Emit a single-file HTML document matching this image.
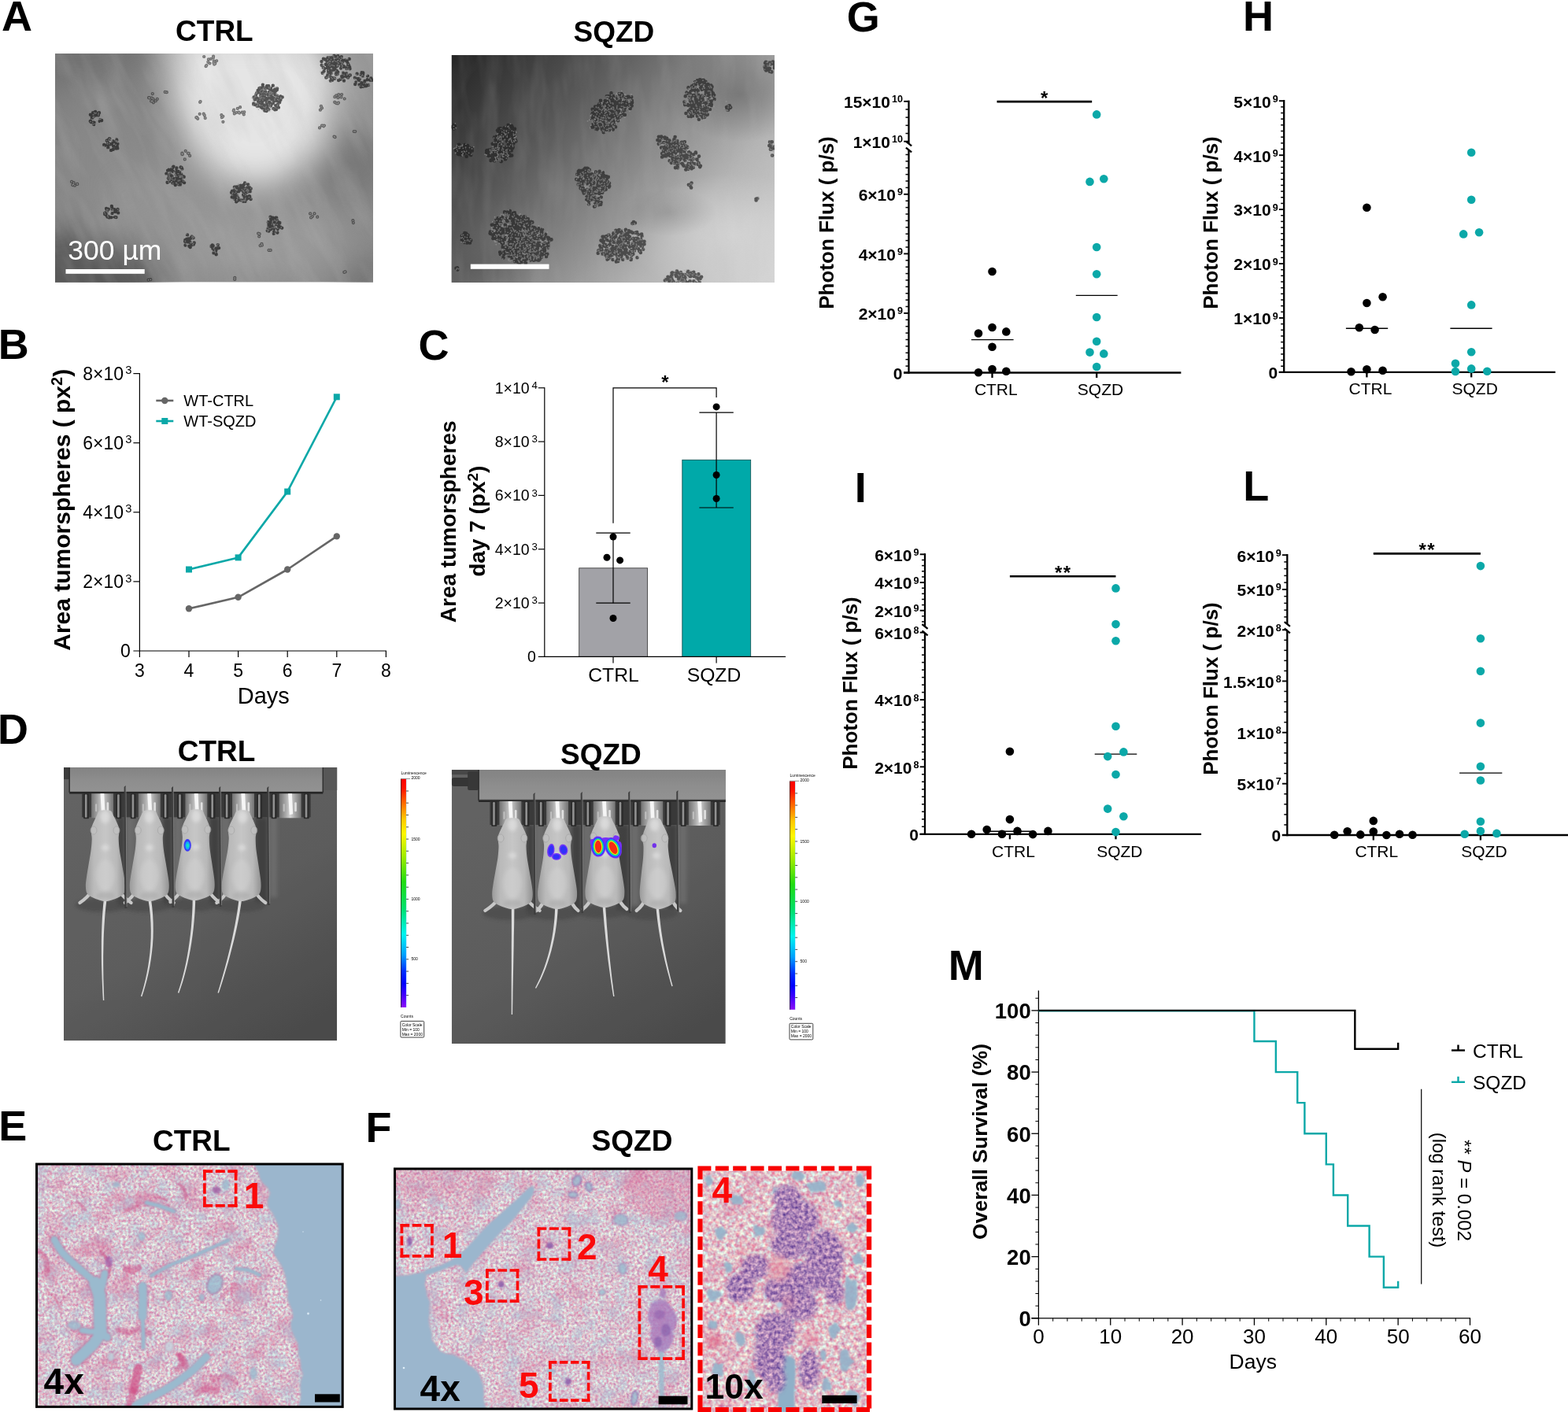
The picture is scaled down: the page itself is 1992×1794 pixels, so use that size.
<!DOCTYPE html>
<html lang="en"><head><meta charset="utf-8"><title>Figure</title>
<style>
html,body{margin:0;padding:0;background:#fff;}
svg{display:block;font-family:"Liberation Sans",sans-serif;}
.b{font-weight:bold;}
</style></head>
<body>
<svg width="1992" height="1794" viewBox="0 0 1992 1794">
<rect width="1992" height="1794" fill="#fff"/>
<defs>
<clipPath id="cA1"><rect x="70" y="68" width="404" height="290.5"/></clipPath>
<linearGradient id="gA1" x1="0" y1="0" x2="1" y2="1"><stop offset="0" stop-color="#7c7c7c"/><stop offset="0.5" stop-color="#8e8e8e"/><stop offset="1" stop-color="#8a8a8a"/></linearGradient>
<radialGradient id="gA1b" cx="0.5" cy="0.5" r="0.5"><stop offset="0" stop-color="#e4e4e4"/><stop offset="0.62" stop-color="#dedede" stop-opacity="0.97"/><stop offset="0.84" stop-color="#c4c4c4" stop-opacity="0.55"/><stop offset="1" stop-color="#a0a0a0" stop-opacity="0"/></radialGradient>
<radialGradient id="gA1c" cx="0.5" cy="0.5" r="0.5"><stop offset="0" stop-color="#4a4a4a" stop-opacity="0.75"/><stop offset="1" stop-color="#4a4a4a" stop-opacity="0"/></radialGradient>
<radialGradient id="gA1d" cx="0.5" cy="0.5" r="0.5"><stop offset="0" stop-color="#a8a8a8" stop-opacity="0.8"/><stop offset="1" stop-color="#a8a8a8" stop-opacity="0"/></radialGradient>
<filter id="fA1" x="-5%" y="-5%" width="110%" height="110%"><feGaussianBlur stdDeviation="0.55"/></filter>
<filter id="nA1" x="0" y="0" width="100%" height="100%"><feTurbulence type="fractalNoise" baseFrequency="0.012 0.05" numOctaves="3" seed="4" result="t"/><feColorMatrix type="matrix" values="0 0 0 0 0.5  0 0 0 0 0.5  0 0 0 0 0.5  1.6 0 0 0 -0.62"/></filter>
</defs>
<g clip-path="url(#cA1)">
<rect x="70" y="68" width="404" height="290.5" fill="url(#gA1)"/>
<filter id="bA" x="-50%" y="-50%" width="200%" height="200%"><feGaussianBlur stdDeviation="20"/></filter>
<g filter="url(#bA)">
<ellipse cx="60" cy="370" rx="150" ry="80" fill="#4c4c4c" opacity="0.8"/>
<ellipse cx="70" cy="60" rx="130" ry="45" fill="#6c6c6c" opacity="0.7"/>
<ellipse cx="130" cy="200" rx="60" ry="90" fill="#8c8c8c" opacity="0.5"/>
<ellipse cx="450" cy="210" rx="50" ry="45" fill="#707070" opacity="0.7"/>
<ellipse cx="480" cy="370" rx="50" ry="40" fill="#6a6a6a" opacity="0.7"/>
<ellipse cx="330" cy="310" rx="110" ry="45" fill="#a4a4a4" opacity="0.6"/>
<ellipse cx="210" cy="260" rx="80" ry="50" fill="#9a9a9a" opacity="0.5"/>
<ellipse cx="455" cy="90" rx="40" ry="40" fill="#a0a0a0" opacity="0.6"/>
<path d="M215,40 L400,40 L425,110 L410,185 L350,235 L290,230 L245,190 L220,130 Z" fill="#e6e6e6"/>
<ellipse cx="320" cy="120" rx="70" ry="70" fill="#e4e4e4" opacity="0.9"/>
</g>
<rect x="-80" y="-82" width="704" height="590.5" fill="#000" filter="url(#nA1)" opacity="0.3" transform="rotate(65 272 213)"/>
<defs><path id="pA1" d="M332.6 113.1h0M323.8 126.6h0M324.6 125.6h0M337.2 112.2h0M336.9 135.5h0M327.9 130.2h0M342.8 121.5h0M332.2 114.4h0M332.8 135.3h0M342.5 130h0M341.1 112.1h0M328.5 131.4h0M332.5 128.3h0M331.5 135.9h0M329.7 127.9h0M353 132.8h0M336.6 133.4h0M339.1 109.1h0M350.5 128.1h0M332.3 132.2h0M342.8 123.8h0M357.1 124.5h0M322.2 132.5h0M331 121.4h0M322.8 124.2h0M349.1 113.6h0M335.8 136.8h0M337.4 127.2h0M351 137.1h0M336 120.2h0M328 116.9h0M339 128.3h0M334 127.9h0M346.9 125.9h0M346.8 108.8h0M350.9 139h0M335.8 122.3h0M344.1 112.1h0M328.9 114.4h0M333.9 107.8h0M343.6 114.2h0M334.2 121.2h0M338.3 124.9h0M325.2 120.4h0M350.6 115.2h0M355.2 126.3h0M341.2 109.2h0M346.7 117.5h0M326.7 134.7h0M349.4 120h0M353.9 136.6h0M348.7 116.1h0M334.6 111.2h0M330.7 116.8h0M358.7 123.4h0M334.7 116.5h0M327.6 115h0M338.7 131h0M322.2 131.4h0M350.2 133.9h0M327.8 134.8h0M335.1 121.7h0M347.3 115.2h0M352.1 112.4h0M334.3 126.9h0M345.8 126.4h0M336.8 139h0M329.1 117.4h0M330.2 128.2h0M336.1 111.6h0M333.8 123.9h0M356.4 122.4h0M339.6 126.5h0M322.6 123.5h0M326.4 124.5h0M341.7 119.5h0M341.4 134.2h0M341.7 117.3h0M350 125.7h0M349.2 139.2h0M343.8 125.6h0M346.9 123.8h0M338.6 141.1h0M329.4 127.6h0M351.2 114.2h0M337.4 111.8h0M322.2 131.6h0M347 130.4h0M335.2 124.9h0M351.9 114.1h0M340 120.3h0M333.4 132.1h0M341.3 123.6h0M333.1 129.6h0M326.1 118.3h0M349.2 118.3h0M336.3 140.5h0M329.4 112.3h0M341.9 131.5h0M323 131.7h0M344.1 134.6h0M352.8 123.9h0M341.4 139.1h0M326.3 126.3h0M331.9 118.4h0M332.1 125.4h0M347.7 127h0M338.6 138.8h0M351.6 123.1h0M352.2 121.8h0M333.2 137.3h0M344.5 122.3h0M324.1 133.1h0M345.6 118.4h0M332.3 124.1h0M337.2 116.5h0M356.4 126.9h0M335 124.5h0M329.5 125.5h0M330.8 111.8h0M331.9 116.1h0M340.7 134.2h0M347.5 137.9h0M325.7 133.3h0M355.2 130h0M351.4 113.1h0M339.7 137.6h0M353.1 128.5h0M346 131.5h0M333.8 110.9h0M429.3 91.7h0M433 86.7h0M438.3 95.9h0M428.2 92.1h0M435.1 79h0M418.7 94.7h0M426.8 82.8h0M434.2 96.9h0M432 73.1h0M418.1 95.3h0M429.3 71.3h0M417.8 93.5h0M433.7 79.4h0M425.8 85.9h0M443.7 74.9h0M425.3 99.8h0M425.2 79.3h0M430.1 74h0M440.3 87.3h0M435.5 76.4h0M426.5 71.9h0M426.7 85.3h0M413.9 81.6h0M435.7 98.1h0M444.8 95.4h0M419.2 82.5h0M422 84.5h0M441 78.5h0M417.4 78.5h0M413.9 81.9h0M442.1 98.6h0M428.7 94h0M436.4 85.1h0M431.9 80.1h0M426 81.6h0M418.3 92.3h0M429 83.5h0M412.9 75.5h0M426.9 75.9h0M444.2 85.4h0M421.4 73.2h0M417 89.7h0M436.3 83.9h0M427.9 82.7h0M408.5 78.1h0M412.3 87.1h0M440 77.3h0M417.6 83.4h0M442.4 86h0M418.2 74.1h0M427.9 94.2h0M436 92.6h0M425.6 88.6h0M438.8 76.4h0M432 80.6h0M417.1 92.1h0M427.9 89.9h0M417.7 90.2h0M418.6 85.4h0M432.5 100.7h0M415.8 76.9h0M433.9 80.9h0M426.9 93.2h0M416.8 93.6h0M420.6 84h0M414.9 98.3h0M427.2 75.2h0M420.3 97.8h0M416.9 95.9h0M442.9 86.9h0M416.1 83.9h0M422.5 75.5h0M408.7 82.8h0M443.3 96.4h0M442.2 81.3h0M409.7 92.7h0M422.6 81.4h0M421.9 101.9h0M421.1 99.5h0M424.4 70.9h0M422.5 101h0M422.4 99.7h0M423.4 98.9h0M416.9 96.8h0M420.2 77.9h0M431.7 78h0M420.9 79.9h0M437 102.5h0M415.8 86h0M443.2 83.2h0M424.1 86.7h0M414.3 98.5h0M439.6 97.1h0M420.7 80.7h0M416.2 95.6h0M429.2 80h0M418.9 73.5h0M426.9 94.5h0M416.6 83.9h0M434.2 96.7h0M433.8 72.2h0M419.4 89.3h0M435.5 76.8h0M416.4 73.4h0M429.9 80.9h0M444.5 87.2h0M440.1 93.2h0M410.7 86h0M410.9 74.6h0M430.1 102h0M440.1 85.3h0M411.6 90.6h0M417.2 82.7h0M415.5 78h0M432.1 77.6h0M420.9 92.9h0M419.4 75.6h0M428.7 72.8h0M422.9 88.9h0M434 83.9h0M420 102.6h0M429.5 82h0M421.5 75.5h0M443.4 84h0M459 109.6h0M462.2 105.1h0M452.2 104.4h0M461.1 95.3h0M461.4 109.7h0M460.8 108.8h0M453.6 93.7h0M470.3 101.7h0M471.3 99.5h0M463.4 108h0M467.1 96.6h0M468 108.1h0M454.8 100h0M458.6 94.9h0M465.4 109.1h0M462.2 106.6h0M463.3 103h0M456.7 100.4h0M459.4 105.1h0M459.6 92.2h0M460.8 96.4h0M466.7 101.2h0M460.5 94.8h0M459.5 93.9h0M461.2 92.5h0M451.2 107h0M461.3 93.1h0M458.5 110.2h0M465.7 107.8h0M472.8 101.8h0M450.9 98.8h0M456.5 107.8h0M461 109.8h0M456 102.1h0M464.6 109.3h0M315.2 234.5h0M311.5 240.9h0M309.1 247.4h0M311.3 241.9h0M309.7 241h0M305.9 235.8h0M300.1 249.2h0M309.7 249.2h0M298.2 248.1h0M307.8 254.7h0M301 248.7h0M297.6 241.4h0M309.6 247.2h0M310.6 244.4h0M311.5 255.7h0M305.2 239.4h0M311.3 246.6h0M311.8 243.3h0M314.4 237.6h0M295.5 245.8h0M308.8 255.9h0M299.4 247.9h0M311 252.8h0M302.9 240.2h0M318.6 253h0M314.5 244h0M306.3 238.3h0M302.9 252.1h0M316.3 250.4h0M309.1 243.2h0M308.1 238.4h0M300.7 237.5h0M303 254.8h0M300.2 256.3h0M313.3 250h0M306.6 254.6h0M317.7 243.2h0M309.3 240.2h0M311.1 232.5h0M303.8 236.4h0M294.7 250.4h0M312.3 250.7h0M310.1 241h0M297.9 237.8h0M316.6 248.9h0M310.7 239.8h0M297.4 251.5h0M303.2 243.2h0M300.6 238.8h0M303.5 239.6h0M307.6 254.8h0M295 242.7h0M315.2 240.7h0M308.6 236.7h0M298.5 252.9h0M294.1 244.8h0M315.5 236.5h0M303.6 253.4h0M318.7 239.6h0M312.4 245h0M311.4 232.9h0M313 253h0M303.7 242.4h0M298.8 238h0M307.5 241.4h0M300.3 243.9h0M314.6 252.1h0M303.7 240.7h0M317.3 249.6h0M298 243.2h0M309.6 235h0M317.1 238.4h0M301.7 250.9h0M214.6 215.6h0M218.9 224.5h0M218 215h0M229.6 212.5h0M211.4 220.6h0M230.5 230h0M215.8 227.2h0M216.2 221.4h0M220.3 231.9h0M223 227.4h0M213.9 226.6h0M229.2 234.4h0M224.9 230.4h0M215.3 230.3h0M230.7 229.6h0M227.6 227.6h0M218.6 227h0M220.8 231.7h0M226.3 217.6h0M221.9 227.1h0M227.2 234.3h0M226.9 231h0M222.8 235h0M224.2 214.6h0M233.4 224.5h0M225 225.1h0M223.3 227.9h0M223.6 221.4h0M215.7 228.7h0M230.6 213h0M219.4 213.1h0M220.4 211.6h0M221 229h0M216.5 216.4h0M233.7 224.7h0M230.3 221.4h0M212.6 231.7h0M226.5 223.2h0M218.9 227.9h0M230.8 223.2h0M224.4 213.5h0M219.4 232.6h0M219.8 217.7h0M228.4 218.7h0M217.9 223.5h0M226.5 228h0M232.6 230.7h0M230.6 227.1h0M226.7 218.1h0M213.1 216.6h0M218.6 214.1h0M231.3 214.6h0M225.9 231.6h0M234.1 232.1h0M215.1 229h0M229.9 222.3h0M224.3 218.3h0M214.6 223.8h0M344.1 278.2h0M344.9 286.9h0M344.1 287.4h0M353.7 283.3h0M348.2 288.7h0M348.1 290.4h0M345.3 285.6h0M348.5 282.1h0M341.5 285.4h0M351.9 279.7h0M342.8 287.3h0M339.7 293h0M345.1 281h0M358.2 289.6h0M340.8 282.2h0M347.4 289.2h0M353.9 286.9h0M348 289.7h0M356 288.5h0M348.4 290.4h0M349.9 279.4h0M344 291.2h0M352.4 295.5h0M341.4 293.6h0M346.5 280.9h0M343 282.1h0M348.3 294.5h0M346.6 276.8h0M353.9 287.8h0M343.6 275.6h0M347.7 296.7h0M344.4 284.3h0M348.4 280.2h0M350.3 276.7h0M351 280h0M352.7 291.1h0M351.2 276.6h0M351 285h0M340.5 290.6h0M353.4 285.7h0M341.6 287.6h0M349.9 277.6h0M341.3 289.3h0M342.7 283.3h0M346.6 281.9h0M353.7 282.2h0M347.6 281.9h0M355.5 283.2h0M347.8 295.4h0M137.2 181.7h0M147.6 188.5h0M149.3 188.4h0M143.6 179.1h0M148.8 186.2h0M138.9 176.3h0M148.3 177.9h0M144.1 185.8h0M135.8 178.8h0M147.3 182.4h0M147.7 187.1h0M143.7 189.9h0M142.4 182.6h0M136.3 178.5h0M146.1 180.8h0M140.2 183.3h0M139.4 176.5h0M147.9 177.4h0M139.3 183.3h0M149.4 182.8h0M137.3 187.4h0M136.6 178.4h0M132.2 184h0M141.1 190.9h0M133.5 184.5h0M137 184.1h0M129.1 153h0M121.1 143.2h0M119.4 158h0M126.7 153.9h0M115.7 155.1h0M124.9 146.3h0M126 143.2h0M118.1 143.3h0M117.2 145.7h0M125.1 145.1h0M121.1 142h0M127.4 152.3h0M119.5 155.8h0M123.9 144h0M114.8 153.9h0M118.6 148.5h0M118.5 155.9h0M116.9 149.8h0M127.9 152.8h0M121.7 146.4h0M116.7 147.3h0M114.9 145.8h0M115.3 153.9h0M147 268.2h0M142.5 265.6h0M149.5 265.9h0M135.1 265h0M145.4 266.1h0M134.6 272.2h0M137.8 265.7h0M145.8 275.6h0M146.4 269h0M138.8 276.4h0M141.9 262h0M141.6 276.1h0M136.5 275.6h0M135.8 268.4h0M133.2 270.8h0M142.3 264.1h0M147.5 276.1h0M146 268.5h0M150.2 270.4h0M142.5 271h0M138 275h0M135.3 273.5h0M133.2 272.1h0M241.7 308.3h0M246.7 308.5h0M235.4 304.9h0M238 298.4h0M235.1 306.8h0M235.4 306.4h0M235.5 311.5h0M239.5 303.5h0M241.9 302.9h0M245.6 302.3h0M238.5 303.7h0M245.9 310.6h0M241.7 314.1h0M237.3 303.6h0M239.5 305.5h0M240.5 305.1h0M243.7 311.1h0M243.8 300.6h0M237.4 305.8h0M243.3 300.5h0M240.4 312.7h0M238.6 307.4h0M274.7 323.3h0M270.1 315.5h0M268.4 312.8h0M270.7 312.3h0M274.1 321.6h0M274.3 318.2h0M276.4 315.4h0M274.9 315.5h0M269.8 311.5h0M272 317.2h0M271.5 321.4h0M274.2 315.9h0M276.8 311.1h0M278.1 315.1h0"/><path id="pA1s" d="M264.9 75.4h0M259.2 72h0M271.1 71.7h0M264.3 78.8h0M273.3 80.8h0M271.6 79.9h0M266.5 80.5h0M271.8 77.5h0M275.2 77.3h0M272.2 81.7h0M264.9 75.6h0M270.9 73.5h0M268 74.8h0M197.8 128.2h0M193.8 119.1h0M190.1 124.4h0M192.1 128.5h0M193.6 128.4h0M189 124.2h0M194.9 130.3h0M194.6 125.8h0M192.8 124.6h0M199.8 125.8h0M296.7 140.8h0M304.1 143.6h0M310.3 142.3h0M300.3 143h0M297.1 139.7h0M307.7 142.7h0M309.8 145.4h0M301.8 137.9h0M303.2 142.6h0M297.8 144.4h0M305.1 136.2h0M259.8 146.6h0M260.7 150.1h0M250.1 149h0M251.2 150.8h0M253.7 144.8h0M258.8 144.7h0M249.3 149.3h0M95 235.7h0M92.3 235.1h0M91 230.9h0M97.9 233.8h0M93.6 232h0M98.3 233.9h0M93.4 234.1h0M239.7 194.8h0M238.9 194.8h0M241.1 197.9h0M231.8 196.1h0M231.4 194.7h0M234.8 202.4h0M231.4 195.9h0M235.7 191.8h0M429.4 124.2h0M425.2 129.8h0M427.1 121.3h0M433.4 123.4h0M434.1 120h0M430 130.5h0M425.3 123.2h0M429.2 131.4h0M437.7 125.5h0M430.2 120h0M427.1 131.1h0M407.9 134.9h0M406.9 139.7h0M409.1 137.3h0M411.3 160.3h0M409.5 159.5h0M411.9 159.5h0M406 162.4h0M409 159.5h0M449.7 167h0M451.2 167.1h0M425.6 174.2h0M424.5 173.6h0M396.9 275h0M395.1 276.4h0M399.4 271.4h0M403.2 275.7h0M394.1 271.4h0M328.1 296.7h0M329.7 297.2h0M329.2 300.5h0M330.6 312.1h0M332.5 309.9h0M332.9 311.6h0M341.6 317.9h0M343.7 317.9h0M448.9 283.1h0M448.4 280.2h0M437.3 345.8h0M438.6 345.4h0M298.3 352.9h0M298.2 354.9h0M209.7 116.9h0M211.8 117.2h0M283.4 154.8h0M283.3 147.8h0M281.9 149.2h0M281.4 146.2h0M254.6 129h0M254.1 129.8h0M262.4 83.1h0M261.6 84.2h0M191.3 355.2h0M188.6 355.7h0"/><path id="pA1h" d="M337.9 135.2h0M325.3 118.5h0M330.8 114.6h0M337.6 112.8h0M338.4 121.1h0M321.9 133.6h0M341.9 112.1h0M337 114.7h0M345.6 130.2h0M344.9 117.5h0M349.4 136.4h0M326.6 130.5h0M350.9 137.3h0M332.4 113.8h0M332.6 120.9h0M334.8 136h0M321.5 127.7h0M352.8 133.1h0M356.4 125.2h0M326.2 118.5h0M324.8 131.3h0M337.6 139.8h0M323.3 123.5h0M353.3 138.3h0M336.6 117.7h0M340 122.8h0M337 131.5h0M331.6 123.4h0M334.3 116.1h0M332 123.9h0M343.6 134.9h0M345.9 128.9h0M342.2 140.7h0M344.9 118.8h0M327.8 131.4h0M324.2 130.7h0M342.6 122.5h0M341.7 122.2h0M341.5 111.1h0M330.1 111.5h0M329.9 125h0M330.1 127.6h0M340 128.1h0M336.1 111.1h0M354 127.2h0M350.4 110.8h0M348.6 110.8h0M334.9 113h0M341.7 133.9h0M330.7 121.6h0M342.9 116.1h0M348.1 122.6h0M344.2 138.2h0M327.4 133.4h0M350.3 132h0M324.3 120.8h0M354.7 132.1h0M343.5 111.6h0M352.2 110.9h0M345.7 117.7h0M337.4 137.1h0M325.8 134.9h0M341.7 117.9h0M334.6 112.2h0M341.1 132.3h0M333.5 113.5h0M352.1 134.5h0M326.9 136.7h0M335.8 124.6h0M353.8 121.5h0M343.5 111.6h0M328.5 139.1h0M334.1 124.3h0M335.7 121h0M342.2 120.4h0M338.1 140.1h0M326.8 130.9h0M331.4 125.4h0M342.4 126.5h0M342 135.4h0M350.3 130.1h0M333.9 117.4h0M346.8 118.3h0M348.9 125.7h0M333.9 127.1h0M323.5 120.1h0M357.5 124.8h0M330.1 116.7h0M353.4 123.8h0M341.9 119.2h0M323.8 119h0M349 127.3h0M333.3 140h0M342.5 141.4h0M350.9 122.7h0M321.5 124.8h0M332 118.1h0M326.1 117.1h0M329.6 122.2h0M343.5 138.2h0M326.7 134.2h0M343.6 110h0M352.5 120.5h0M326.6 126.8h0M344.4 138.8h0M332.7 134.2h0M336 131.2h0M324.5 122.8h0M344.3 119.8h0M343.2 117.2h0M341.7 140.2h0M343.7 132.7h0M327.3 133.6h0M351.5 122.8h0M343 127.3h0M343.6 119.3h0M329.7 133h0M350.7 118.5h0M356.7 123.9h0M340.3 139.1h0M320.1 124.5h0M351.1 120.2h0M330.2 133.3h0M322.6 125.5h0M334.8 114.4h0M347.8 138.6h0M339.5 129.9h0M350.4 124.1h0M348.7 110.1h0M336.2 136.5h0M429.7 83.4h0M442.8 91.3h0M417.7 78.6h0M416.2 75.7h0M433.1 78.9h0M417.1 89.3h0M417.5 96.8h0M418.8 81h0M433.9 90.5h0M429.8 99.8h0M442.6 81.6h0M442 74.6h0M435.3 73.7h0M433.7 72.8h0M444.4 95.5h0M416.5 98h0M410.6 87.2h0M424.7 74.4h0M426.5 74.1h0M415.8 93.1h0M435.2 87h0M420.9 86.9h0M420.6 75.6h0M440.8 94.9h0M416 79.4h0M410 87.3h0M428.9 82.6h0M434.2 92.6h0M429.1 94.6h0M440.9 94.6h0M419.3 83.8h0M422.8 83h0M443.6 77.9h0M422.7 78.3h0M436.6 100.1h0M434.6 80.5h0M429.1 79.6h0M440.7 87.4h0M431.8 95.5h0M435.1 83.1h0M431.1 93.1h0M431.6 88.4h0M431.7 77.7h0M426 95h0M426.2 77.8h0M443.3 88h0M428 97.6h0M414.7 98.5h0M432.8 99.9h0M422.1 99.9h0M417.9 73.2h0M438.4 87.8h0M409.5 82.8h0M434.4 85.2h0M437.4 95.5h0M433.9 82.2h0M417.4 82.5h0M422.8 70.9h0M429.5 72.3h0M434.9 79.2h0M418.2 97.8h0M431.8 99h0M424 97.8h0M422.2 70.8h0M422.2 94.3h0M423.2 92.7h0M421.3 82.8h0M422.3 92.7h0M411.2 96h0M428.1 86.9h0M430.5 85.7h0M439.8 84h0M441.8 84.8h0M427.5 99.2h0M435.1 83.9h0M434.3 89.1h0M436.6 74.2h0M435.6 89.1h0M433.8 94.6h0M410.4 93.7h0M438 99.3h0M421.5 87.6h0M418.5 80.7h0M440.7 89h0M424.1 71.6h0M442.1 98.8h0M418.8 77.4h0M428.4 82.5h0M426.6 89.9h0M439.6 75.1h0M429 71.6h0M428.3 83.7h0M419.8 78.3h0M418.5 95.1h0M430.9 85.2h0M425.1 99.2h0M424.8 91.5h0M431 74.3h0M429.3 97.8h0M433.3 93h0M417 98.1h0M423.9 92.4h0M441.1 93.1h0M412 93.3h0M439 80h0M430.2 80.4h0M420.9 98.3h0M423 70.7h0M432.4 76.9h0M410.7 85.7h0M424.6 92.8h0M442.9 87.9h0M421.2 96h0M426.4 100.4h0M428.4 73.5h0M417.6 102.3h0M407.2 91h0M420.9 103.6h0M410.1 81.1h0M418.1 95.1h0M436.8 80.5h0M429.3 72.3h0M437.8 90.4h0M411 87.4h0M464.3 94.5h0M457.6 99.4h0M452.8 94.7h0M457 109.5h0M460.6 95.7h0M460.9 102.7h0M460.3 95.2h0M461.1 99.5h0M459.1 96.6h0M455.3 109.4h0M471.4 101.8h0M462.4 105.5h0M466.2 95.5h0M450.6 99.9h0M456.9 109h0M462.8 96.6h0M466.6 105.8h0M454.8 104.2h0M450.4 104.5h0M468.4 98.6h0M460.3 109.4h0M470.5 100.3h0M451.4 96.6h0M464.8 95.3h0M453.6 96.4h0M460.5 101.9h0M470.3 107.2h0M453.8 104.7h0M467.6 93.4h0M457.3 94.5h0M464.5 106.5h0M470.6 107.3h0M467.5 103.8h0M468.8 108.2h0M461.6 110.1h0M301.2 253.5h0M299.9 243.9h0M307.3 256.5h0M313.6 241.9h0M316.3 250.5h0M315.4 242.7h0M311.5 253.7h0M310.2 254.7h0M295.7 244.7h0M297.2 253.3h0M310.2 243.9h0M299.1 240.7h0M310.4 239.9h0M301.4 250.4h0M311.5 252.5h0M312.8 231.7h0M298 238.2h0M303.4 236.9h0M310.4 255.4h0M307.5 257.3h0M316.5 235.8h0M320.4 243.7h0M301.4 241.4h0M308.9 254.8h0M303.9 257.7h0M312.1 233.2h0M306 257h0M311.7 248.5h0M308.2 250.2h0M307.4 240.9h0M312.4 246.5h0M314.7 256.1h0M302.3 234.1h0M309.6 246.8h0M304.5 251.9h0M301.9 251.7h0M308.8 242.6h0M311.7 253.6h0M304.1 258.1h0M312.2 239.5h0M309.7 254.4h0M303.4 235.2h0M313.6 236.5h0M295.8 239.7h0M298.2 239.3h0M299.4 240.2h0M297.2 238.7h0M304.6 256.8h0M306.1 254.4h0M314.4 240.4h0M314.5 244.2h0M311.9 251.5h0M303.8 256.4h0M302.1 248.3h0M316 246.7h0M318.6 239.1h0M295.2 246.4h0M312.7 242.5h0M296.6 239.6h0M320.7 248.8h0M315.7 241.9h0M313.9 240.8h0M315.1 241.2h0M317.6 245.9h0M311.7 254.9h0M303.2 233.5h0M307.6 254.9h0M309.6 242.4h0M301 255h0M317 235.2h0M315 245h0M319.1 252.1h0M311.2 254.3h0M228.4 229.4h0M217 212.5h0M230.8 218.5h0M215.5 213h0M219.7 228.7h0M230.8 220h0M226.2 215.1h0M211.4 222.6h0M216.1 227.2h0M218.9 225.7h0M231.3 215.8h0M230.1 224.9h0M223.1 222.2h0M226.4 230h0M220.3 224.3h0M215 234.7h0M212.8 223.5h0M221.7 229h0M221.9 220.2h0M220.7 218.8h0M229 224.4h0M215.7 228.9h0M216.6 225.6h0M228.2 229.1h0M232.7 230h0M217.4 220.5h0M218.3 213.1h0M219 235.1h0M221.9 214.6h0M214.1 231.2h0M231.3 223.3h0M224.5 224.2h0M234.8 230h0M236.2 222.3h0M219.7 232.8h0M215.8 226.2h0M229.6 223.2h0M232.1 224.8h0M218 227.5h0M222.6 227.4h0M216.5 234.3h0M213.6 226.2h0M215 222.8h0M226.5 229.3h0M213 229.2h0M222.2 221.3h0M228.8 217h0M227.6 223.3h0M232.5 226.3h0M215.5 221h0M231.9 227.7h0M215 228.9h0M226.4 234.3h0M230.4 212.5h0M228.9 215.3h0M215.1 224.3h0M231.2 235.1h0M224.5 232.4h0M348.3 288.2h0M346.2 281.5h0M352.4 285.2h0M348.8 279.7h0M346.1 283.1h0M351.5 294.3h0M335.1 283.2h0M352 278.1h0M334.7 290.3h0M345.5 285h0M348.2 289.6h0M351.6 293.2h0M352.8 290.2h0M349.6 293.6h0M355.9 278.2h0M343.6 290.3h0M340 282.8h0M333.2 284.6h0M349.3 296.1h0M351.2 281.3h0M342.9 276.1h0M340.3 292.3h0M355.2 292.5h0M340.3 288.7h0M345.9 295.4h0M345.8 289.3h0M357.5 283.8h0M340.1 293.9h0M338 291.3h0M336.2 284.6h0M350.3 291.7h0M339.2 281.3h0M349.7 280h0M357.3 289.2h0M349.2 288.3h0M340.4 277.4h0M344.8 296.8h0M339.6 291.5h0M334.8 281.8h0M350.2 284.7h0M341.4 292.5h0M354.3 279.5h0M352.5 289.6h0M349.3 288h0M337.5 278.9h0M358 283.3h0M346.6 280.5h0M341.8 290.5h0M352.2 280.7h0M142.4 177.2h0M147.7 179.7h0M146.9 178.9h0M136.6 181.2h0M145.1 182.5h0M132.3 185.8h0M140.8 176.9h0M145.8 177.1h0M141.6 178.1h0M140.9 177.5h0M138.9 182.5h0M143 176.6h0M147.3 184.1h0M142.5 179.2h0M148.6 178.9h0M137.4 189.7h0M146.6 176.3h0M138.2 178.1h0M138.9 176.2h0M141.7 178.5h0M144.7 183.2h0M141.4 186.9h0M136.5 183h0M145.2 176.9h0M149.8 180.7h0M135.5 178.5h0M121.1 144h0M126.4 151.7h0M120.6 152.8h0M121.6 150.2h0M121.9 159.1h0M117.8 155.6h0M119.3 148.4h0M119.8 143.4h0M118.1 149.2h0M125.2 143.9h0M122.4 151.6h0M116.7 151.5h0M120.5 157.3h0M118.4 157.8h0M118.3 145.8h0M128 148.6h0M127.8 155.7h0M122.2 143.5h0M124.7 151.7h0M127.9 151.2h0M124.9 145.9h0M119.8 150.4h0M115 154.5h0M141.5 273.5h0M132.8 270.1h0M145.5 272.7h0M136.7 269.3h0M136.1 268.9h0M149.6 266h0M139.3 273.3h0M135.8 266.4h0M135.6 269h0M133.6 272h0M143.5 268.1h0M140.9 265.3h0M135.2 268.2h0M147 276.1h0M144.7 274.1h0M136.8 274.6h0M137.5 275.8h0M143.4 266.2h0M142.6 273.9h0M136.8 273.3h0M136.9 266.6h0M139.2 270.8h0M140.6 270.2h0M243.3 308.3h0M245.9 309h0M241.3 298.8h0M242.3 297.6h0M244.6 302.8h0M236.8 310.7h0M235.4 306.4h0M245 310.9h0M236.9 297.4h0M242.4 299h0M242.8 297.7h0M237.3 300.7h0M241.9 308.6h0M244.8 300.2h0M243.7 308.5h0M247.5 299.9h0M243.8 301h0M236.7 310.3h0M245.9 301.7h0M245 296.8h0M241.6 298.1h0M247 304.4h0M268 316.1h0M271.5 319.5h0M276.9 310.3h0M271.9 315.8h0M275.7 311.7h0M273.1 319.6h0M271.4 315.1h0M278.9 317.7h0M272.8 318.1h0M272.9 317.8h0M267 320.3h0M272.5 309.5h0M266.7 312.4h0M273.8 320.9h0"/></defs>
<g filter="url(#fA1)" stroke-linecap="round" fill="none">
<use href="#pA1" stroke="#1c1c1c" stroke-width="4.4" opacity="0.72"/>
<use href="#pA1h" stroke="#9a9a9a" stroke-width="1.7" opacity="0.55"/>
<use href="#pA1s" stroke="#2a2a2a" stroke-width="4.2" opacity="0.62"/>
<use href="#pA1s" stroke="#b0b0b0" stroke-width="1.6" opacity="0.7"/>
</g>
<rect x="83.5" y="342" width="100.2" height="5.8" fill="#fff"/>
<text x="86.3" y="329.8" font-size="35.5" fill="#fff">300 µm</text>
</g>
<defs>
<clipPath id="cA2"><rect x="573.5" y="70" width="410.5" height="289"/></clipPath>
<linearGradient id="gA2" gradientUnits="userSpaceOnUse" x1="590" y1="60" x2="960" y2="370"><stop offset="0" stop-color="#262626"/><stop offset="0.25" stop-color="#4e4e4e"/><stop offset="0.5" stop-color="#808080"/><stop offset="0.75" stop-color="#b4b4b4"/><stop offset="1" stop-color="#d4d4d4"/></linearGradient>
<radialGradient id="gA2b" cx="0.5" cy="0.5" r="0.5"><stop offset="0" stop-color="#d6d6d6" stop-opacity="0.9"/><stop offset="1" stop-color="#d6d6d6" stop-opacity="0"/></radialGradient>
<radialGradient id="gA2c" cx="0.5" cy="0.5" r="0.5"><stop offset="0" stop-color="#555" stop-opacity="0.7"/><stop offset="1" stop-color="#555" stop-opacity="0"/></radialGradient>
</defs>
<g clip-path="url(#cA2)">
<rect x="573.5" y="70" width="410.5" height="289" fill="url(#gA2)"/>
<ellipse cx="930" cy="300" rx="130" ry="80" fill="url(#gA2b)"/>
<ellipse cx="940" cy="120" rx="90" ry="60" fill="url(#gA2c)" opacity="0.7"/>
<ellipse cx="600" cy="340" rx="80" ry="50" fill="url(#gA2c)" opacity="0.8"/>
<ellipse cx="850" cy="270" rx="60" ry="30" fill="url(#gA2c)" opacity="0.35"/>
<rect x="473.5" y="-30" width="610.5" height="489" fill="#000" filter="url(#nA1)" opacity="0.2" transform="rotate(90 779 214)"/>
<defs><path id="pA2" d="M774.1 144h0M773.9 141.8h0M759.2 152.2h0M756.2 135.6h0M776.5 118.4h0M802.8 127.7h0M768.9 128h0M772.3 139.9h0M779.2 143.5h0M782.5 133.7h0M795.9 134.3h0M759.5 143.7h0M788 127h0M778.9 158.5h0M798.1 123.1h0M761.5 131.8h0M784.2 125.6h0M776.1 160.3h0M753.5 146.2h0M760.5 153.2h0M765.3 156.2h0M775.3 124.8h0M754.3 144.5h0M788.2 122.6h0M757.3 148.3h0M774.8 122.2h0M755 144h0M764.1 140.7h0M757.5 156.1h0M778.1 133.2h0M798.9 123.2h0M786.9 120.2h0M755.6 140.6h0M778.9 135h0M766.7 154.4h0M792.9 131.9h0M764.6 156.1h0M761.8 152.6h0M777.2 129.1h0M764.1 146.3h0M756.2 148.3h0M752.1 150.4h0M785.9 136.2h0M803 130.3h0M753.9 161h0M784.7 125.5h0M753.7 157.6h0M801.7 132.3h0M771.2 151.7h0M793.9 123.7h0M796 129.1h0M771 147h0M754.7 161.3h0M798.6 133.3h0M788.8 134.3h0M780 136.4h0M785.8 133h0M790.1 121.1h0M769.3 151.5h0M783.2 132.3h0M770.3 150.3h0M778.2 152.4h0M792.9 123.2h0M759.1 136.7h0M800.6 137.9h0M758.7 150.1h0M758.8 148.3h0M771.3 135h0M796.7 123.7h0M775.4 131.9h0M763 127.7h0M757.4 139.7h0M781.2 134h0M790.9 143.7h0M779 125.5h0M778.1 146.7h0M760.2 144.3h0M779 142.9h0M775.8 153.4h0M779.5 122.3h0M789.4 147h0M787.2 149h0M798.1 122.9h0M764 158.2h0M786.2 141.3h0M802.2 123.2h0M774.3 159.6h0M759.9 134.2h0M783.3 146h0M754.3 147.8h0M781.1 146.4h0M793.8 146h0M762.6 150.4h0M789.9 136h0M793.3 130.2h0M776.3 155.5h0M766.6 162.7h0M778 141.4h0M777.4 139.1h0M774.3 136.7h0M778.7 137.7h0M754.6 156.5h0M764.4 147.1h0M778.6 152.5h0M771.1 136.4h0M788.5 147.3h0M753.7 143.7h0M763.3 142.7h0M761.3 158.9h0M771.5 133.5h0M775.8 137.5h0M772 143.9h0M762.6 154.9h0M784.1 149.3h0M789.2 119h0M761.2 141.8h0M767.2 155h0M777 150.2h0M774.3 147.9h0M762.7 157.6h0M780.8 147.3h0M778.5 126.6h0M778.5 138.9h0M753.1 143.8h0M778.6 148.7h0M774.1 141.9h0M770.9 122.3h0M786.6 119.4h0M785.1 130h0M760.7 151.1h0M802.6 134.4h0M795.9 131.3h0M781.2 136.5h0M787.3 121h0M794.7 139.3h0M778.7 156h0M791.6 140.8h0M775.1 148.9h0M767.9 144.5h0M770.7 149.6h0M781 129.5h0M779.6 138.8h0M792.6 140.4h0M752.3 161.6h0M762.8 145.6h0M759.3 147h0M770.7 160.7h0M785.2 153.2h0M784.4 143.6h0M767.6 132.1h0M772.2 122.3h0M771.9 143.9h0M764.1 139.1h0M774.3 131.7h0M763.4 159.1h0M797.8 133.9h0M771 142.4h0M761.6 151.1h0M787.4 130.5h0M791.9 132.7h0M780.6 135h0M755.3 155.5h0M775.9 146.9h0M765.2 150.8h0M792 130.2h0M752.7 138.7h0M791.8 133.9h0M767.4 153.8h0M783.2 140.8h0M752.5 144.8h0M762 146.5h0M758.1 154h0M757.7 160.2h0M779.7 132.1h0M756.7 146.6h0M761.8 163.1h0M783.4 123.1h0M769.5 157h0M767.1 148.3h0M794.8 123.9h0M778.6 137.5h0M771.2 153.6h0M765.2 153.5h0M769.7 154.2h0M758.1 138.2h0M783.6 129.6h0M788.7 134.2h0M778.1 150.4h0M763.1 144.4h0M790.1 120h0M766.2 141.2h0M763.7 135.7h0M792.7 130.1h0M772.2 128.4h0M777.4 154.1h0M768.4 158.9h0M782 161.2h0M754.9 159h0M774 165.2h0M772 150.5h0M771.9 153.3h0M775.9 158.5h0M764.7 154.4h0M772.9 157.9h0M774.8 162.6h0M765.4 164.8h0M778.7 164.6h0M772.1 158.5h0M776.3 156.5h0M756.9 163.4h0M764.8 151.8h0M765.7 153.4h0M756.8 154.5h0M771.8 163.1h0M755.5 157.2h0M759.7 152.4h0M770.5 152.9h0M761.5 151h0M762.3 159h0M767.4 152.8h0M779.7 154.8h0M779.9 157.7h0M776.5 155.7h0M768.5 153h0M771.9 153.4h0M767.2 155.2h0M773.5 159.9h0M758.9 154.6h0M778.7 158.3h0M769 150.6h0M776.7 163.8h0M762.2 161.9h0M767.4 157.3h0M770.3 164.8h0M776.9 156.2h0M759.8 158.9h0M758.8 164.3h0M762.9 149.9h0M767.1 162.2h0M773.1 150.3h0M766.8 168.1h0M764.8 161.9h0M769.6 157.3h0M760.2 160.2h0M764.7 158.8h0M763.3 155.8h0M882 108.1h0M878.2 148h0M899.5 118.3h0M871.2 132.7h0M876.8 118.3h0M895.5 107h0M889.2 101.2h0M885.9 126.1h0M895.7 143.7h0M883.9 121h0M882.6 136.7h0M898.4 136.4h0M882.2 132h0M883.8 125.6h0M899 133.2h0M895.2 148.7h0M883.8 125.1h0M887.3 138h0M895.5 112.8h0M878.1 128.3h0M878.9 146.2h0M891 104.3h0M889.9 129.4h0M874.8 147.7h0M898.8 132.6h0M904.2 116.5h0M877.6 128.2h0M877.8 126.3h0M896.8 116.8h0M899 121.4h0M878.8 122.7h0M884.3 128.6h0M891.7 113.8h0M882.1 131.5h0M899.5 107.1h0M892.7 125.1h0M891.9 137.2h0M899.5 127h0M898 146h0M885.4 129.2h0M889.5 127.4h0M903.8 120.2h0M893.9 149.2h0M890.1 138.9h0M895.5 106.5h0M886.8 125.8h0M870.2 133.1h0M881 114.7h0M891.6 145.5h0M903.6 113h0M887.8 145.1h0M903.3 108.5h0M881.4 114.5h0M901.1 122.9h0M895.3 105.9h0M905.4 118.8h0M890.3 111.5h0M874.9 140.8h0M890.9 107.5h0M897.2 109.7h0M899.9 117.1h0M899.7 138.2h0M892.1 149.4h0M880.3 134.8h0M878.9 109.7h0M901.3 121.2h0M901.5 132.7h0M877 147.4h0M880.1 131.1h0M907.5 126.1h0M894.2 102.4h0M882.6 110.8h0M874.5 111.4h0M881.2 112.9h0M885.2 138.2h0M903.6 128.6h0M889.6 133.5h0M892.2 141.6h0M885.8 144.5h0M885.7 147.4h0M902.6 110.3h0M878.8 120.9h0M896.4 141.7h0M891 111.4h0M893.1 101.6h0M896.8 131.6h0M881 108.4h0M889.2 122.7h0M878.4 138.3h0M903.6 132.3h0M901 115.5h0M886 102.4h0M892.9 128h0M896.4 103.9h0M879.5 112.5h0M893.2 145.5h0M873.7 118.8h0M870.7 122.2h0M885.3 136.9h0M876.7 142.7h0M886.7 115.2h0M899.3 114.4h0M893 113.2h0M905.5 122h0M903.9 133.9h0M884.3 132.3h0M880.5 135.7h0M888.7 146.2h0M881.9 142.4h0M901.4 113.7h0M877.5 126.4h0M880.4 109.6h0M881.3 121.6h0M892 144.4h0M888.3 102.3h0M886.1 115h0M879.3 112.1h0M901.9 139h0M886.5 105.4h0M880.7 139.4h0M883.7 119.6h0M905.7 119.2h0M893.4 103.9h0M876.4 128.3h0M882.4 120.8h0M874.2 133.7h0M895.2 135.2h0M879.3 112.1h0M886.1 119h0M880.7 114h0M869.5 129.6h0M878.8 134.1h0M876 134.1h0M878.8 130.5h0M887.2 120.6h0M886 116.4h0M883.8 107.5h0M891 108.1h0M883 104.3h0M889.1 107.2h0M896.2 130.2h0M872.5 117.6h0M875 119.1h0M887.9 130.3h0M885 113.8h0M879.4 145.4h0M879.2 132.5h0M886.4 132.3h0M882.4 129.3h0M898.1 134.6h0M886.4 121.4h0M881.6 144h0M875.7 124.1h0M880.1 147.5h0M879.4 109.4h0M891.2 121.2h0M887.2 133.7h0M893.2 130.2h0M907.1 120.8h0M905.8 118.6h0M895.1 138h0M904.5 110.3h0M887.9 129.1h0M878.4 137.4h0M881.5 112h0M877.7 124.7h0M873.6 133.1h0M884.6 139.6h0M871.5 144h0M886.5 140.8h0M899.7 114.1h0M883.5 115.7h0M898.8 145.4h0M883.8 136.4h0M897.6 142h0M883.1 133.4h0M887.9 151.8h0M873.7 133.1h0M895.3 121.1h0M899 109.9h0M877.5 137.7h0M877.6 116.1h0M864.1 196.3h0M845.7 196.7h0M852.9 184.7h0M852.7 196.6h0M881.4 196.3h0M850.9 187.2h0M871.9 188h0M855.7 180.4h0M859.9 185.6h0M860.3 179h0M852.6 206.9h0M879.8 207.3h0M877 202.3h0M861.4 201.3h0M841.1 199.5h0M889.2 212.1h0M876.9 194.6h0M842.4 175.8h0M853.3 189.9h0M835.4 178h0M871.6 211.1h0M871.3 215.5h0M886.9 208.9h0M844.3 197.2h0M870.3 190.9h0M851.8 194.9h0M852.9 194.3h0M844.3 198.2h0M843.9 175.9h0M842.9 191.7h0M875.2 193.3h0M847.2 179.4h0M838.2 178.9h0M851.3 189.6h0M841.2 195.1h0M883.8 193.6h0M850.7 204.4h0M854.1 197.4h0M845.9 191.8h0M859 181.4h0M871 196.8h0M844 187.8h0M877 211h0M873.1 186.9h0M872.4 200.8h0M860.1 189.9h0M865.4 200.7h0M836.8 182.7h0M864.9 201.6h0M843.3 181h0M877.8 198.8h0M889.9 210.8h0M866.6 187.4h0M861 213.2h0M877.9 207.1h0M877.9 196.1h0M858.6 194.6h0M850.5 178.5h0M838.3 181.2h0M866.4 187.7h0M874.4 214.8h0M848.6 181.3h0M840.1 173.6h0M847.1 180.3h0M860.3 208.4h0M861.2 210.4h0M844.1 189.4h0M851 192.5h0M863.2 203.3h0M840.1 187.6h0M880.8 212.7h0M866.7 207.7h0M854.8 187.1h0M870.2 198h0M858.1 191h0M887.5 207h0M848.1 188.6h0M885.9 203.1h0M872.3 200.7h0M851.6 197.9h0M867.2 182.4h0M851.1 185.2h0M847.5 193.2h0M851.8 185.2h0M885.3 202.3h0M847 198.5h0M865.1 199.2h0M857.2 186.9h0M874 197.2h0M868.7 198.9h0M863.5 189h0M858 213.1h0M875.8 211.3h0M861.8 191.3h0M850.9 183h0M853.1 197.7h0M842.1 187.5h0M879.4 197.3h0M867.5 209.1h0M869.8 180.3h0M841 174.8h0M871.2 185.6h0M852.8 189.3h0M870.9 188.7h0M866.5 190h0M852.1 185.5h0M848.6 184.2h0M854.2 202.4h0M888 198.6h0M864.8 193.7h0M866.1 180.8h0M873.7 213.3h0M846.3 185.5h0M844.6 174.6h0M862.4 207.8h0M865.2 182.2h0M853.3 188.9h0M865.4 197.9h0M860.2 185.9h0M852.5 183.7h0M863.2 190.9h0M868.1 180.7h0M839.5 180.8h0M861.9 185.6h0M858.9 186.1h0M844 192.6h0M836.9 173.8h0M887.5 207.9h0M858.9 185.3h0M869.6 193.5h0M858.4 201.7h0M847.2 175.9h0M879.1 204.2h0M860.9 185.9h0M880.4 201.9h0M872.6 214.5h0M837 182.9h0M878.1 211.5h0M875.5 201.6h0M854.5 199.7h0M860.5 192.2h0M850 195.3h0M868.4 201.6h0M844.9 175.2h0M857.3 207.5h0M856.6 193.2h0M868.9 182.3h0M851.6 195.7h0M858.1 199.9h0M884 194.5h0M845.1 186.7h0M860.5 181.7h0M865.8 198.9h0M859.3 206.4h0M866.8 197.9h0M850.5 194.6h0M845.6 193.1h0M857.6 174h0M852 196.7h0M867 201.5h0M882.7 208.2h0M845.7 192.9h0M847.7 197.5h0M870.4 204h0M859.8 178.8h0M868.5 210.8h0M879.5 197.5h0M861.5 199h0M874.4 207.7h0M878.6 214.2h0M844 197.6h0M855.6 182.3h0M867.8 190.4h0M856.4 177.2h0M855 182.6h0M855.9 204.6h0M866.6 200.5h0M746 233.6h0M751.4 221.1h0M757.1 223.3h0M738.3 226.5h0M751 242.2h0M746.6 223.5h0M755.3 232.5h0M746.9 214.4h0M740.6 238.7h0M748.8 215.7h0M746.9 244.1h0M754.3 237.2h0M734.8 228.8h0M745.7 223.3h0M737.3 234.4h0M744.6 214.6h0M746.5 243.3h0M735.9 221.9h0M750.9 243.6h0M732.3 227.7h0M750 231.7h0M745.4 241.1h0M750 228.6h0M750.9 236.7h0M742.7 222.9h0M738.8 230.8h0M740.8 233.5h0M738.6 239.3h0M735.9 220.1h0M751.9 223h0M749 220.3h0M739.1 239.2h0M738.3 221.9h0M751.3 234h0M746.1 213.7h0M738.5 219.2h0M740.8 242.7h0M741.9 215.5h0M752.9 222.5h0M741.8 221h0M751.8 227.2h0M732.7 228h0M734.9 217.7h0M741.2 240.6h0M750.2 241.2h0M734.7 234.2h0M743.9 224.3h0M739.7 240.6h0M737.7 223.6h0M740.4 218.8h0M745.7 229.3h0M752.6 228.9h0M733.3 221.5h0M755.1 228.1h0M740.8 230.1h0M743.9 231.6h0M744 217.1h0M751.1 225.2h0M735.7 216.9h0M737.7 237.6h0M748.7 227h0M748.1 223.8h0M748.1 222.3h0M754.8 230.5h0M746 226.8h0M756.9 218.6h0M735.2 228.3h0M739.2 216.9h0M738.7 230.5h0M755.5 221.8h0M749.9 223h0M744.9 241.6h0M744.9 220.5h0M748.1 226.9h0M744.9 227.4h0M743.4 213.8h0M737.6 239.3h0M755.6 243.3h0M759.9 233.7h0M761.8 231.5h0M770.5 232.1h0M753.5 223.4h0M773.6 237.6h0M767.9 241.3h0M754 240.4h0M756.1 242.4h0M762.3 227.3h0M765.2 244.7h0M765.9 219.3h0M770.9 227.1h0M767.6 240.1h0M765.4 220.9h0M769.6 240.7h0M763.9 244.8h0M761.8 228.9h0M770 224.1h0M769.2 237.5h0M757.6 226.1h0M766.3 237.8h0M757.2 245.1h0M756.4 245h0M757.6 225.8h0M761.7 217.9h0M763 231.2h0M755.4 223.4h0M756 227.7h0M750.3 227.9h0M773.4 235.8h0M759.6 224.6h0M760.1 237.5h0M763.6 236.4h0M772.6 225h0M774 232.7h0M753.4 233.4h0M767.5 238.1h0M769.3 236.3h0M761 230.3h0M761.3 245.9h0M756.1 237.4h0M752.2 229.9h0M768.6 229.2h0M766.2 234.9h0M766.9 222.7h0M761.4 219.9h0M759.4 231.2h0M761.7 234.3h0M756.5 223.5h0M762.2 229.6h0M772.8 224.7h0M767.2 230.6h0M760.4 230.7h0M765.1 229.6h0M769 230.8h0M771.6 230.8h0M769.7 229.1h0M768.6 226h0M774.2 236.5h0M760.4 236h0M769.8 233.2h0M758.4 237.2h0M759.9 239h0M764.9 224.4h0M764.3 241.7h0M759 234.7h0M760.4 257h0M747.9 255.8h0M755 262.4h0M761.1 244.8h0M755.6 250.8h0M745.3 253.8h0M758.2 243.7h0M752 239.8h0M752.9 250.9h0M755.6 262.2h0M759.9 238.7h0M759 255.7h0M751.2 243.9h0M754.9 237.1h0M757.6 240.6h0M748.5 241.8h0M759.7 243.4h0M761.1 259.4h0M758.7 255.4h0M763 242.2h0M749.2 248.3h0M755.9 253.4h0M747.2 242h0M750.3 248.3h0M758.1 241.1h0M759.4 241.3h0M762.6 242.6h0M748.2 255.5h0M759.1 236.8h0M754.9 252.1h0M741.8 245.4h0M756.2 259.1h0M758.5 241.4h0M757.8 255.2h0M753.2 244h0M750.7 246.3h0M749.6 244.1h0M749.7 252.4h0M753.3 250.3h0M763.6 257.3h0M757.8 255.4h0M751.9 246.9h0M753.2 250.8h0M760.5 260.3h0M756.7 244.4h0M763.2 259.8h0M758.6 256.8h0M751.3 251.6h0M755 250.4h0M763.7 250.5h0M751.6 253.5h0M755.5 262.1h0M760.4 252.6h0M745.4 248.9h0M758.1 242.2h0M755.1 245.3h0M756.9 237.4h0M757.4 242.8h0M761 244.8h0M755.5 238.5h0M748 259.3h0M746.3 242.6h0M631.2 176h0M638.7 167.6h0M630.6 183.6h0M644.3 175.1h0M632.5 186.8h0M635.9 198.6h0M629.8 196.8h0M635.9 168.3h0M644 186.5h0M646.3 181.2h0M642.1 175h0M654.9 178.1h0M629.4 181.5h0M632.4 177.7h0M647 184.4h0M631.2 186.6h0M632.3 176.1h0M641.5 192h0M652.8 168.4h0M651.4 177.9h0M639.2 196.4h0M633.5 169h0M633.7 163.9h0M635.8 163.4h0M641.6 163.9h0M642.5 175.3h0M628.3 181.4h0M650.2 186.4h0M637.5 197.3h0M635.6 187.8h0M641.8 196.8h0M637.3 169h0M647 191.6h0M633.1 172.6h0M653.9 163.8h0M643.3 196.7h0M638.4 202.2h0M638.4 199.2h0M649.2 190.1h0M632.3 173.2h0M629.2 188.3h0M646.7 171.9h0M647.3 167.8h0M635.9 172.2h0M629.5 191.7h0M644 174.4h0M638.7 167.9h0M650.1 161.6h0M633.6 177.1h0M640.9 171.9h0M633.3 188.8h0M650.6 165.6h0M647.2 168h0M642.4 165.1h0M641 188.8h0M628 174.5h0M645.8 183.7h0M642 162h0M629.9 178.3h0M640.1 194h0M628.1 184.8h0M651 185.2h0M649.7 191.3h0M631.8 190.4h0M645.7 159.1h0M633.4 182.6h0M645.8 163h0M641.9 189.5h0M651.2 173.3h0M637.8 192.6h0M652.3 182.3h0M642.2 173h0M631 173.2h0M649 167.6h0M637.6 184h0M641.8 171.2h0M653.2 171.7h0M650.7 181.9h0M648.9 169.2h0M649.8 159.8h0M640.6 162.6h0M645.9 179.8h0M651 170.8h0M644 179.5h0M650.6 161.2h0M651.3 187.9h0M642.6 200.1h0M629.6 177.1h0M636.8 201.2h0M633.9 180.4h0M628.5 188.5h0M637.3 175.2h0M647 180.1h0M650.2 182.3h0M639 174h0M651.6 187.2h0M645.5 185.8h0M647.6 187.2h0M655.3 179.4h0M638.7 175.4h0M646.5 175h0M647.2 195.9h0M652 177.6h0M636.8 171.3h0M637.4 174h0M628.7 183.6h0M632 165.7h0M629.7 193.6h0M643.5 167.8h0M641.5 169.5h0M625.7 182.7h0M639.9 166.9h0M649.2 160.4h0M635.8 193.1h0M630.2 193.1h0M628.1 204.3h0M635.6 188.8h0M621.2 196.9h0M621 194.5h0M650.2 197.5h0M638 195.5h0M638.5 189.8h0M630.1 196.3h0M639.5 197.3h0M627 194.9h0M635.2 191.8h0M627.2 202.7h0M618.3 191.5h0M635.8 198.9h0M633.7 190.7h0M626 198.9h0M621.3 190.5h0M628.9 189.4h0M642.1 202.3h0M624.4 189.7h0M623.6 203.9h0M632.2 189.5h0M624.3 198.8h0M641.7 194.9h0M632 193.7h0M638.7 199.6h0M634.9 190.3h0M629.8 193.8h0M618.1 194.5h0M627.4 193.7h0M620.4 197.8h0M629.6 190.7h0M623.8 200.3h0M626.8 201.1h0M626.9 195.2h0M632.1 201h0M636.6 205.1h0M624.3 201h0M626.2 194.9h0M639.3 190.2h0M643.4 196.2h0M626.3 192.3h0M648.2 197.8h0M618.5 191.2h0M628.4 191.6h0M618.5 194.4h0M587.3 192h0M585.7 190.9h0M585 188.1h0M579 190.7h0M599.5 188.8h0M590.4 184.1h0M597.2 191.9h0M585.7 195h0M598.1 196.9h0M595.6 193.8h0M590.7 192.3h0M597.2 196.1h0M596.5 192.9h0M589.1 188.8h0M581.8 191.9h0M596.8 190.8h0M585.4 196.4h0M582 195.1h0M596.3 187.8h0M594.7 194.3h0M599.8 191.4h0M589.3 188.7h0M580.6 190.2h0M594.1 185h0M587.5 190.6h0M592.6 198.8h0M582.8 187h0M593.4 192.6h0M581.6 195h0M582.5 196h0M583 183.9h0M589 195.2h0M590 187.3h0M594.2 188.1h0M632.7 277.4h0M669.8 310h0M653.8 270.4h0M666.1 306.4h0M626.4 303h0M647 300.8h0M660.8 285.4h0M662 306.4h0M633.4 289.6h0M652.3 275.5h0M644.8 280.6h0M634.3 287.8h0M669.7 299.5h0M671 297.5h0M655.9 285.3h0M629.3 299h0M660.2 312.5h0M656.4 308.4h0M647.8 268.1h0M657.7 309.9h0M669.9 298.7h0M655.4 310h0M679 290h0M644.7 269.5h0M644.1 280.7h0M628.8 282.9h0M630.1 296.6h0M668.2 283.4h0M634.6 293.4h0M671.3 282h0M651.3 280.7h0M627.7 285.1h0M667.9 305.6h0M655.4 310.6h0M665 310.2h0M665.1 275.3h0M656.1 296.6h0M673.9 292.5h0M673.3 287h0M658.5 281.2h0M639.8 296.9h0M659.9 313.7h0M638 306h0M654 273.6h0M660.3 293.1h0M649.8 289.7h0M651.5 313.3h0M628.3 303.1h0M640.6 305.3h0M645.6 293.2h0M638.9 310h0M663.6 286.1h0M654.4 272.7h0M624.9 297.5h0M673 282.8h0M636.6 277h0M649.7 288.3h0M676.3 282.4h0M651.6 275.1h0M655.3 308h0M661.4 278.6h0M666.9 302.2h0M652.1 271.1h0M668.5 285.7h0M642.4 278h0M655.7 298.8h0M651.8 271h0M667.9 279.7h0M635.2 286.5h0M623 294.6h0M662.1 314.5h0M635.1 277.6h0M639.4 294.3h0M659.3 288.4h0M644.5 313.4h0M661.4 311.7h0M655.2 291h0M657 276.1h0M655.4 299.4h0M666.8 275.4h0M632.9 291.6h0M671.3 301.4h0M649.3 313.4h0M666.6 305.7h0M641.1 269.4h0M648.6 314.2h0M645.9 311.6h0M665.3 312.2h0M639 297h0M659.6 313.8h0M632.9 295h0M648 272.2h0M668.6 304.5h0M647.9 289.5h0M665.3 295.3h0M632.8 290.2h0M645.6 273.2h0M656 309.8h0M630.1 280.4h0M654.7 299.2h0M645.9 310.3h0M654.4 281.7h0M653.5 287.2h0M636 279.5h0M625.4 295.4h0M656.6 312.9h0M638.7 296.9h0M665.3 279.4h0M659.3 310.1h0M673.1 295.7h0M657.2 283.7h0M626.7 297h0M630.3 304.1h0M663.3 281.5h0M655.8 313.5h0M654.3 283.8h0M653.9 279.4h0M668.4 301.9h0M624.9 285.7h0M668.8 294.3h0M656 294.7h0M652.9 294.4h0M627.8 288.8h0M674.6 281.9h0M650.9 290h0M636.4 282.1h0M651.3 275.7h0M655.4 298h0M656 282.3h0M660.8 277.6h0M654.7 315.4h0M652.5 304.2h0M642.7 288.6h0M663.1 275.2h0M679.1 291.8h0M655.9 287h0M622.6 296.6h0M656.2 305.4h0M663.5 297.2h0M652.6 300.1h0M626.8 300.8h0M646.1 314.5h0M632.6 292.5h0M633.9 301.4h0M650.8 313.5h0M647.2 298.5h0M632.1 285.2h0M652.1 290.6h0M665.1 296.6h0M673.2 296.5h0M652.3 307.7h0M657.6 291.4h0M631.9 279.3h0M646 296.6h0M656.9 290.6h0M668.3 277.9h0M652.4 284.5h0M662 288.8h0M637.6 308.3h0M669.5 289.1h0M654.2 293.1h0M653.5 314.9h0M665.3 282.4h0M631.1 291.8h0M638.9 291.5h0M658.2 309.4h0M670.8 299.8h0M643.8 291.1h0M671.3 291.2h0M649.6 305.9h0M654.4 273.6h0M632.4 292.3h0M635 301.2h0M647.8 292.4h0M629.7 298.3h0M652.2 278.2h0M663.2 289.6h0M656.7 289.3h0M661.7 309.3h0M637.7 304.2h0M631.4 292.3h0M653.7 280.5h0M646 308.8h0M647.4 304.9h0M644.4 273.3h0M671.8 300.6h0M651.3 285.3h0M649.1 292.5h0M662.2 280.4h0M636.6 296.6h0M660.6 288.2h0M652.8 273.1h0M635.2 281.3h0M649 302.5h0M656.5 274.9h0M661.3 299h0M634.7 306.2h0M634.6 292.4h0M655.2 293.1h0M651.3 296.6h0M657.6 295.2h0M645.2 308.5h0M668.5 305.7h0M652.6 281h0M658.9 279.6h0M652.6 297.1h0M635.3 282.1h0M669.9 283.7h0M647.1 288.5h0M664.8 305.8h0M647.1 289.3h0M640.1 307.5h0M653 292.9h0M648.8 311.8h0M663.9 282.6h0M638.7 313.9h0M666.1 306.8h0M650.2 273.1h0M649.8 306.5h0M658.5 275.8h0M625.7 296h0M662.7 287.7h0M663.1 295.6h0M632.5 281.9h0M655.6 314.8h0M648.1 277h0M657 309.2h0M636.9 290.6h0M642.7 295.5h0M638.2 275.8h0M651.3 303.1h0M672.5 297.4h0M638.9 310.4h0M670.7 278.4h0M660.4 275.7h0M631.9 286.7h0M641.8 285.9h0M644.2 271.1h0M642.2 302h0M687.9 326.5h0M697.4 306.1h0M659.8 304.3h0M689 291.6h0M677.3 325.5h0M663.5 316.9h0M683.7 305.8h0M675.9 300.4h0M696.9 303.7h0M679.7 318.3h0M658.5 302.1h0M677.8 318.8h0M664.9 302h0M669.7 295h0M679 320.4h0M661.9 319h0M662.9 309.6h0M690.6 310.3h0M672 287.6h0M673.6 323h0M675.3 311.6h0M680 320.5h0M677 295.1h0M675.8 317h0M668.4 291.9h0M677 300h0M678.9 301h0M696.4 312.2h0M679.6 317.2h0M675.3 314.8h0M685 302.8h0M665.4 309.5h0M679.1 291.6h0M687.4 295.4h0M689.5 323.3h0M672.8 305.1h0M658.3 308.7h0M680.7 321.1h0M678.3 317.6h0M685.2 329.4h0M677.6 310.5h0M662.9 295.7h0M678.7 289.1h0M691.4 316.1h0M678.3 308.4h0M668.6 297.3h0M657 316.7h0M674.3 307.9h0M684.9 308.4h0M687.5 302.4h0M688.5 321.2h0M662.5 319.9h0M691.5 315.5h0M658.3 303.7h0M674.1 326h0M665.2 290.1h0M692 318.2h0M662 301.2h0M687.7 320.9h0M681.1 290.7h0M685 325.5h0M678.1 330.8h0M675.5 316.5h0M681.6 328.3h0M671.1 288.8h0M683.3 330.5h0M687.1 320.5h0M684.8 307.5h0M667.5 303.6h0M680 302.9h0M691.7 322.1h0M668.8 308.4h0M690.6 298.5h0M676.1 292.5h0M682.7 314.6h0M659 312.7h0M670.1 298.8h0M677.2 304h0M685.9 299.9h0M668.1 320h0M682.5 321.1h0M679.5 330.2h0M690.1 304.1h0M683.1 294.9h0M660.6 316.5h0M679.3 303.3h0M692.4 302.2h0M700.5 304.4h0M676.1 328.5h0M677 315.7h0M697.1 302.6h0M679.4 290.8h0M678.3 322.8h0M680.7 296.8h0M660.5 307.2h0M688.3 294.9h0M682.1 313.6h0M671.1 293.4h0M671.9 314.8h0M660 306.7h0M695.6 314.9h0M676.2 288.6h0M678.3 311.6h0M681.8 301.3h0M675.9 296.3h0M684.2 290.4h0M667 306.5h0M676.2 328.8h0M663.4 312.1h0M661.9 297.3h0M687.2 327.4h0M692.9 297.9h0M682.5 315.3h0M680.2 299h0M681.9 290.2h0M696.1 314.8h0M673.1 304.2h0M656.9 307.7h0M696.2 310h0M671.1 321.9h0M671.7 320.2h0M665 306.8h0M687.6 299.1h0M692.9 314.8h0M688.5 319h0M686.6 328.8h0M685.1 312.2h0M696 301.9h0M678.1 301.3h0M665.5 315.1h0M685.2 308.8h0M659.6 315.2h0M683 310.2h0M675 324.3h0M665 325.4h0M664.8 309.3h0M688.7 314.2h0M682.8 320.6h0M668.9 329.1h0M684.2 321.7h0M687 301.3h0M663.4 299.2h0M671 296.1h0M685.4 322.6h0M678.6 330.4h0M679.4 322.1h0M695.3 322.8h0M670.4 309.6h0M683.6 328.2h0M663.3 308.1h0M680.5 316.3h0M664.1 314h0M670.2 306.4h0M684.6 330.6h0M683.5 303.6h0M682.8 315.5h0M675.2 291.5h0M666.3 318.4h0M661.5 299.8h0M687.8 292.7h0M663.3 311.2h0M668.3 307.8h0M684.5 328h0M671 296.5h0M672.6 298.3h0M674.6 324.6h0M692.1 308.7h0M666.7 305.8h0M660.8 308.1h0M669.5 303.4h0M681.2 291.1h0M666.8 294.8h0M685.5 325.6h0M664.2 301.8h0M694 326h0M671.7 307.2h0M670.8 292.2h0M666.3 302.6h0M657.3 315.7h0M672.6 318.1h0M680.9 325h0M638.4 323.1h0M677 315.1h0M665 311.7h0M670.2 325.4h0M682.3 316.8h0M661.9 321.7h0M655.3 329.8h0M653.5 318.2h0M659.1 312.1h0M671.8 317.5h0M656.8 323.7h0M653.7 323.4h0M649.5 327.4h0M678.4 323h0M673.8 330.4h0M652.7 329.3h0M663.1 319.4h0M676.8 329.5h0M638.3 323.8h0M679.9 329.1h0M651.4 320.4h0M639.5 327.6h0M658.2 333.2h0M678 314.8h0M649.4 322h0M670.1 327.1h0M656 321.8h0M678.1 319.1h0M640.7 322.9h0M681.2 325.2h0M669 324.7h0M660.3 319.6h0M673.5 317.7h0M656.5 316.8h0M639.6 323.4h0M652.7 327.3h0M665.6 312.9h0M662.9 324.7h0M635.8 323h0M648.7 314.8h0M648.5 313.4h0M666.4 331.8h0M664.7 331.7h0M647.6 318.8h0M681.9 325.5h0M652.7 312.6h0M646.6 325.3h0M665.5 330.7h0M646.3 312.7h0M681.3 321.2h0M643.7 318.3h0M649.8 327.7h0M667.2 311.1h0M664.3 326.7h0M665.6 319.5h0M649.5 315.2h0M660.4 334.6h0M667.5 327.4h0M660.5 310.4h0M641.9 318.3h0M641 314.2h0M667.9 334.3h0M677.5 317.4h0M673.5 326.8h0M663.6 332.5h0M635.2 320.6h0M671.1 321.5h0M672.9 315.1h0M682.7 320.2h0M650.2 315h0M675.6 325.9h0M641.9 317h0M675.7 328.4h0M678.9 322.8h0M675.9 322.5h0M675.6 329.3h0M676.4 313.9h0M671.3 314.6h0M667 324.7h0M681.1 314.6h0M670.6 323.3h0M657.5 320h0M678.3 317.3h0M682.1 317.6h0M655.5 310.7h0M659.7 328.4h0M642.6 315h0M653.6 319.1h0M678.2 315.4h0M652.9 328.6h0M639.8 321.3h0M658 323.4h0M654.9 322.5h0M667.9 315.3h0M654 332.1h0M670.1 318.7h0M660.1 332.9h0M666.8 326.6h0M644.8 323.6h0M668 328.1h0M653.1 315.5h0M659.5 320.7h0M673.6 330.6h0M769.3 311h0M783.8 311.1h0M816.2 308.6h0M772.2 322.5h0M784.7 312.7h0M799.9 313.6h0M788 302h0M789.6 323.9h0M805.1 314.1h0M770.3 324.2h0M783.8 316.3h0M814.3 309.8h0M762.7 315.4h0M795.6 317.2h0M814.8 305.3h0M804.3 311.6h0M762.7 318.5h0M813.8 321h0M789.3 304.3h0M788.9 325.9h0M793.1 315.1h0M800.1 304.2h0M786.7 320.5h0M801.7 328.6h0M788 307.5h0M797.1 294.3h0M779 319.5h0M777.1 304.7h0M796.6 326.1h0M800.2 320.5h0M787 318.2h0M809.5 327.2h0M770.6 300h0M778.4 300.7h0M792.4 313.1h0M799.3 322.2h0M804.3 322.7h0M795 297h0M788.6 319.1h0M789.2 310.7h0M767.1 305.6h0M781.6 307.7h0M814.7 305.3h0M770.4 322.6h0M790.7 304h0M788.9 324.4h0M779.7 296.1h0M782.3 314.4h0M778.4 313h0M771.1 316.1h0M795.9 320.6h0M766.5 308.3h0M782.2 300.6h0M778.4 316h0M769.7 313h0M794.5 321.4h0M788.8 318.8h0M818.5 306.7h0M762.4 312.1h0M811.6 308h0M805.5 305.6h0M788.1 295.1h0M777.8 324.2h0M788.6 304.2h0M783.5 315.1h0M805.5 315.3h0M771.2 305.1h0M785.3 313h0M779.4 314.5h0M794.9 291.9h0M794.8 305.8h0M763.5 305.5h0M804.3 303h0M767.8 304.7h0M793.8 322.6h0M815.8 313.1h0M792.4 299.7h0M779.3 306.6h0M805.6 314.8h0M803.2 323.4h0M759.7 321.8h0M792.9 311.7h0M797 327.9h0M805.6 307.7h0M805.2 309.7h0M795.3 293.6h0M786.6 316.4h0M815.7 306.7h0M778.4 330h0M792.5 308.6h0M793.8 312.7h0M785.9 303.5h0M773.6 298.3h0M777.5 304.8h0M779.8 322.5h0M799.8 300.3h0M782.2 313.7h0M793.7 317.9h0M775.9 317.4h0M813.9 306.9h0M813.9 304.1h0M818.5 310.2h0M807.2 313.2h0M797.5 301.3h0M813.1 318.6h0M801.8 294.6h0M812.3 319.1h0M773.9 324.6h0M764.5 317.6h0M808.9 309.9h0M815.1 297.6h0M804.5 311.6h0M777.8 322.7h0M785.8 329.9h0M771.2 321.2h0M807.5 303h0M807.2 295.7h0M783.6 296.3h0M782.3 317.4h0M798.6 294.9h0M788.1 311.3h0M771.4 329.6h0M805.9 318.7h0M791.6 303.4h0M788 323.3h0M781.2 298.5h0M784.2 307.7h0M779.6 303.2h0M768.3 323.5h0M804.9 303h0M774.9 310.7h0M773.3 311.6h0M789.3 324.9h0M782.4 322.6h0M804.4 317.9h0M802.3 324.4h0M805.6 317.2h0M804.4 308.9h0M792.9 320.9h0M790 324h0M809.7 302.7h0M801.6 312.8h0M767.2 312.5h0M804.2 317.9h0M765.6 300.7h0M762.4 317.8h0M813.9 312.5h0M763.8 315.5h0M788.8 315.2h0M784.3 325.7h0M767.2 301.6h0M810.3 304.7h0M784.4 330.1h0M798.8 293.2h0M772.6 324.4h0M765.3 322.4h0M798.4 308.2h0M774.8 306.4h0M768.9 304.3h0M776.6 301.7h0M763.6 318h0M777.6 305.8h0M817.1 316.7h0M771.4 321.2h0M804 309.8h0M782.8 332.5h0M809.9 310.3h0M791.3 329.8h0M815.5 300.1h0M794.2 313.4h0M809.2 295h0M790.8 308.3h0M802.4 312.4h0M779.4 307.6h0M781.9 308.1h0M815.3 309.6h0M786.1 307.2h0M770.8 326.3h0M801.6 330h0M792.5 312.5h0M779.3 296.9h0M807.7 315.2h0M788.9 299.7h0M774.1 319.7h0M810.3 308.6h0M767 303.5h0M772.4 328.9h0M790.7 322.5h0M786.9 294h0M814.5 310.3h0M797.9 310.7h0M800.4 319.5h0M811 316.2h0M768.2 302.6h0M782.4 292.7h0M764.5 306.3h0M774.8 327.2h0M806.8 304.1h0M801.5 318.2h0M797.3 298h0M803.7 295.8h0M769.5 318.7h0M785.2 332h0M787 294.6h0M769.4 320.1h0M767.2 300.7h0M797.2 302.7h0M776.9 316.3h0M796.2 301.6h0M788.9 293.4h0M796.3 298.6h0M760.4 318.3h0M790.2 296.1h0M808.4 313.7h0M810.8 298h0M778.5 303h0M786.5 292.1h0M774.7 321.8h0M815.1 310h0M805.6 311.7h0M772.2 327.7h0M866.6 364.7h0M879 346.8h0M875 348.1h0M879 348.6h0M885.1 353.1h0M874.6 349.1h0M853.2 354.6h0M883.4 349.3h0M864.8 347h0M867.8 357.7h0M853.2 353.4h0M853.2 357.6h0M874.2 344.9h0M858.9 349.6h0M876.6 357.3h0M870.6 358.1h0M888.7 358.8h0M852.5 352.8h0M856.2 359.6h0M853.2 350.1h0M852.7 352.1h0M849.6 355.2h0M859 349.6h0M865.6 349.8h0M859.5 346.9h0M876.5 351h0M858.2 348.5h0M887.7 355h0M882 359.1h0M858.6 361.3h0M854.4 346.6h0M853.7 358h0M849.9 357.9h0M859.1 351h0M870.1 356.5h0M874.4 345.7h0M881.4 357.4h0M877.1 351.3h0M844.8 356.3h0M866.1 348.3h0M853.3 351.1h0M856.4 363.3h0M877.3 346.7h0M868.3 349.7h0M854.6 361.1h0M873.7 345.5h0M855.6 357.9h0M877.6 350.7h0M853.7 356.9h0M865.2 356.2h0M855.6 359.6h0M854.9 357.9h0M854.9 358.7h0M889.6 353.9h0M887.4 348.4h0M861.5 351.8h0M880.6 346.8h0M891.1 351.8h0M875.3 358.7h0M862.6 346.7h0M861.3 359.6h0M881.3 345.9h0M881.7 351.1h0M853.5 346.8h0M845.9 355.3h0M870.9 362.1h0M866.6 353.4h0M856.9 347.5h0M870.2 349h0M887 352.7h0M867.6 353h0M871.2 358h0M858.8 349.1h0M864.9 346.1h0M875.2 364.4h0M854.4 356.4h0M858.9 360.3h0M859.9 344.6h0M888.8 353.5h0M867.9 349h0M868.7 349.8h0M848.5 351.8h0M867.2 354.7h0M865.6 349.1h0M852.6 351.6h0M884.2 359.9h0M853.2 361.8h0M870.5 352.7h0M866.9 364.8h0M862.3 354.8h0M863.9 351.2h0M876.1 357.7h0M869.2 357.3h0M976.7 87.7h0M981.9 78.6h0M984.1 86.3h0M973 78.8h0M977.5 90.8h0M984.4 84h0M981.5 80.9h0M975.8 86.6h0M983.9 86.2h0M979.4 81.7h0M977.2 90.6h0M977.5 79.4h0M973.4 80.5h0M982.8 80.2h0M980.2 91.4h0M974.5 82.6h0M971.6 84.9h0M973.3 89.5h0M977.9 87h0M972.2 87.8h0M972.1 80h0M978 180.4h0M983.3 186.7h0M982.8 188.5h0M980.7 180.2h0M979.5 188.6h0M979.4 184.4h0M984.4 188.1h0M980.2 189.6h0M978.9 189.8h0M981.1 197.5h0M982.3 188h0M977.3 185.1h0M978.9 185.3h0M984.3 187.1h0M981.4 188.7h0M926.7 134.3h0M925.7 137h0M925 139.7h0M925 135.4h0M923.7 138.2h0M923 136.3h0M923.9 139.4h0M925.9 137.8h0M928.1 136.6h0M591.6 302.2h0M589.7 308h0M591 303.5h0M596.9 308.5h0M592.1 296.5h0M595.9 302.2h0M590.1 303h0M587.3 304.3h0M586.8 299.7h0M593.3 308.5h0M594.5 298.7h0M598.1 305.4h0M591.6 299.8h0M590.5 296h0M589.5 297.7h0M586.9 304.9h0M878.5 232.6h0M878.1 238.4h0M874.9 234.8h0M877.6 237.3h0M962.3 252.2h0M960.6 254.4h0M960.5 252.7h0M805 282h0M803.4 283.9h0M806.9 283.3h0M574.4 161.3h0M576.5 163.4h0M577.9 160.7h0M575.6 160.8h0M577 158.8h0M579.5 340.7h0M581.3 342.6h0M581 340.3h0"/><path id="pA2h" d="M791.1 130.4h0M789.2 130.8h0M770.3 142.6h0M771.1 140.4h0M795.8 124.3h0M779.3 139.6h0M757.8 141.3h0M766.2 160.4h0M757.4 136h0M791.6 135.2h0M771 122.5h0M787.5 118.5h0M796.4 138.7h0M799 136.3h0M784.3 121h0M796.1 139.2h0M774.8 149.9h0M778.8 132h0M761.1 155.3h0M765.9 157.4h0M779.6 138.5h0M750.7 159.3h0M776.5 124.3h0M780.7 158h0M756.1 161.2h0M778.4 130.8h0M781.5 125.9h0M759.5 154.9h0M773.4 122.9h0M753 155.5h0M786.2 124.1h0M777.5 138.6h0M770 138.8h0M793.9 149.1h0M783.2 118.7h0M781.5 149.3h0M769.4 148.6h0M772.1 148.6h0M793.2 122.3h0M782.5 155.7h0M755.1 154.5h0M754.7 158.3h0M768.7 146.6h0M750.7 146.4h0M783.8 136.3h0M797.1 135.6h0M774.2 134.6h0M775.9 154h0M756.1 151.6h0M799.9 141h0M752.7 155h0M775 129.1h0M780.7 125h0M759.7 136.9h0M761.2 131.1h0M762.2 144.7h0M784.3 122.5h0M777.1 158h0M775.4 143.4h0M799.4 133.5h0M786.1 118.8h0M766.5 149.2h0M773.2 132.9h0M761.7 161.8h0M779 144.1h0M756.8 149.3h0M786.8 130.7h0M788.1 143.7h0M783.7 143.4h0M784.9 123.6h0M767.3 146.6h0M777.8 152.9h0M759.9 153h0M789.3 138.8h0M773.9 126.9h0M785 153.2h0M789.4 135.1h0M788 152.6h0M773 159.5h0M779.1 136.4h0M773.4 155.1h0M774.6 145.2h0M772 122.6h0M800.7 135.3h0M762.4 152h0M792.3 139.6h0M764.2 130.6h0M777 120.5h0M789.7 115.7h0M760.6 160.6h0M790.8 127.2h0M787.1 125.7h0M773.4 141.6h0M794.7 123.6h0M798.7 128.2h0M755.6 142.2h0M765 152.9h0M762.7 139.1h0M769.5 143.1h0M786.4 122.6h0M746.5 153.8h0M764.6 140.6h0M765.8 158.9h0M796.8 138.2h0M771.7 126h0M779.6 136.8h0M756.4 148.4h0M790.2 120.3h0M775.9 138.5h0M777.1 156.6h0M785.4 152.7h0M749.8 162.4h0M764.2 143h0M796.6 128.2h0M788.2 148h0M776.9 137.2h0M802.1 127.7h0M759.4 156.7h0M768.6 133.5h0M756.3 142.5h0M750.1 147.3h0M764.7 135.1h0M767.7 140.9h0M773.9 138.7h0M795.5 131.5h0M789.7 121.8h0M795.7 140h0M763.7 149.1h0M777 137.8h0M761 147.6h0M790 120.3h0M769.4 134.9h0M772.4 136.9h0M784.5 147.9h0M770 156.7h0M783.9 145.5h0M767.2 150h0M790.9 142.7h0M781.7 121.2h0M787.7 137.9h0M765.1 131.2h0M754.3 156.7h0M748.8 152.3h0M779.8 124.3h0M779 151h0M790.1 147h0M781.3 140.4h0M776 130.9h0M771.8 129.5h0M763.8 155.5h0M794 119.8h0M768.5 144.1h0M783.2 142.2h0M789.1 143.9h0M758.5 141.6h0M751.8 145.5h0M790 140.3h0M757 147.8h0M801.9 120h0M759.7 142.8h0M773.4 149.6h0M760.2 136.5h0M783.8 119.5h0M784.9 121.6h0M784 134.5h0M769.9 123h0M771.4 156.3h0M762 163.9h0M750.3 150.1h0M782.1 122.8h0M771.7 130.2h0M758.1 145.1h0M772.8 139.4h0M792.3 124.5h0M787.8 149.7h0M801.5 122.1h0M752.1 152.2h0M771.3 146.2h0M769.6 153.3h0M785.5 126h0M778.7 135.9h0M783.2 144.7h0M753.5 140.1h0M758.5 149.9h0M757.5 136.6h0M783.8 127.6h0M754.2 147.1h0M764.3 140.5h0M780.5 146.8h0M801.6 126.9h0M765.4 139h0M774.7 142.4h0M794.5 120.9h0M789.2 122.3h0M775.9 154h0M766.5 152.6h0M762.9 154.5h0M763.2 155.4h0M769.3 160.1h0M773.7 156.7h0M773.3 165.9h0M774.9 163.4h0M768.5 167.6h0M778.9 156h0M767.6 162.4h0M773.7 162.8h0M772.5 164.2h0M760 158.9h0M780.4 160.8h0M770.9 154.2h0M777 166h0M772.5 158.8h0M777.5 151.6h0M758.9 154.2h0M776.2 162.4h0M757.6 154.8h0M759.8 151.4h0M759.5 153.6h0M760.1 150.2h0M763.8 151.4h0M765.4 149.8h0M758.3 157.4h0M773.3 150.3h0M755.6 163.6h0M777.2 156.5h0M763.9 161h0M774.2 156.6h0M770.7 153.5h0M761.3 165.4h0M765.2 156.6h0M757.9 161.1h0M762.4 154.6h0M780.4 162.1h0M770.6 158.9h0M769.3 154.9h0M770.7 164.5h0M778.6 159.9h0M769.8 150.7h0M774.8 155.6h0M777.8 156.9h0M772.3 156.6h0M777.2 152.6h0M768.8 153.2h0M766.6 166.8h0M765.9 165.3h0M777 163.8h0M895.4 134.9h0M879.5 126h0M878.7 130.3h0M889.4 145.2h0M884.8 103.2h0M903.3 110.3h0M894.8 133.4h0M892.5 113h0M877 124.3h0M903.1 118.9h0M893 135.9h0M882.8 147.8h0M881.5 121.3h0M894.7 121.2h0M886.7 108.2h0M897.7 120.3h0M892 133.1h0M898.7 133.5h0M890.9 127.2h0M883.7 118.3h0M883.7 110h0M891.7 122.9h0M893.8 151.8h0M871.1 132.1h0M881.8 128.3h0M884.2 133.1h0M872.4 118.7h0M897.9 134h0M887.5 147h0M893.8 120.3h0M907.2 127.8h0M892.5 112.4h0M872.1 118.4h0M892.2 121.2h0M881.5 138.4h0M889.2 149.1h0M878.7 131.3h0M893.7 147.2h0M870.8 129.7h0M893.3 143.1h0M879.2 118.1h0M899.4 138.8h0M888.5 138.3h0M899.2 127.6h0M881.2 112.1h0M891.9 142.1h0M878.5 120.8h0M900 115.4h0M881.7 144.7h0M869.8 131.9h0M877.4 111.5h0M899.2 135.6h0M894 149.5h0M892.8 132.6h0M891.7 106.7h0M884.3 134.7h0M881.4 107.9h0M889 139.2h0M890.1 107.6h0M884.8 112.1h0M875.4 124.2h0M903.3 119.2h0M874.3 129.4h0M894.5 128.6h0M892.1 136.5h0M886.3 106.3h0M901.5 136.8h0M895.3 143.3h0M891 145.6h0M899.7 131.9h0M903.8 111.4h0M893.2 119.1h0M879.1 117.4h0M891.1 118.9h0M902.4 142.1h0M894.9 112.2h0M885.1 134.9h0M893 102.2h0M879.4 118.1h0M906.5 122.2h0M900.4 127.5h0M880.8 117h0M897.9 144.1h0M880.2 145.1h0M887.4 118.1h0M906.9 135.4h0M895.1 111.6h0M875.5 146.8h0M872 131.2h0M902.4 109.3h0M875.3 119.9h0M884.2 120.3h0M875.5 125h0M893 98.8h0M887.4 123.7h0M874.3 115.8h0M877.4 121.9h0M874.7 128.1h0M875.4 125.4h0M893.2 116.7h0M880.7 137.7h0M896.4 148.4h0M898.8 123.9h0M875.9 113.5h0M897.6 143.1h0M899.6 124.1h0M886.3 145.5h0M903.9 123h0M877.2 120.4h0M874.5 112.5h0M899.3 123.9h0M890.2 117.2h0M878.9 131.1h0M883 110h0M888 147.5h0M887.3 125.4h0M894.9 107.6h0M871.8 132.6h0M897.7 104.6h0M901.6 111.6h0M890.6 150.7h0M887.8 122.1h0M873.2 138.4h0M898.2 126.6h0M882.9 103.8h0M890 119.5h0M885.3 118.3h0M882.7 111.6h0M885.8 123.8h0M882.2 130.5h0M906.3 134.7h0M886.5 110.5h0M879 140.7h0M896.8 122.1h0M881.3 105h0M884.5 116.6h0M887.9 128.8h0M896.7 128.2h0M887.9 117.5h0M885.9 123.3h0M890.2 150.5h0M883.3 111h0M884.6 118.8h0M900.2 109.9h0M885.9 122.5h0M875.2 145.7h0M887 146.1h0M883.9 109.9h0M877.2 143.5h0M885.6 120.6h0M897.3 127.1h0M879.5 143.5h0M880.4 150h0M877.1 126.9h0M876 142.2h0M903.3 121.4h0M902.2 122.7h0M892.5 130h0M905.2 124.6h0M876.3 136.1h0M883.5 104.9h0M883.2 140.8h0M888.9 138.6h0M891.4 106.9h0M884.6 118.4h0M882 117.9h0M879.5 112.2h0M874.1 123.7h0M899.5 115.8h0M870.3 128.5h0M895.1 124.4h0M885.5 137.7h0M880.4 124.2h0M894.5 120.7h0M876.1 112.8h0M886.5 140.9h0M901.8 115.7h0M888.3 140.7h0M899.6 143.1h0M893.7 147.9h0M879.2 110.2h0M903.1 117.1h0M863.4 199.9h0M882.3 199.4h0M879 208.2h0M864.2 210.9h0M860.8 195h0M837.3 181.7h0M874.3 214.7h0M870.4 191h0M874.3 194.7h0M837.9 185.2h0M842.8 190.8h0M858 208.6h0M875.4 209.1h0M842.2 178h0M871.1 205.7h0M858 190.2h0M846 184.3h0M874.7 202h0M883.1 198.9h0M862 203.1h0M847.7 200.1h0M849.9 189.5h0M880.6 204.6h0M883.5 197h0M868.4 214.4h0M876.7 188.3h0M871.4 185h0M849.8 173.9h0M873.1 190.9h0M860.6 185.1h0M841.2 189.6h0M875.3 199.1h0M845.7 193h0M839.6 181.1h0M878.8 197.3h0M862.1 199h0M882.4 190.4h0M871.1 210.3h0M856.5 179h0M853 185.4h0M880 193.3h0M875.8 200.1h0M868.4 187.2h0M879.9 198.7h0M866 199.2h0M854.1 191.5h0M880.9 201.4h0M867.1 182.2h0M855.7 205.2h0M859.2 180.3h0M876.3 201.6h0M862.9 207h0M843.6 195.1h0M873.7 217.7h0M868.8 190.3h0M850.6 173.6h0M875.6 183.6h0M838.5 182.3h0M852.2 197.5h0M876.9 210h0M867.2 217.2h0M885 199.7h0M870.2 182.8h0M861.1 195.4h0M856 207.3h0M863.6 208.8h0M855.1 198.3h0M859.1 184h0M842 195.2h0M864.1 181.8h0M847.8 191h0M857.9 185.2h0M875.2 212h0M838 183.7h0M862.2 213.8h0M887.9 202.8h0M887.9 208.9h0M848.7 186.5h0M874.4 190.4h0M869.9 195h0M876.1 205h0M841.9 176.2h0M881.6 198.8h0M868.1 189.9h0M843.2 181.6h0M848.2 192.9h0M852.4 188.5h0M887.4 207h0M882.2 210.3h0M850.8 208.3h0M860.2 175.8h0M859.7 177.8h0M878.2 201.4h0M881.8 216.7h0M874.3 187.2h0M842.4 194.9h0M857 199h0M862.6 202.8h0M872.4 207.1h0M847.9 191.1h0M879.5 199.7h0M871.9 192.1h0M844.9 181.4h0M863.3 187.8h0M876.3 215.7h0M840.7 180h0M865.3 211.1h0M880.4 202.4h0M867.6 200.9h0M878.3 205.6h0M879.9 208.6h0M862.9 210.5h0M874.5 190.3h0M862.6 204.5h0M872.2 189.7h0M863.8 183.5h0M851.2 204.9h0M842.9 177.5h0M875.3 196.2h0M855.3 183.8h0M868.5 195.2h0M860.1 187.5h0M881.8 212.1h0M869.4 181h0M855.7 195.8h0M842.4 178.3h0M859.8 207.7h0M864.4 195.7h0M848.9 184.5h0M875.2 196h0M855 180.1h0M867.2 213.5h0M860.1 199.3h0M871.4 185.6h0M858.8 192.5h0M868.8 186.9h0M845.4 178.7h0M848.6 186.1h0M866.9 203h0M851.9 193.5h0M841.3 188.5h0M862.2 196h0M878.8 200.3h0M876 195.9h0M852.1 203.7h0M862.8 197.1h0M871.9 203h0M854.6 206.8h0M872.2 193.3h0M874.1 191h0M854.8 188.1h0M880.6 210.3h0M852.7 204.5h0M863.3 186.9h0M846.2 185.3h0M884.8 199.7h0M866.6 187.6h0M846.2 193.9h0M850.3 192.2h0M848.2 179.1h0M875.2 208h0M856.2 209.7h0M850.1 206.5h0M875.9 195h0M848 183.1h0M840 180.8h0M862.4 207.7h0M848.7 199.9h0M858.1 178.3h0M859.4 197.2h0M836.9 187.9h0M884.2 208.3h0M851.9 202.4h0M856.3 202.3h0M866.4 181.1h0M862.3 194.6h0M860.2 188.8h0M741.3 223.2h0M743.9 234.7h0M732.5 221.7h0M739 236.1h0M732.6 227.3h0M748.1 227.1h0M750.3 224h0M742.8 236.6h0M749.2 216.6h0M745.8 240.2h0M742.2 234.4h0M744.8 231h0M734.3 225.9h0M750.7 224.8h0M737.7 238.9h0M745.7 241.6h0M732.5 224.4h0M738.5 232.7h0M750.3 218.8h0M753.2 230.2h0M743.9 233h0M735.5 223.4h0M752.9 222.4h0M747.3 215.8h0M751.7 223.6h0M736.2 233.9h0M738.4 224.6h0M737.6 228.9h0M732.4 228.2h0M748.5 228.3h0M743.6 216.3h0M748 228.1h0M740.3 239.8h0M755.1 223.8h0M748.6 234.5h0M748.7 215.3h0M744 234.8h0M756.8 218.7h0M734.2 235.2h0M757.1 231.5h0M746.1 236.1h0M742.2 232.7h0M739.9 219.1h0M746.6 225.3h0M757.4 231.2h0M743.5 239.4h0M743.9 219.7h0M738.6 222.2h0M754.1 235.8h0M738.6 225.5h0M737.3 222.5h0M734.2 233.9h0M750.9 240.1h0M740.6 227.5h0M741.4 220.8h0M752.9 225.8h0M753.9 218.2h0M743.6 230.6h0M753.2 229.1h0M737.6 239.7h0M755.6 222h0M757.9 225.7h0M741.6 220.7h0M756.8 227.6h0M748.3 219.1h0M744.7 228.5h0M746.3 222.7h0M745.9 240.4h0M744.2 238h0M738.4 224.3h0M744.3 232.6h0M741 218.7h0M739.2 224.1h0M752.1 241.1h0M752.5 232.3h0M737.3 220.4h0M738.4 233.7h0M760.6 233.3h0M766.6 230.1h0M762.5 234.1h0M760.9 232h0M767.8 235.4h0M753.8 227.7h0M761.5 221.4h0M756.2 229h0M757.9 226.1h0M765.5 243h0M756.7 236.1h0M771.4 235.2h0M766.6 228.4h0M759.4 219.8h0M758.3 241h0M769 237.1h0M762.2 228.8h0M756.8 230.2h0M751.8 240.2h0M766.3 236.7h0M771.8 235.3h0M752.9 224.7h0M757.2 223h0M755 221.2h0M764.2 228.4h0M755.4 236h0M760.3 225.8h0M755.1 223.9h0M757.4 226.3h0M758.8 243.7h0M771.6 230.2h0M750.2 237.5h0M763.5 220.2h0M757.5 243.7h0M752.6 232.9h0M756.6 244h0M764 236.5h0M760.6 239.7h0M761.2 222.7h0M760.8 233.7h0M768.2 241.2h0M751.4 231.3h0M753.4 225.5h0M768 233.2h0M768.2 229h0M771.5 238.5h0M752.4 232.1h0M758.4 224.5h0M774.1 231.8h0M768.7 239h0M768.9 227h0M762.1 238.3h0M755.6 229h0M753.6 227.4h0M764.4 233.2h0M768.3 229.5h0M771.1 232h0M757.3 221.4h0M760.6 227.1h0M757.2 221h0M764.3 217.9h0M752.6 233h0M772.9 233.8h0M751.6 238.8h0M756.9 233.2h0M765 217.2h0M766.4 242.8h0M757.6 243.8h0M765.4 244.3h0M747.6 248.7h0M757 250.5h0M751.4 239.5h0M758.6 241.5h0M756.6 259.9h0M759.9 253.6h0M758.5 244.6h0M752.9 235.8h0M756.1 262.2h0M751.2 249.3h0M758.4 258.8h0M742.4 244.9h0M754 245.7h0M755.7 261.8h0M750.7 250.7h0M751.9 245.2h0M762.5 252.2h0M756.4 242.7h0M746.8 253.4h0M745.9 258.2h0M748.1 260.2h0M754.9 248.7h0M758.3 257.3h0M758.7 260.5h0M753.3 249.1h0M756.5 243.6h0M763.9 244.3h0M758.1 253.1h0M745.7 243.8h0M744.9 246.9h0M762.4 241.1h0M747.2 248.8h0M747.4 259.3h0M753.9 259.8h0M749.5 254.5h0M752.8 248.1h0M748.6 243.2h0M750.3 251.8h0M759.5 260.9h0M761.2 249.1h0M762.5 242.4h0M759.9 238.6h0M752.3 237.6h0M744 256.1h0M752.1 251.6h0M756.2 262.3h0M756.5 235h0M743.7 248h0M755 243.6h0M754.7 259.8h0M752 243.1h0M762 238.9h0M753.9 252.7h0M759.8 242.2h0M755.3 253.8h0M747.1 241.1h0M752 264.8h0M762.3 257.4h0M760.6 258.8h0M750.7 246h0M632.4 175.6h0M627.4 175.3h0M645.9 168.5h0M642.2 160.7h0M635.2 198.2h0M645 161h0M631.4 199.4h0M637.1 183.9h0M638.6 196h0M636.7 175h0M648.7 183.8h0M652.5 167.1h0M647.1 176.7h0M631.1 175.2h0M631.8 175.3h0M649.7 177.9h0M632.6 186.2h0M650.3 166.1h0M648.6 157.3h0M650 179.8h0M639.5 172.8h0M643.1 166h0M634.4 174.7h0M630.3 180.9h0M632.6 187.2h0M628.8 193.5h0M632.4 177.6h0M631.6 194.7h0M646.2 160.4h0M633.6 202.7h0M633 182.6h0M636.5 163.3h0M652.8 178.9h0M648.3 175.9h0M653.2 175.2h0M640.3 165.7h0M652.3 170.2h0M629.8 188.2h0M632.7 196.3h0M639.5 196h0M639.5 189.6h0M653.2 179.8h0M633.6 175.5h0M633.9 176h0M653.2 180.1h0M626.5 186h0M638.4 199.2h0M632.5 173.2h0M651.5 186h0M636.6 177h0M640.4 193h0M654.5 170.9h0M642.5 197.2h0M636.8 173.3h0M638.5 179.9h0M639.3 173.9h0M646.3 178.4h0M630.3 191.1h0M641.9 170.7h0M634.7 181.2h0M637.2 195.2h0M652.8 171.6h0M635 172.8h0M640.9 169.6h0M639.1 203.1h0M632.4 169.7h0M635.6 173.7h0M643 170.1h0M650.9 181.3h0M627.9 191.3h0M632.4 195.3h0M640.4 193.3h0M644.3 174h0M632.6 201.2h0M647.8 190.9h0M635.1 200.5h0M643.8 185.7h0M645.1 180.8h0M654.9 178.2h0M654.3 175h0M634.7 177.8h0M651.5 186h0M632.9 200.9h0M652.4 172.2h0M646.8 162.7h0M654.3 177.3h0M655.7 167.9h0M640.3 168.2h0M637.8 167.7h0M627.4 180.7h0M646.3 197.3h0M638.9 199h0M651.3 184.2h0M627.8 189.8h0M644.3 195.2h0M636.7 183.3h0M637.2 183h0M655.6 173.3h0M637.2 171.1h0M641.4 177.1h0M647.1 185.8h0M641.9 171.6h0M655.3 178.7h0M642.8 193.5h0M632.6 184.5h0M637.5 183.6h0M627.7 181.3h0M644.3 173h0M643.4 167.1h0M639.2 185.1h0M631.6 170.6h0M633.7 190.5h0M638.4 198.4h0M631.4 193.5h0M643.2 201.1h0M643 193.1h0M618.3 197h0M640.3 195.8h0M643.6 190.4h0M639.7 194.3h0M632.2 189.7h0M616.2 196.2h0M626.3 191.2h0M632.2 195.4h0M638.3 188.5h0M629.8 201h0M637.8 201.9h0M627 188.3h0M628.3 204.7h0M622.6 191.3h0M639.4 192.1h0M639.9 199.2h0M630 204h0M635.4 204.6h0M633.6 188.8h0M645.1 196.3h0M622.5 190.1h0M632.3 198.5h0M624.9 194h0M635.9 202.7h0M637.5 190.6h0M635.6 201.3h0M617.9 196.7h0M644.9 198.5h0M631.7 187.4h0M637.8 197.1h0M625.2 189.2h0M632.1 192.3h0M629.4 191.2h0M629 199.8h0M622.7 200.6h0M629.8 200.9h0M622.7 194.7h0M634.4 187.9h0M643 197.5h0M624.9 191.5h0M629.5 188h0M630 203h0M636.1 195.7h0M642.6 190.8h0M624.7 193.5h0M582.4 186.1h0M586.5 192.9h0M585.4 185.8h0M584.4 188.1h0M591.6 187.2h0M587 192.6h0M601.8 186.6h0M581.3 191.9h0M587.3 185.2h0M580.5 189.8h0M595.6 194.3h0M590.5 192.9h0M587.7 197.8h0M587.8 196.5h0M588.3 194.6h0M576.5 188.9h0M588.3 188.4h0M596.5 187.5h0M599 196.1h0M580.5 184.7h0M591.4 187.6h0M586.7 196.8h0M588 195.3h0M583.9 186.1h0M578.7 194.5h0M587.7 196.8h0M591.9 183.3h0M583.1 188.4h0M577.9 188.2h0M589.4 192.1h0M579.9 187h0M599.6 188.9h0M592.7 192.1h0M587.7 184.1h0M634.2 309.3h0M649.1 285.5h0M646.3 275.7h0M628.8 283.3h0M676.2 290h0M667.7 298.3h0M644.8 308.5h0M652.3 292.7h0M654.9 312.1h0M625.9 281.7h0M633.9 292.9h0M631.1 299.6h0M641.8 288.6h0M644.6 272.6h0M658.5 296.4h0M646.1 301.7h0M641.5 307h0M639.1 272.9h0M663.3 302.9h0M641.1 288.2h0M641.9 270.7h0M652.1 309.6h0M665.3 288h0M635 289.9h0M650.9 275h0M635.9 274.7h0M637 287.3h0M663.6 290.9h0M646.6 279.6h0M631.7 286.7h0M626.4 288.4h0M660 312.7h0M625.9 295.6h0M645.1 295.3h0M635 285h0M628.4 300.3h0M637.5 307.6h0M645.8 302.7h0M656.3 295.3h0M668.3 293h0M628.3 280.9h0M660.2 309h0M667.6 309.1h0M658.1 279.2h0M643.9 306h0M659.9 273.6h0M644.4 271.3h0M635.1 280.9h0M649.1 292.4h0M660.5 310.9h0M637.4 277.8h0M646.3 284.8h0M670 295.1h0M650.1 293.8h0M637.3 286.5h0M654.6 315.2h0M642.7 273h0M635.9 294.7h0M643.2 309.3h0M642.3 308.8h0M635.6 274.7h0M659.9 286.1h0M642.5 299.1h0M630.7 299h0M677.2 294.3h0M665.4 293.6h0M638.6 281.8h0M659.4 272.8h0M650.9 297.4h0M644.6 288.2h0M653.4 294.4h0M648 289.6h0M654.1 307.5h0M641 276.8h0M631.6 304.2h0M637.9 281h0M654.1 293.9h0M652.9 271.7h0M669.9 278.9h0M646 274h0M675.6 297.7h0M628.7 305.6h0M631.1 289.4h0M660.8 287h0M655 293h0M653.3 307h0M648.9 304.2h0M642 288.6h0M673 301.9h0M645.2 277.5h0M656.8 304.2h0M638.6 286.6h0M642.6 307.5h0M641.7 294.7h0M658.2 303.3h0M660.4 282.6h0M652.5 292h0M635.1 299.7h0M666.1 293.9h0M666.6 287.9h0M642 309.1h0M670.9 301.1h0M656.7 306.7h0M650.7 301.6h0M645.9 275.2h0M667.6 274.4h0M647.6 310h0M662.6 283.2h0M644.3 311.1h0M665.1 302h0M666.7 295.1h0M657.8 285.1h0M655.1 311.2h0M628.8 280.9h0M659.4 296.2h0M651.7 290.6h0M630.2 307.4h0M664.2 309h0M626 295.3h0M644.3 300.5h0M664.9 286.6h0M657.7 307.1h0M650 293.8h0M674.7 289.8h0M653.1 286.4h0M666.4 278.9h0M648.7 301.9h0M658.7 305.1h0M638.2 280.9h0M641.1 297.6h0M654.7 298.5h0M626.7 288.4h0M633.1 292.1h0M651.6 311.8h0M650.6 289.2h0M630 298h0M654.7 280.8h0M630.9 304.6h0M670 283.5h0M644.3 303.8h0M671.7 299.8h0M646.2 266.9h0M663.6 273.6h0M665.9 284.8h0M627.8 293.5h0M647.8 313.6h0M646.4 315.3h0M662 281.9h0M670 293.3h0M643.2 298.2h0M665.8 298h0M645.7 298.3h0M645 277.7h0M646.9 273h0M647.9 296.6h0M634 283.4h0M634.5 305.4h0M667.8 296.9h0M651.9 275.9h0M628 294.2h0M667.5 289.4h0M661.6 279.5h0M667.8 276.4h0M633.8 276.1h0M668 279.5h0M675.2 296.6h0M656.1 277.3h0M638.2 298.6h0M661.3 297.4h0M667.2 307.5h0M628.6 275.7h0M638.7 308.5h0M636.4 284h0M664.6 298h0M644.5 299h0M656.9 294.3h0M656.4 310h0M639.8 273.8h0M675.7 302h0M658.9 279.8h0M660.9 294.1h0M635 286.3h0M642.4 288.2h0M637.1 304.8h0M669.4 299.6h0M671.3 292.1h0M643.4 308.5h0M624.5 294.1h0M660.9 272h0M675.6 282.8h0M633.7 284.4h0M664.6 296.2h0M669.2 293.8h0M650.1 313.8h0M628.8 307.2h0M627.6 283.4h0M631.1 280.2h0M638.6 287.5h0M660 293.2h0M624.7 289.5h0M636.6 272.3h0M654.2 292.8h0M671.6 299.3h0M629.8 306.3h0M668.5 284.1h0M665.7 299.7h0M657.9 283.2h0M672.5 296.6h0M667.9 296.8h0M640.2 311.7h0M645 304.8h0M632.1 294.3h0M627.9 305.7h0M641.7 277.7h0M655 278h0M643.2 302.1h0M655.2 282.9h0M634.6 290.9h0M661.3 299.3h0M653.4 274.2h0M644.7 310.3h0M625 291.7h0M657.2 314.9h0M664.5 281.2h0M629.4 292.6h0M648.6 313.3h0M649.2 310h0M630.3 310.7h0M645 285.3h0M668.5 310.3h0M671.3 286.2h0M663.8 294.3h0M664.8 293h0M662.3 275.5h0M639.3 298.3h0M659.9 273.8h0M657.1 294.7h0M640.7 280.1h0M644.3 273.9h0M670.4 304.2h0M679 291.5h0M674.1 302.1h0M657.7 303.4h0M676.9 295.1h0M674.3 307.5h0M688.5 319.5h0M697.5 314.7h0M666.3 316h0M685.6 320.9h0M685.2 294.8h0M666.1 323.8h0M688.6 327h0M694.1 323.9h0M692.7 308.6h0M672.3 322.3h0M662.8 294h0M685.5 300h0M677.8 318.3h0M660.5 322.4h0M656.9 302.4h0M675.4 295.4h0M675.9 324.3h0M688.7 326.5h0M670.2 313.2h0M665.5 317.5h0M663.1 301.6h0M673.7 316.7h0M667.5 293.6h0M697.1 310.6h0M678.9 313.9h0M691.2 299.1h0M660.6 315.9h0M685 295.5h0M664.9 307.8h0M673.7 299h0M666.5 326.4h0M689.1 314.1h0M663.9 320.8h0M686.8 304.5h0M667.1 291.8h0M666.5 300.9h0M682.2 299.6h0M681.3 327.1h0M670.7 303.9h0M682.4 288.9h0M676.3 304.5h0M678.3 309.7h0M668.6 312.1h0M677.1 322.6h0M673.7 314h0M670.4 322.9h0M674.6 291.6h0M684.8 327.5h0M686.1 314.5h0M691.4 326.1h0M694.4 314.9h0M672.1 318.4h0M698.1 306.3h0M678.6 310.4h0M686.9 306h0M689.6 289.5h0M667.7 318.1h0M697.1 315h0M682 328.8h0M669.7 325.7h0M661.2 307.2h0M676.8 304.6h0M659.4 302.9h0M683.9 295.8h0M681.3 327.8h0M669.8 298.6h0M680.5 314.1h0M680.8 319.8h0M673.4 311.5h0M685.5 305.8h0M677.8 330h0M673.2 323.8h0M655.4 312.1h0M666.2 327.9h0M679.2 315.8h0M687.9 296.9h0M674.1 326.5h0M673.9 326.1h0M674.4 291.1h0M658.4 314.5h0M682 292.7h0M672.6 299.5h0M694.8 316.5h0M683.5 324.4h0M667.2 307.4h0M668.1 315h0M659.4 302.4h0M657.8 308.8h0M685.2 303.7h0M688.4 298.4h0M691 308.9h0M687.6 315.9h0M686.4 309.3h0M668.8 298.7h0M657.3 306.1h0M689.1 320.1h0M674.4 313.5h0M693.7 302.9h0M660.3 319.2h0M662.9 304.5h0M677.3 304.7h0M656.1 302.9h0M690.5 297.4h0M673.7 303h0M682.1 302.7h0M674 328.6h0M675.9 307.8h0M685.3 322.7h0M668 297.9h0M664 322.4h0M665.3 297.5h0M688.1 310.7h0M660.4 321.5h0M679.3 300.4h0M684.7 325.6h0M676.3 316.3h0M665.6 304.7h0M691.6 321.7h0M682.1 306h0M671.1 291.1h0M673.5 327h0M681.8 328.8h0M690.5 300.5h0M674.2 310.8h0M678.8 327.1h0M663.1 304.9h0M673.3 314.5h0M676.5 296.1h0M675.6 302.2h0M660.4 308.8h0M688.5 329.6h0M662.4 309.5h0M671.1 315.2h0M671.7 328.1h0M666.4 293.9h0M663.8 291.4h0M689.7 307.6h0M695.3 294.9h0M685.4 296.8h0M674.7 287h0M660.4 308.8h0M682.1 298.6h0M671.8 293.2h0M667.1 323h0M661 306.3h0M679.3 320h0M674 327.5h0M684.4 287h0M675.1 300.9h0M678.5 305.9h0M691.2 296.7h0M667.7 306.9h0M684 306h0M683.2 297.8h0M682 325.9h0M669.6 307.2h0M670 327.1h0M679 319.2h0M692.3 306.1h0M683.3 300.3h0M695.5 306.6h0M679.5 293.5h0M673.6 328.6h0M667.8 295.3h0M674.3 289.3h0M670.7 310.2h0M672.2 305.5h0M681 296.5h0M677 316.3h0M679.3 314.4h0M663.1 318.9h0M673.8 318.7h0M655.8 310.6h0M669.3 322h0M637.6 324h0M657.3 324.9h0M664.2 328.4h0M638.9 316.6h0M680.4 325.2h0M653.1 327.7h0M673.7 313.9h0M646.1 330.8h0M642.7 324.3h0M672.7 331.3h0M678.5 323.6h0M665.3 314.7h0M673.5 318.4h0M652.6 329.5h0M637 324.6h0M670.7 324.7h0M639.1 321.7h0M676.7 323.6h0M671 325.3h0M678.5 328h0M642.6 314h0M682.1 318.6h0M658.1 320h0M667.7 315.5h0M654.2 326.4h0M663.3 318.5h0M668.3 317.5h0M649.8 321.5h0M644.2 320.8h0M651.8 326.4h0M658.1 320.7h0M660.8 317.6h0M666 319.6h0M648.4 319h0M652.4 316h0M671.1 315.5h0M657.6 323.7h0M671.9 319.7h0M657 327.1h0M669.7 311.6h0M677.8 324h0M644.5 324.7h0M662.1 325.5h0M654.5 323.5h0M641 317h0M661.4 312.5h0M654.7 313.6h0M646.5 324h0M653.4 318.5h0M664.9 332.5h0M665.8 328.6h0M683.8 326.8h0M646.8 313.5h0M644.4 323.8h0M641.9 314h0M655.1 315.2h0M671.8 332.8h0M651 316.4h0M650.1 323.3h0M678.3 328.8h0M648.1 331.5h0M671.7 330.8h0M679.4 325.5h0M672.1 331.5h0M682 326.4h0M676.4 323.2h0M649 315.2h0M653.7 329h0M673.9 317.1h0M650.7 330.5h0M663.5 328h0M667 328.4h0M648.6 324.4h0M647.8 328.5h0M646 329.3h0M658.4 318.9h0M664.7 312.3h0M677.6 325.6h0M677.5 324.3h0M654.7 312.7h0M682.5 327.6h0M638.8 329h0M652.4 318.5h0M660 333h0M659.1 332.6h0M642.5 319.3h0M665.1 314.7h0M668.1 322.6h0M645 312.2h0M674.5 329.8h0M671 325.4h0M673.4 320.2h0M665.8 322.7h0M666.8 320h0M659 331.5h0M662.7 330.5h0M653.9 321.8h0M665.2 315h0M652.7 320h0M643.5 324.6h0M653.2 332.5h0M653 323.9h0M677 320h0M681.9 318.4h0M810.7 305h0M781.2 321.9h0M791 296h0M796.7 293.3h0M773.2 312.3h0M760.5 314.9h0M821.4 307.7h0M788.7 298.7h0M787.8 321.5h0M802.7 298.6h0M763.7 316.7h0M805.6 319.2h0M774.7 314.9h0M815.8 317.5h0M779.4 325.2h0M759.8 318.5h0M769.3 321h0M789.6 291.7h0M794.1 308.7h0M767.8 311.1h0M779.3 303.6h0M780.2 320.6h0M786.6 304.6h0M803.7 308h0M772.8 298.7h0M811.2 312.7h0M787.1 331.2h0M806.7 295.7h0M800.7 298.1h0M796.2 330h0M790.4 304.9h0M777.5 300.9h0M773.2 313.2h0M787 315h0M800.6 306.4h0M785.5 313.1h0M790.9 297.7h0M805.2 309h0M768.7 312.2h0M812.9 304.8h0M808.3 310.2h0M803.9 303.1h0M799.1 317.3h0M784.4 302.6h0M810.6 305.8h0M782.9 306.9h0M780.7 298.4h0M777.6 307.2h0M773.3 328.3h0M763.4 319.6h0M775.2 318.1h0M771.3 327.3h0M809.8 299.1h0M786.3 304.3h0M787.3 296.9h0M787.1 331.7h0M761.4 320.2h0M812.4 313.5h0M777 304.8h0M792.6 308.1h0M803.1 306.1h0M771.4 310.3h0M793.8 309.5h0M781.7 306.9h0M776.2 303.1h0M772.1 315.9h0M781.9 296.7h0M795.7 294.2h0M780.3 321.1h0M808.8 311.2h0M779.3 299.5h0M767 323.5h0M766.6 322.3h0M768.8 330h0M811.6 322.2h0M785.8 327.6h0M816.5 301.5h0M791.6 306.6h0M798 324.7h0M815.1 314.7h0M806.5 318.2h0M801.6 325.3h0M770.9 324.7h0M782.4 309.4h0M801.6 325.8h0M800 328.6h0M806.1 320.3h0M774.6 321.7h0M803.4 323.5h0M775.6 327.4h0M792.1 301.8h0M780.7 294h0M807.6 302.9h0M761 315.6h0M793.5 305.8h0M802 324.3h0M813.2 303h0M774.2 322.7h0M803.3 299.9h0M800.3 325.4h0M788.8 301.9h0M800 329.4h0M808 313h0M772.2 313.3h0M801.2 322.5h0M798.4 318.2h0M773.4 296.9h0M800.9 328.4h0M783.5 317.5h0M804.9 310.2h0M758.1 315.1h0M814.3 304.4h0M808.9 318h0M803.4 318.5h0M799.1 328.9h0M784.1 315.2h0M795.8 328.6h0M782.6 296.6h0M777.9 323.3h0M770.1 328h0M785.1 331.2h0M776.3 327.9h0M791.6 318.2h0M779.5 293.7h0M764.5 320.3h0M812.1 294.3h0M790.6 298.6h0M793.8 295.6h0M803.3 327.2h0M774.8 317.2h0M788.1 326.4h0M773.7 296.3h0M790.5 308.9h0M794.2 329.4h0M770.1 300.6h0M804 310.3h0M788.3 292.3h0M782 311h0M807.3 320.7h0M770.7 328.1h0M763.2 323.1h0M816.1 312.7h0M793.3 305.6h0M786.8 313h0M803.4 300.8h0M788.8 309.8h0M790.2 304.5h0M774.1 304.5h0M795.3 328.6h0M797.2 310.7h0M818.1 315.8h0M768.3 304.3h0M800.4 303.4h0M794.4 327.1h0M769.8 306.3h0M816.3 308.1h0M810.8 326.4h0M770.4 325.9h0M761.2 317.9h0M772.9 308.5h0M792.2 324.3h0M785.7 323.2h0M795.9 293.9h0M809.5 324.1h0M793.3 329.9h0M784.2 311.2h0M791.4 308.9h0M762.4 321h0M815.8 304.6h0M787.2 310.8h0M771.4 320.2h0M780.5 312.7h0M781.3 292.8h0M776 297h0M796.8 300.7h0M809.6 314.8h0M789.9 302.9h0M791.3 301.1h0M791.3 328.3h0M789.1 312.7h0M805.7 300.5h0M772.3 325.1h0M780.3 329.4h0M780.1 333.3h0M802.2 299.2h0M766.8 324.9h0M781.3 294.3h0M782.6 307.1h0M783.8 310.7h0M804.9 325.9h0M802.5 319.2h0M807 314.9h0M798.3 319.3h0M775.9 329.7h0M793.8 314.4h0M812.5 319.5h0M801.6 318.1h0M776.1 312.8h0M770.6 315.6h0M801.5 311.6h0M799.8 317h0M793.3 301.2h0M802.4 306h0M803.3 306.1h0M784 325.5h0M768.5 319.2h0M767.9 303.4h0M793.5 328.7h0M776 321.5h0M780.2 305.1h0M785.6 314.1h0M790.9 311h0M784.9 326.8h0M790.4 302.4h0M790.4 305h0M763.4 310.6h0M782 306.4h0M789.2 315.5h0M780.6 295.6h0M798.2 311.2h0M780.9 318.6h0M845.6 357.1h0M852.6 353.9h0M875.1 349.3h0M865 362.9h0M884.5 356.4h0M877 343.7h0M867.3 354.1h0M880.2 349.8h0M887.3 351.1h0M868.7 359.4h0M858.7 357.5h0M850.8 348.6h0M847.5 357.4h0M844.5 352.9h0M876.7 347.7h0M882.6 358.1h0M885.6 348.8h0M854.7 360.8h0M853.1 355.3h0M877.5 344h0M858.1 356.5h0M855.8 363.9h0M869.6 358.2h0M866.6 357.7h0M869.1 346.7h0M857.7 358.6h0M879.6 346.3h0M872.1 343h0M874.7 360.8h0M881.5 348h0M857.1 347.3h0M884.1 353.7h0M869.3 354.7h0M871.9 360.2h0M869.4 347.9h0M859.7 362.8h0M869.8 348.2h0M873.2 353.2h0M865.1 349.3h0M872.7 349h0M871.4 361.3h0M859.3 356.2h0M870.2 355.7h0M858.7 344.3h0M847.6 357.8h0M866.2 346h0M862.5 356.3h0M848.2 358.4h0M870.1 356.4h0M857.4 362.9h0M873.6 347.3h0M873.6 354h0M859 353.7h0M889.4 357h0M864.4 355.5h0M855.5 358.5h0M854.7 351.7h0M876.1 344.7h0M872.2 343.8h0M888.4 356.1h0M870.8 349.3h0M868.3 351h0M856 348.2h0M851.2 354.3h0M861.5 358.7h0M865.7 352h0M856.2 347.4h0M884.2 349.9h0M858.7 356.3h0M864.4 346.4h0M865.8 358.2h0M876.3 358.7h0M862.7 350.5h0M869.5 343.6h0M852.4 358.2h0M875.2 354.4h0M870.3 361.6h0M860.3 357.7h0M863.6 345.2h0M866.8 361.7h0M888 351h0M844.2 354h0M874.4 348.6h0M863.9 356.9h0M868.3 357.4h0M870.6 357.6h0M876.9 358.9h0M853.5 357h0M857.3 359.2h0M875.6 349.9h0M879.4 349.4h0M879.3 348.8h0M865.3 353.8h0M977.8 82.3h0M977.7 81.5h0M981.2 83.6h0M978.2 80.4h0M977.3 77.3h0M975.3 84.4h0M978.8 90.9h0M976.6 76.6h0M975.5 78.7h0M978.6 81.9h0M975.1 75.7h0M974.2 79.2h0M980.2 83.7h0M970.6 84.1h0M978.4 82.6h0M974.8 79.6h0M974.7 82.8h0M975.5 91.7h0M976.3 74.9h0M980.9 79.5h0M971.5 88.2h0M978 178.6h0M981.9 192.5h0M984.4 183.5h0M981.3 184.2h0M982.2 190.9h0M983.5 186.5h0M979.5 182.7h0M977.8 181.3h0M978.4 189.4h0M979.9 183.4h0M982.9 192.4h0M977.9 193.6h0M981.2 185.9h0M979.8 190.1h0M980.6 197.5h0M922.6 128.8h0M925 136.9h0M924.6 140.4h0M922.8 140.6h0M927.9 136.1h0M923.9 139.6h0M925.1 134.5h0M920.1 137.3h0M922.3 139.7h0M586.6 299h0M588.5 308.5h0M586.3 302.5h0M597 301.3h0M588.9 303.5h0M591 308.3h0M588.6 298.4h0M598.2 304.4h0M587.5 301.6h0M593.3 301.6h0M589.1 307.6h0M596.7 306.5h0M594 298.3h0M590.7 301.1h0M586.1 307.3h0M590.3 305.7h0M877.5 233.5h0M878.9 233.6h0M879.6 236.2h0M875.6 235.3h0M963.7 250.4h0M963.1 251.1h0M963.2 253.4h0M806.5 284.5h0M803.1 284.8h0M805.8 284.1h0M578.3 156.9h0M576.4 160.3h0M579.4 162.5h0M579 162.4h0M576.6 163.9h0M579.7 342.5h0M580.7 340.9h0M582.5 341.7h0"/></defs>
<g filter="url(#fA1)" stroke-linecap="round" fill="none">
<use href="#pA2" stroke="#1a1a1a" stroke-width="4.6" opacity="0.66"/>
<use href="#pA2h" stroke="#a0a0a0" stroke-width="1.8" opacity="0.55"/>
</g>
<rect x="597.8" y="335.6" width="99.7" height="6.2" fill="#fff"/>
</g>
<defs>
<clipPath id="mcc"><rect x="81" y="975.1" width="347.2" height="347.2"/></clipPath>
<linearGradient id="mcglass" x1="0" y1="0" x2="1" y2="0"><stop offset="0" stop-color="#6a6a6a"/><stop offset="0.3" stop-color="#a8a8a8"/><stop offset="0.5" stop-color="#d8d8d8"/><stop offset="0.7" stop-color="#a8a8a8"/><stop offset="1" stop-color="#6a6a6a"/></linearGradient>
<linearGradient id="mcbg" x1="0.2" y1="0" x2="0.8" y2="1"><stop offset="0" stop-color="#595959"/><stop offset="0.55" stop-color="#525252"/><stop offset="1" stop-color="#3e3e3e"/></linearGradient>
<linearGradient id="mcbody" x1="0" y1="0" x2="1" y2="0"><stop offset="0" stop-color="#989898"/><stop offset="0.2" stop-color="#bababa"/><stop offset="0.5" stop-color="#c8c8c8"/><stop offset="0.8" stop-color="#b8b8b8"/><stop offset="1" stop-color="#8e8e8e"/></linearGradient>
<linearGradient id="mcpl" x1="0" y1="0" x2="0" y2="1"><stop offset="0" stop-color="#7c7c7c"/><stop offset="0.6" stop-color="#8a8a8a"/><stop offset="0.93" stop-color="#8e8e8e"/><stop offset="1" stop-color="#555"/></linearGradient>
<filter id="mcn" x="0" y="0" width="100%" height="100%"><feTurbulence type="fractalNoise" baseFrequency="0.55" numOctaves="2" seed="3"/><feColorMatrix type="matrix" values="0 0 0 0 0.5  0 0 0 0 0.5  0 0 0 0 0.5  0 0 0 0 1"/><feComponentTransfer><feFuncR type="linear" slope="3" intercept="-1"/><feFuncG type="linear" slope="3" intercept="-1"/><feFuncB type="linear" slope="3" intercept="-1"/></feComponentTransfer></filter>
<filter id="mcb" x="-10%" y="-10%" width="120%" height="120%"><feGaussianBlur stdDeviation="0.6"/></filter>
<filter id="mcb2" x="-20%" y="-20%" width="140%" height="140%"><feGaussianBlur stdDeviation="2.2"/></filter>
</defs>
<g clip-path="url(#mcc)">
<rect x="81" y="975.1" width="347.2" height="347.2" fill="url(#mcbg)"/>
<rect x="81" y="975.1" width="7.2" height="15" fill="#2e2e2e"/>
<g filter="url(#mcb2)">
<rect x="148.7" y="1038.3" width="10" height="111.7" fill="#2a2a2a" opacity="0.8"/>
<rect x="160.7" y="1038.3" width="10" height="105.7" fill="#707070" opacity="0.55"/>
<rect x="207" y="1038.3" width="12" height="110.7" fill="#2a2a2a" opacity="0.8"/>
<rect x="221" y="1038.3" width="10" height="104.7" fill="#707070" opacity="0.55"/>
<rect x="266.2" y="1038.3" width="13" height="109.7" fill="#2a2a2a" opacity="0.8"/>
<rect x="281.2" y="1038.3" width="10" height="103.7" fill="#707070" opacity="0.55"/>
<rect x="324.3" y="1038.3" width="16" height="107.7" fill="#2a2a2a" opacity="0.8"/>
<rect x="342.3" y="1038.3" width="10" height="101.7" fill="#707070" opacity="0.55"/>
<ellipse cx="129.5" cy="1150" rx="34" ry="9" fill="#3a3a3a" opacity="0.7"/>
<ellipse cx="185.8" cy="1150" rx="34" ry="9" fill="#3a3a3a" opacity="0.7"/>
<ellipse cx="245.4" cy="1149" rx="34" ry="9" fill="#3a3a3a" opacity="0.7"/>
<ellipse cx="304.3" cy="1150" rx="34" ry="9" fill="#3a3a3a" opacity="0.7"/>
</g>
<rect x="88.2" y="973.1" width="322.1" height="33.9" fill="url(#mcpl)"/>
<rect x="88.2" y="1006" width="322.1" height="2.6" fill="#161616"/>
<rect x="87.4" y="975.1" width="1.6" height="31.9" fill="#222"/>
<rect x="409.5" y="975.1" width="1.6" height="31.9" fill="#222"/>
<rect x="411.1" y="975.1" width="17.9" height="28.9" fill="#4c4c4c"/>
<rect x="104.1" y="1008.3" width="290.6" height="30" fill="#242424" opacity="0.85"/>
<rect x="105.9" y="1008.3" width="7.2" height="32" rx="1.5" fill="#1c1c1c"/>
<rect x="107.9" y="1009.3" width="2.6" height="29.5" rx="1.2" fill="#8c8c8c"/>
<rect x="147.1" y="1008.3" width="7.2" height="32" rx="1.5" fill="#1c1c1c"/>
<rect x="149.1" y="1009.3" width="2.6" height="29.5" rx="1.2" fill="#8c8c8c"/>
<rect x="116.1" y="1008.3" width="28" height="31" fill="url(#mcglass)"/>
<path d="M127.5,1008.3 L132.3,1008.3 L133.5,1034.3 L129.1,1035.3 Z" fill="#fff" opacity="0.95"/>
<rect x="135.6" y="1019.3" width="2.6" height="12" rx="1.2" fill="#f2f2f2" opacity="0.85"/>
<rect x="121.1" y="1021.3" width="2" height="10" rx="1" fill="#ddd" opacity="0.6"/>
<rect x="165.6" y="1008.3" width="7.2" height="32" rx="1.5" fill="#1c1c1c"/>
<rect x="167.6" y="1009.3" width="2.6" height="29.5" rx="1.2" fill="#8c8c8c"/>
<rect x="206.8" y="1008.3" width="7.2" height="32" rx="1.5" fill="#1c1c1c"/>
<rect x="208.8" y="1009.3" width="2.6" height="29.5" rx="1.2" fill="#8c8c8c"/>
<rect x="175.8" y="1008.3" width="28" height="31" fill="url(#mcglass)"/>
<path d="M187.2,1008.3 L192,1008.3 L193.2,1034.3 L188.8,1035.3 Z" fill="#fff" opacity="0.95"/>
<rect x="195.3" y="1019.3" width="2.6" height="12" rx="1.2" fill="#f2f2f2" opacity="0.85"/>
<rect x="180.8" y="1021.3" width="2" height="10" rx="1" fill="#ddd" opacity="0.6"/>
<rect x="225.2" y="1008.3" width="7.2" height="32" rx="1.5" fill="#1c1c1c"/>
<rect x="227.2" y="1009.3" width="2.6" height="29.5" rx="1.2" fill="#8c8c8c"/>
<rect x="266.4" y="1008.3" width="7.2" height="32" rx="1.5" fill="#1c1c1c"/>
<rect x="268.4" y="1009.3" width="2.6" height="29.5" rx="1.2" fill="#8c8c8c"/>
<rect x="235.4" y="1008.3" width="28" height="31" fill="url(#mcglass)"/>
<path d="M246.8,1008.3 L251.6,1008.3 L252.8,1034.3 L248.4,1035.3 Z" fill="#fff" opacity="0.95"/>
<rect x="254.9" y="1019.3" width="2.6" height="12" rx="1.2" fill="#f2f2f2" opacity="0.85"/>
<rect x="240.4" y="1021.3" width="2" height="10" rx="1" fill="#ddd" opacity="0.6"/>
<rect x="284.8" y="1008.3" width="7.2" height="32" rx="1.5" fill="#1c1c1c"/>
<rect x="286.8" y="1009.3" width="2.6" height="29.5" rx="1.2" fill="#8c8c8c"/>
<rect x="326" y="1008.3" width="7.2" height="32" rx="1.5" fill="#1c1c1c"/>
<rect x="328" y="1009.3" width="2.6" height="29.5" rx="1.2" fill="#8c8c8c"/>
<rect x="295" y="1008.3" width="28" height="31" fill="url(#mcglass)"/>
<path d="M306.4,1008.3 L311.2,1008.3 L312.4,1034.3 L308,1035.3 Z" fill="#fff" opacity="0.95"/>
<rect x="314.5" y="1019.3" width="2.6" height="12" rx="1.2" fill="#f2f2f2" opacity="0.85"/>
<rect x="300" y="1021.3" width="2" height="10" rx="1" fill="#ddd" opacity="0.6"/>
<rect x="344.5" y="1008.3" width="7.2" height="32" rx="1.5" fill="#1c1c1c"/>
<rect x="346.5" y="1009.3" width="2.6" height="29.5" rx="1.2" fill="#8c8c8c"/>
<rect x="385.7" y="1008.3" width="7.2" height="32" rx="1.5" fill="#1c1c1c"/>
<rect x="387.7" y="1009.3" width="2.6" height="29.5" rx="1.2" fill="#8c8c8c"/>
<rect x="354.7" y="1008.3" width="28" height="31" fill="url(#mcglass)"/>
<path d="M366.1,1008.3 L370.9,1008.3 L372.1,1034.3 L367.7,1035.3 Z" fill="#fff" opacity="0.95"/>
<rect x="374.2" y="1019.3" width="2.6" height="12" rx="1.2" fill="#f2f2f2" opacity="0.85"/>
<rect x="359.7" y="1021.3" width="2" height="10" rx="1" fill="#ddd" opacity="0.6"/>
<g filter="url(#mcb)">
<path d="M117,1131 Q112,1140 101.4,1147" fill="none" stroke="#c9c9c9" stroke-width="4.2" stroke-linecap="round"/>
<path d="M151,1131 Q156.1,1140 166.6,1147" fill="none" stroke="#c9c9c9" stroke-width="4.2" stroke-linecap="round"/>
<path d="M132,1141.8 L131.1,1150.1 L130.4,1158.8 L129.8,1167.8 L129.4,1176.9 L129.1,1186.3 L128.9,1195.8 L128.9,1205.4 L128.9,1215 L129,1224.6 L129.3,1234.2 L129.6,1243.6 L130,1253 L130.4,1262.1 L130.9,1271 L132.3,1271 L132,1262.1 L131.7,1252.9 L131.4,1243.6 L131.3,1234.1 L131.2,1224.6 L131.2,1215 L131.4,1205.4 L131.6,1195.8 L131.9,1186.4 L132.4,1177.1 L133,1168 L133.7,1159.1 L134.6,1150.5 L135.6,1142.2 Z" fill="#dedede"/>
<path d="M127,1030C124.2,1031 124.2,1034 123,1036C121.9,1038 121,1039.8 120.1,1042C119.1,1044.2 117.8,1047 117.1,1049C116.3,1051 115.8,1052.2 115.6,1054C115.4,1055.8 116,1058 116.1,1060C116.3,1062 116.7,1062.8 116.7,1066C116.6,1069.2 116.4,1073.8 115.7,1079C115.1,1084.2 113.8,1091 112.8,1097C111.8,1103 110.5,1110.2 109.9,1115C109.2,1119.8 108.8,1122.7 108.9,1126C109,1129.3 109.1,1132.7 110.5,1135C111.8,1137.3 114.4,1138.6 117,1140C119.6,1141.4 123.5,1142.7 126,1143.5C128.5,1144.3 130.3,1144.8 132,1145C133.7,1145.2 134.3,1145.2 136,1145C137.7,1144.8 139.5,1144.3 142,1143.5C144.5,1142.7 148.4,1141.4 151,1140C153.6,1138.6 156.1,1137.3 157.5,1135C158.8,1132.7 158.9,1129.3 158.9,1126C159,1122.7 158.6,1119.8 157.9,1115C157.2,1110.2 155.8,1103 154.8,1097C153.8,1091 152.4,1084.2 151.7,1079C151,1073.8 150.8,1069.2 150.7,1066C150.6,1062.8 151,1062 151.1,1060C151.3,1058 151.8,1055.8 151.6,1054C151.4,1052.2 150.8,1051 150.1,1049C149.3,1047 148.1,1044.2 147.1,1042C146,1039.8 145.2,1038 144,1036C142.9,1034 142.8,1031 140,1030C137.2,1029 129.8,1029 127,1030Z" fill="url(#mcbody)"/>
<g filter="url(#mcb2)">
<ellipse cx="133.8" cy="1077" rx="5" ry="4" fill="#e2e2e2" opacity="0.8"/>
<ellipse cx="133.9" cy="1112" rx="12" ry="20" fill="#d6d6d6" opacity="0.5"/>
<ellipse cx="133.5" cy="1038" rx="6" ry="8" fill="#e4e4e4" opacity="0.8"/>
<ellipse cx="134" cy="1138" rx="12" ry="5" fill="#a8a8a8" opacity="0.6"/>
</g>
<ellipse cx="119" cy="1055" rx="4" ry="5" fill="#c2c2c2" stroke="#a0a0a0" stroke-width="0.8" opacity="0.8"/>
<ellipse cx="148" cy="1055" rx="4" ry="5" fill="#c2c2c2" stroke="#a0a0a0" stroke-width="0.8" opacity="0.8"/>
<path d="M172.8,1131 Q168.8,1140 158.8,1147" fill="none" stroke="#c9c9c9" stroke-width="4.2" stroke-linecap="round"/>
<path d="M206.8,1131 Q210.8,1140 220.8,1147" fill="none" stroke="#c9c9c9" stroke-width="4.2" stroke-linecap="round"/>
<path d="M188.2,1142.3 L189.8,1152.4 L190.9,1162.5 L191.5,1172.4 L191.8,1182.2 L191.7,1191.7 L191.2,1201.1 L190.5,1210.2 L189.4,1219.1 L188.1,1227.7 L186.6,1236.1 L184.9,1244 L183,1251.7 L181,1258.9 L178.9,1265.8 L180.3,1266.2 L182.5,1259.4 L184.7,1252.1 L186.7,1244.5 L188.6,1236.5 L190.3,1228.1 L191.7,1219.5 L192.9,1210.5 L193.9,1201.3 L194.5,1191.8 L194.7,1182.2 L194.6,1172.3 L194.1,1162.2 L193.2,1152 L191.8,1141.7 Z" fill="#dedede"/>
<path d="M183.3,1030C180.5,1031 180.5,1034 179.3,1036C178.1,1038 177.3,1039.8 176.3,1042C175.3,1044.2 174.1,1047 173.3,1049C172.6,1051 172,1052.2 171.8,1054C171.6,1055.8 172.1,1058 172.3,1060C172.5,1062 172.9,1062.8 172.8,1066C172.7,1069.2 172.5,1073.8 171.8,1079C171.1,1084.2 169.8,1091 168.8,1097C167.8,1103 166.5,1110.2 165.8,1115C165.1,1119.8 164.7,1122.7 164.8,1126C164.9,1129.3 165,1132.7 166.3,1135C167.6,1137.3 170.2,1138.6 172.8,1140C175.4,1141.4 179.3,1142.7 181.8,1143.5C184.3,1144.3 186.1,1144.8 187.8,1145C189.5,1145.2 190.1,1145.2 191.8,1145C193.5,1144.8 195.3,1144.3 197.8,1143.5C200.3,1142.7 204.2,1141.4 206.8,1140C209.4,1138.6 212,1137.3 213.3,1135C214.6,1132.7 214.7,1129.3 214.8,1126C214.9,1122.7 214.5,1119.8 213.8,1115C213.1,1110.2 211.8,1103 210.8,1097C209.8,1091 208.5,1084.2 207.8,1079C207.1,1073.8 206.9,1069.2 206.8,1066C206.7,1062.8 207.1,1062 207.3,1060C207.5,1058 208,1055.8 207.8,1054C207.6,1052.2 207.1,1051 206.3,1049C205.6,1047 204.3,1044.2 203.3,1042C202.3,1039.8 201.5,1038 200.3,1036C199.1,1034 199.1,1031 196.3,1030C193.5,1029 186.1,1029 183.3,1030Z" fill="url(#mcbody)"/>
<g filter="url(#mcb2)">
<ellipse cx="189.8" cy="1077" rx="5" ry="4" fill="#e2e2e2" opacity="0.8"/>
<ellipse cx="189.8" cy="1112" rx="12" ry="20" fill="#d6d6d6" opacity="0.5"/>
<ellipse cx="189.8" cy="1038" rx="6" ry="8" fill="#e4e4e4" opacity="0.8"/>
<ellipse cx="189.8" cy="1138" rx="12" ry="5" fill="#a8a8a8" opacity="0.6"/>
</g>
<ellipse cx="175.3" cy="1055" rx="4" ry="5" fill="#c2c2c2" stroke="#a0a0a0" stroke-width="0.8" opacity="0.8"/>
<ellipse cx="204.3" cy="1055" rx="4" ry="5" fill="#c2c2c2" stroke="#a0a0a0" stroke-width="0.8" opacity="0.8"/>
<path d="M230.4,1130 Q226.4,1139 216.4,1146" fill="none" stroke="#c9c9c9" stroke-width="4.2" stroke-linecap="round"/>
<path d="M264.4,1130 Q268.4,1139 278.4,1146" fill="none" stroke="#c9c9c9" stroke-width="4.2" stroke-linecap="round"/>
<path d="M244.7,1140 L244.6,1149.6 L244.2,1159.2 L243.6,1168.7 L242.9,1178.1 L241.9,1187.4 L240.7,1196.6 L239.4,1205.6 L237.9,1214.4 L236.3,1223 L234.5,1231.3 L232.5,1239.3 L230.4,1247 L228.2,1254.3 L225.9,1261.3 L227.3,1261.7 L229.7,1254.8 L232.1,1247.5 L234.3,1239.8 L236.4,1231.7 L238.4,1223.4 L240.2,1214.8 L241.9,1206 L243.4,1197 L244.7,1187.8 L245.8,1178.4 L246.7,1168.9 L247.5,1159.3 L248,1149.7 L248.3,1140 Z" fill="#dedede"/>
<path d="M242.9,1029C240,1030 240,1033 238.8,1035C237.6,1037 236.7,1038.8 235.7,1041C234.6,1043.2 233.3,1046 232.6,1048C231.8,1050 231.2,1051.2 231,1053C230.8,1054.8 231.2,1057 231.4,1059C231.5,1061 231.9,1061.8 231.8,1065C231.6,1068.2 231.3,1072.8 230.5,1078C229.8,1083.2 228.3,1090 227.2,1096C226.1,1102 224.6,1109.2 223.9,1114C223.1,1118.8 222.7,1121.7 222.7,1125C222.7,1128.3 222.7,1131.7 224,1134C225.3,1136.3 227.9,1137.6 230.5,1139C233,1140.4 236.9,1141.7 239.4,1142.5C241.9,1143.3 243.7,1143.8 245.4,1144C247,1144.2 247.7,1144.2 249.4,1144C251,1143.8 252.9,1143.3 255.4,1142.5C257.9,1141.7 261.8,1140.4 264.5,1139C267.1,1137.6 269.7,1136.3 271,1134C272.4,1131.7 272.6,1128.3 272.7,1125C272.8,1121.7 272.5,1118.8 271.9,1114C271.3,1109.2 270.1,1102 269.2,1096C268.3,1090 267.1,1083.2 266.5,1078C266,1072.8 265.8,1068.2 265.8,1065C265.7,1061.8 266.2,1061 266.4,1059C266.6,1057 267.1,1054.8 267,1053C266.8,1051.2 266.3,1050 265.6,1048C264.8,1046 263.6,1043.2 262.7,1041C261.7,1038.8 260.9,1037 259.8,1035C258.7,1033 258.7,1030 255.9,1029C253.1,1028 245.8,1028 242.9,1029Z" fill="url(#mcbody)"/>
<g filter="url(#mcb2)">
<ellipse cx="248.4" cy="1076" rx="5" ry="4" fill="#e2e2e2" opacity="0.8"/>
<ellipse cx="247.8" cy="1111" rx="12" ry="20" fill="#d6d6d6" opacity="0.5"/>
<ellipse cx="249.4" cy="1037" rx="6" ry="8" fill="#e4e4e4" opacity="0.8"/>
<ellipse cx="247.4" cy="1137" rx="12" ry="5" fill="#a8a8a8" opacity="0.6"/>
</g>
<ellipse cx="234.9" cy="1054" rx="4" ry="5" fill="#c2c2c2" stroke="#a0a0a0" stroke-width="0.8" opacity="0.8"/>
<ellipse cx="263.9" cy="1054" rx="4" ry="5" fill="#c2c2c2" stroke="#a0a0a0" stroke-width="0.8" opacity="0.8"/>
<path d="M289.3,1131 Q285.3,1140 275.3,1147" fill="none" stroke="#c9c9c9" stroke-width="4.2" stroke-linecap="round"/>
<path d="M323.3,1131 Q327.3,1140 337.3,1147" fill="none" stroke="#c9c9c9" stroke-width="4.2" stroke-linecap="round"/>
<path d="M303.7,1140.8 L302.7,1149.2 L301.5,1157.9 L300,1166.8 L298.4,1175.8 L296.5,1184.9 L294.6,1194 L292.5,1203 L290.3,1212 L288.1,1220.8 L285.8,1229.5 L283.4,1237.9 L281.1,1246.1 L278.8,1253.9 L276.5,1261.3 L277.9,1261.7 L280.3,1254.3 L282.8,1246.6 L285.2,1238.5 L287.7,1230.1 L290.2,1221.4 L292.6,1212.6 L294.9,1203.6 L297.2,1194.6 L299.3,1185.5 L301.3,1176.4 L303.1,1167.4 L304.7,1158.5 L306.1,1149.7 L307.3,1141.2 Z" fill="#dedede"/>
<path d="M301.8,1030C298.9,1031 298.9,1034 297.7,1036C296.5,1038 295.6,1039.8 294.6,1042C293.5,1044.2 292.2,1047 291.5,1049C290.7,1051 290.1,1052.2 289.9,1054C289.7,1055.8 290.1,1058 290.3,1060C290.4,1062 290.8,1062.8 290.7,1066C290.5,1069.2 290.2,1073.8 289.4,1079C288.7,1084.2 287.2,1091 286.1,1097C285,1103 283.5,1110.2 282.8,1115C282,1119.8 281.6,1122.7 281.6,1126C281.6,1129.3 281.6,1132.7 282.9,1135C284.2,1137.3 286.8,1138.6 289.4,1140C291.9,1141.4 295.8,1142.7 298.3,1143.5C300.8,1144.3 302.6,1144.8 304.3,1145C305.9,1145.2 306.6,1145.2 308.3,1145C309.9,1144.8 311.8,1144.3 314.3,1143.5C316.8,1142.7 320.7,1141.4 323.4,1140C326,1138.6 328.6,1137.3 329.9,1135C331.3,1132.7 331.5,1129.3 331.6,1126C331.7,1122.7 331.4,1119.8 330.8,1115C330.2,1110.2 329,1103 328.1,1097C327.2,1091 326,1084.2 325.4,1079C324.9,1073.8 324.7,1069.2 324.7,1066C324.6,1062.8 325.1,1062 325.3,1060C325.5,1058 326,1055.8 325.9,1054C325.7,1052.2 325.2,1051 324.5,1049C323.7,1047 322.5,1044.2 321.6,1042C320.6,1039.8 319.8,1038 318.7,1036C317.6,1034 317.6,1031 314.8,1030C312,1029 304.7,1029 301.8,1030Z" fill="url(#mcbody)"/>
<g filter="url(#mcb2)">
<ellipse cx="307.3" cy="1077" rx="5" ry="4" fill="#e2e2e2" opacity="0.8"/>
<ellipse cx="306.7" cy="1112" rx="12" ry="20" fill="#d6d6d6" opacity="0.5"/>
<ellipse cx="308.3" cy="1038" rx="6" ry="8" fill="#e4e4e4" opacity="0.8"/>
<ellipse cx="306.3" cy="1138" rx="12" ry="5" fill="#a8a8a8" opacity="0.6"/>
</g>
<ellipse cx="293.8" cy="1055" rx="4" ry="5" fill="#c2c2c2" stroke="#a0a0a0" stroke-width="0.8" opacity="0.8"/>
<ellipse cx="322.8" cy="1055" rx="4" ry="5" fill="#c2c2c2" stroke="#a0a0a0" stroke-width="0.8" opacity="0.8"/>
</g>
<path d="M157.6,1000 L159.7,998 L160.9,1154 L158.3,1154 Z" fill="#303030"/>
<line x1="160" y1="1000" x2="161.1" y2="1152" stroke="#858585" stroke-width="0.7"/>
<path d="M217.9,1001 L220,999 L221.2,1153 L218.6,1153 Z" fill="#303030"/>
<line x1="220.3" y1="1001" x2="221.4" y2="1151" stroke="#858585" stroke-width="0.7"/>
<path d="M278.1,1001 L280.2,999 L281.4,1152 L278.8,1152 Z" fill="#303030"/>
<line x1="280.5" y1="1001" x2="281.6" y2="1150" stroke="#858585" stroke-width="0.7"/>
<path d="M339.2,1001 L341.3,999 L342.5,1150 L339.9,1150 Z" fill="#303030"/>
<line x1="341.6" y1="1001" x2="342.7" y2="1148" stroke="#858585" stroke-width="0.7"/>
<g filter="url(#mcb)">
<ellipse cx="238.2" cy="1073.9" rx="4.6" ry="7.8" fill="#2a2aff" transform="rotate(0 238.2 1073.9)"/>
<ellipse cx="238.2" cy="1074.2" rx="3" ry="5.2" fill="#00a8ff" transform="rotate(0 238.2 1074.2)"/>
<ellipse cx="238.3" cy="1074.4" rx="1.6" ry="2.6" fill="#00e8c0" transform="rotate(0 238.3 1074.4)"/>
</g>
<rect x="81" y="975.1" width="347.2" height="347.2" filter="url(#mcn)" opacity="0.1"/>
</g>
<defs><linearGradient id="mccb" x1="0" y1="0" x2="0" y2="1"><stop offset="0" stop-color="#ff0000"/><stop offset="0.04" stop-color="#ff1000"/><stop offset="0.11" stop-color="#ff7000"/><stop offset="0.175" stop-color="#ffc800"/><stop offset="0.24" stop-color="#fff800"/><stop offset="0.34" stop-color="#a0ec00"/><stop offset="0.45" stop-color="#20dc10"/><stop offset="0.57" stop-color="#00e070"/><stop offset="0.68" stop-color="#00f4f0"/><stop offset="0.77" stop-color="#00a0ff"/><stop offset="0.84" stop-color="#0030ff"/><stop offset="0.895" stop-color="#0000ff"/><stop offset="0.945" stop-color="#4000ff"/><stop offset="1" stop-color="#8a10f8"/></linearGradient></defs>
<rect x="509.1" y="989.7" width="7" height="290.2" fill="url(#mccb)"/>
<line x1="509.5" y1="989.7" x2="509.5" y2="1279.9" stroke="#000" stroke-opacity="0.75" stroke-width="0.8"/>
<line x1="516.4" y1="989.7" x2="516.4" y2="1279.9" stroke="#bfe8ff" stroke-width="0.7"/>
<line x1="509.1" y1="989.4" x2="521.1" y2="989.4" stroke="#666" stroke-width="0.7"/>
<line x1="516.1" y1="1005" x2="519.1" y2="1005" stroke="#000" stroke-width="0.7"/>
<line x1="516.1" y1="1020.2" x2="519.1" y2="1020.2" stroke="#000" stroke-width="0.7"/>
<line x1="516.1" y1="1035.5" x2="519.1" y2="1035.5" stroke="#000" stroke-width="0.7"/>
<line x1="516.1" y1="1050.8" x2="519.1" y2="1050.8" stroke="#000" stroke-width="0.7"/>
<line x1="516.1" y1="1066.1" x2="519.1" y2="1066.1" stroke="#000" stroke-width="0.7"/>
<line x1="516.1" y1="1081.3" x2="519.1" y2="1081.3" stroke="#000" stroke-width="0.7"/>
<line x1="516.1" y1="1096.6" x2="519.1" y2="1096.6" stroke="#000" stroke-width="0.7"/>
<line x1="516.1" y1="1111.9" x2="519.1" y2="1111.9" stroke="#000" stroke-width="0.7"/>
<line x1="516.1" y1="1127.2" x2="519.1" y2="1127.2" stroke="#000" stroke-width="0.7"/>
<line x1="516.1" y1="1142.4" x2="519.1" y2="1142.4" stroke="#000" stroke-width="0.7"/>
<line x1="516.1" y1="1157.7" x2="519.1" y2="1157.7" stroke="#000" stroke-width="0.7"/>
<line x1="516.1" y1="1173" x2="519.1" y2="1173" stroke="#000" stroke-width="0.7"/>
<line x1="516.1" y1="1188.3" x2="519.1" y2="1188.3" stroke="#000" stroke-width="0.7"/>
<line x1="516.1" y1="1203.5" x2="519.1" y2="1203.5" stroke="#000" stroke-width="0.7"/>
<line x1="516.1" y1="1218.8" x2="519.1" y2="1218.8" stroke="#000" stroke-width="0.7"/>
<line x1="516.1" y1="1234.1" x2="519.1" y2="1234.1" stroke="#000" stroke-width="0.7"/>
<line x1="516.1" y1="1249.4" x2="519.1" y2="1249.4" stroke="#000" stroke-width="0.7"/>
<line x1="516.1" y1="1264.6" x2="519.1" y2="1264.6" stroke="#000" stroke-width="0.7"/>
<text x="509.5" y="983.9" font-size="5" fill="#000">Luminescence</text>
<text x="522.5" y="990.1" font-size="5" fill="#000">2000</text>
<text x="522.5" y="1067.7" font-size="5" fill="#000">1500</text>
<text x="522.5" y="1144" font-size="5" fill="#000">1000</text>
<text x="522.5" y="1220.3" font-size="5" fill="#000">500</text>
<text x="509.1" y="1293.4" font-size="5" fill="#000">Counts</text>
<rect x="508.9" y="1297.4" width="29.8" height="20.6" rx="1.2" fill="#fff" stroke="#111" stroke-width="0.8"/>
<text x="510.7" y="1303.5" font-size="5" fill="#000">Color Scale</text>
<text x="510.7" y="1309.5" font-size="5" fill="#000">Min = 100</text>
<text x="510.7" y="1315.5" font-size="5" fill="#000">Max = 2000</text>
<defs>
<clipPath id="msc"><rect x="573.8" y="978.1" width="348" height="348"/></clipPath>
<linearGradient id="msglass" x1="0" y1="0" x2="1" y2="0"><stop offset="0" stop-color="#6a6a6a"/><stop offset="0.3" stop-color="#a8a8a8"/><stop offset="0.5" stop-color="#d8d8d8"/><stop offset="0.7" stop-color="#a8a8a8"/><stop offset="1" stop-color="#6a6a6a"/></linearGradient>
<linearGradient id="msbg" x1="0.2" y1="0" x2="0.8" y2="1"><stop offset="0" stop-color="#595959"/><stop offset="0.55" stop-color="#525252"/><stop offset="1" stop-color="#3e3e3e"/></linearGradient>
<linearGradient id="msbody" x1="0" y1="0" x2="1" y2="0"><stop offset="0" stop-color="#989898"/><stop offset="0.2" stop-color="#bababa"/><stop offset="0.5" stop-color="#c8c8c8"/><stop offset="0.8" stop-color="#b8b8b8"/><stop offset="1" stop-color="#8e8e8e"/></linearGradient>
<linearGradient id="mspl" x1="0" y1="0" x2="0" y2="1"><stop offset="0" stop-color="#7c7c7c"/><stop offset="0.6" stop-color="#8a8a8a"/><stop offset="0.93" stop-color="#8e8e8e"/><stop offset="1" stop-color="#555"/></linearGradient>
<filter id="msn" x="0" y="0" width="100%" height="100%"><feTurbulence type="fractalNoise" baseFrequency="0.55" numOctaves="2" seed="3"/><feColorMatrix type="matrix" values="0 0 0 0 0.5  0 0 0 0 0.5  0 0 0 0 0.5  0 0 0 0 1"/><feComponentTransfer><feFuncR type="linear" slope="3" intercept="-1"/><feFuncG type="linear" slope="3" intercept="-1"/><feFuncB type="linear" slope="3" intercept="-1"/></feComponentTransfer></filter>
<filter id="msb" x="-10%" y="-10%" width="120%" height="120%"><feGaussianBlur stdDeviation="0.6"/></filter>
<filter id="msb2" x="-20%" y="-20%" width="140%" height="140%"><feGaussianBlur stdDeviation="2.2"/></filter>
</defs>
<g clip-path="url(#msc)">
<rect x="573.8" y="978.1" width="348" height="348" fill="url(#msbg)"/>
<rect x="573.8" y="978.1" width="34.3" height="6" fill="#3a3a3a"/>
<rect x="573.8" y="988.1" width="24.3" height="11" rx="3" fill="#262626"/>
<rect x="594.1" y="980.1" width="14" height="24" rx="2" fill="#2a2a2a"/>
<g filter="url(#msb2)">
<rect x="668.6" y="1048" width="10" height="110" fill="#2a2a2a" opacity="0.8"/>
<rect x="680.6" y="1048" width="10" height="104" fill="#707070" opacity="0.55"/>
<rect x="726.8" y="1048" width="12" height="108" fill="#2a2a2a" opacity="0.8"/>
<rect x="740.8" y="1048" width="10" height="102" fill="#707070" opacity="0.55"/>
<rect x="783.3" y="1048" width="16" height="108" fill="#2a2a2a" opacity="0.8"/>
<rect x="801.3" y="1048" width="10" height="102" fill="#707070" opacity="0.55"/>
<rect x="846.4" y="1048" width="14" height="106" fill="#2a2a2a" opacity="0.8"/>
<rect x="862.4" y="1048" width="10" height="100" fill="#707070" opacity="0.55"/>
<ellipse cx="647" cy="1160" rx="34" ry="9" fill="#3a3a3a" opacity="0.7"/>
<ellipse cx="704.1" cy="1160" rx="34" ry="9" fill="#3a3a3a" opacity="0.7"/>
<ellipse cx="764.4" cy="1158" rx="34" ry="9" fill="#3a3a3a" opacity="0.7"/>
<ellipse cx="827.5" cy="1160" rx="34" ry="9" fill="#3a3a3a" opacity="0.7"/>
</g>
<rect x="608.1" y="976.1" width="313.9" height="41.3" fill="url(#mspl)"/>
<rect x="608.1" y="1016.4" width="313.9" height="2.6" fill="#161616"/>
<rect x="607.3" y="978.1" width="1.6" height="39.3" fill="#222"/>
<rect x="622.4" y="1018" width="292.4" height="30" fill="#242424" opacity="0.85"/>
<rect x="624.2" y="1018" width="7.2" height="32" rx="1.5" fill="#1c1c1c"/>
<rect x="626.2" y="1019" width="2.6" height="29.5" rx="1.2" fill="#8c8c8c"/>
<rect x="665.4" y="1018" width="7.2" height="32" rx="1.5" fill="#1c1c1c"/>
<rect x="667.4" y="1019" width="2.6" height="29.5" rx="1.2" fill="#8c8c8c"/>
<rect x="634.4" y="1018" width="28" height="31" fill="url(#msglass)"/>
<path d="M645.8,1018 L650.6,1018 L651.8,1044 L647.4,1045 Z" fill="#fff" opacity="0.95"/>
<rect x="653.9" y="1029" width="2.6" height="12" rx="1.2" fill="#f2f2f2" opacity="0.85"/>
<rect x="639.4" y="1031" width="2" height="10" rx="1" fill="#ddd" opacity="0.6"/>
<rect x="683.9" y="1018" width="7.2" height="32" rx="1.5" fill="#1c1c1c"/>
<rect x="685.9" y="1019" width="2.6" height="29.5" rx="1.2" fill="#8c8c8c"/>
<rect x="725.1" y="1018" width="7.2" height="32" rx="1.5" fill="#1c1c1c"/>
<rect x="727.1" y="1019" width="2.6" height="29.5" rx="1.2" fill="#8c8c8c"/>
<rect x="694.1" y="1018" width="28" height="31" fill="url(#msglass)"/>
<path d="M705.5,1018 L710.3,1018 L711.5,1044 L707.1,1045 Z" fill="#fff" opacity="0.95"/>
<rect x="713.6" y="1029" width="2.6" height="12" rx="1.2" fill="#f2f2f2" opacity="0.85"/>
<rect x="699.1" y="1031" width="2" height="10" rx="1" fill="#ddd" opacity="0.6"/>
<rect x="743.5" y="1018" width="7.2" height="32" rx="1.5" fill="#1c1c1c"/>
<rect x="745.5" y="1019" width="2.6" height="29.5" rx="1.2" fill="#8c8c8c"/>
<rect x="784.7" y="1018" width="7.2" height="32" rx="1.5" fill="#1c1c1c"/>
<rect x="786.7" y="1019" width="2.6" height="29.5" rx="1.2" fill="#8c8c8c"/>
<rect x="753.7" y="1018" width="28" height="31" fill="url(#msglass)"/>
<path d="M765.1,1018 L769.9,1018 L771.1,1044 L766.7,1045 Z" fill="#fff" opacity="0.95"/>
<rect x="773.2" y="1029" width="2.6" height="12" rx="1.2" fill="#f2f2f2" opacity="0.85"/>
<rect x="758.7" y="1031" width="2" height="10" rx="1" fill="#ddd" opacity="0.6"/>
<rect x="804.1" y="1018" width="7.2" height="32" rx="1.5" fill="#1c1c1c"/>
<rect x="806.1" y="1019" width="2.6" height="29.5" rx="1.2" fill="#8c8c8c"/>
<rect x="845.3" y="1018" width="7.2" height="32" rx="1.5" fill="#1c1c1c"/>
<rect x="847.3" y="1019" width="2.6" height="29.5" rx="1.2" fill="#8c8c8c"/>
<rect x="814.3" y="1018" width="28" height="31" fill="url(#msglass)"/>
<path d="M825.7,1018 L830.5,1018 L831.7,1044 L827.3,1045 Z" fill="#fff" opacity="0.95"/>
<rect x="833.8" y="1029" width="2.6" height="12" rx="1.2" fill="#f2f2f2" opacity="0.85"/>
<rect x="819.3" y="1031" width="2" height="10" rx="1" fill="#ddd" opacity="0.6"/>
<rect x="864.6" y="1018" width="7.2" height="32" rx="1.5" fill="#1c1c1c"/>
<rect x="866.6" y="1019" width="2.6" height="29.5" rx="1.2" fill="#8c8c8c"/>
<rect x="905.8" y="1018" width="7.2" height="32" rx="1.5" fill="#1c1c1c"/>
<rect x="907.8" y="1019" width="2.6" height="29.5" rx="1.2" fill="#8c8c8c"/>
<rect x="874.8" y="1018" width="28" height="31" fill="url(#msglass)"/>
<path d="M886.2,1018 L891,1018 L892.2,1044 L887.8,1045 Z" fill="#fff" opacity="0.95"/>
<rect x="894.3" y="1029" width="2.6" height="12" rx="1.2" fill="#f2f2f2" opacity="0.85"/>
<rect x="879.8" y="1031" width="2" height="10" rx="1" fill="#ddd" opacity="0.6"/>
<g filter="url(#msb)">
<path d="M634,1141 Q627.5,1150 616.3,1157" fill="none" stroke="#c9c9c9" stroke-width="4.2" stroke-linecap="round"/>
<path d="M668,1141 Q674.5,1150 685.7,1157" fill="none" stroke="#c9c9c9" stroke-width="4.2" stroke-linecap="round"/>
<path d="M649.8,1153 L649.8,1162.1 L649.9,1171.4 L649.9,1181 L649.9,1190.6 L649.8,1200.4 L649.8,1210.3 L649.8,1220.2 L649.8,1230.2 L649.7,1240.2 L649.7,1250.1 L649.7,1260 L649.7,1269.8 L649.7,1279.5 L649.7,1289 L651.1,1289 L651.2,1279.5 L651.4,1269.8 L651.5,1260 L651.7,1250.2 L651.9,1240.2 L652.1,1230.2 L652.3,1220.3 L652.5,1210.3 L652.7,1200.4 L652.8,1190.6 L653,1181 L653.2,1171.5 L653.3,1162.1 L653.4,1153 Z" fill="#dedede"/>
<path d="M644.3,1040C641.4,1041 641.4,1044 640.2,1046C639,1048 638.1,1049.8 637.1,1052C636.1,1054.2 634.8,1057 634,1059C633.2,1061 632.6,1062.2 632.5,1064C632.3,1065.8 632.8,1068 633,1070C633.1,1072 633.6,1072.8 633.5,1076C633.4,1079.2 633.1,1083.8 632.5,1089C631.8,1094.2 630.4,1101 629.4,1107C628.3,1113 627,1120.2 626.3,1125C625.6,1129.8 625.2,1132.7 625.2,1136C625.3,1139.3 625.4,1142.7 626.8,1145C628.2,1147.3 630.8,1148.6 633.5,1150C636.2,1151.4 640.2,1152.7 642.8,1153.5C645.3,1154.3 647.2,1154.8 648.9,1155C650.7,1155.2 651.3,1155.2 653.1,1155C654.8,1154.8 656.7,1154.3 659.2,1153.5C661.8,1152.7 665.8,1151.4 668.5,1150C671.2,1148.6 673.8,1147.3 675.2,1145C676.6,1142.7 676.7,1139.3 676.8,1136C676.8,1132.7 676.4,1129.8 675.7,1125C675,1120.2 673.7,1113 672.6,1107C671.6,1101 670.2,1094.2 669.5,1089C668.9,1083.8 668.6,1079.2 668.5,1076C668.4,1072.8 668.9,1072 669,1070C669.2,1068 669.7,1065.8 669.5,1064C669.4,1062.2 668.8,1061 668,1059C667.2,1057 665.9,1054.2 664.9,1052C663.9,1049.8 663,1048 661.8,1046C660.6,1044 660.6,1041 657.7,1040C654.8,1039 647.2,1039 644.3,1040Z" fill="url(#msbody)"/>
<g filter="url(#msb2)">
<ellipse cx="651" cy="1087" rx="5" ry="4" fill="#e2e2e2" opacity="0.8"/>
<ellipse cx="651" cy="1122" rx="12" ry="20" fill="#d6d6d6" opacity="0.5"/>
<ellipse cx="651" cy="1048" rx="6" ry="8" fill="#e4e4e4" opacity="0.8"/>
<ellipse cx="651" cy="1148" rx="12" ry="5" fill="#a8a8a8" opacity="0.6"/>
</g>
<ellipse cx="636.1" cy="1065" rx="4" ry="5" fill="#c2c2c2" stroke="#a0a0a0" stroke-width="0.8" opacity="0.8"/>
<ellipse cx="665.9" cy="1065" rx="4" ry="5" fill="#c2c2c2" stroke="#a0a0a0" stroke-width="0.8" opacity="0.8"/>
<path d="M691.1,1141 Q690.2,1150 681.8,1157" fill="none" stroke="#c9c9c9" stroke-width="4.2" stroke-linecap="round"/>
<path d="M725.1,1141 Q726,1150 734.5,1157" fill="none" stroke="#c9c9c9" stroke-width="4.2" stroke-linecap="round"/>
<path d="M705.2,1151 L704.9,1159.2 L704.4,1167.5 L703.6,1175.6 L702.6,1183.7 L701.3,1191.7 L699.7,1199.6 L698,1207.3 L696,1214.8 L693.8,1222.1 L691.4,1229.2 L688.8,1236.1 L686,1242.7 L683,1249.1 L679.9,1255.2 L681.1,1255.8 L684.4,1249.8 L687.6,1243.5 L690.5,1236.8 L693.3,1229.9 L695.9,1222.8 L698.2,1215.4 L700.4,1207.9 L702.3,1200.1 L704,1192.2 L705.5,1184.2 L706.7,1176 L707.7,1167.8 L708.4,1159.4 L708.8,1151 Z" fill="#dedede"/>
<path d="M701.6,1040C698.8,1041 698.8,1044 697.6,1046C696.4,1048 695.6,1049.8 694.6,1052C693.6,1054.2 692.4,1057 691.6,1059C690.9,1061 690.3,1062.2 690.1,1064C689.9,1065.8 690.4,1068 690.6,1070C690.8,1072 691.2,1072.8 691.1,1076C691,1079.2 690.8,1083.8 690.1,1089C689.4,1094.2 688.1,1101 687.1,1107C686.1,1113 684.8,1120.2 684.1,1125C683.4,1129.8 683,1132.7 683.1,1136C683.2,1139.3 683.3,1142.7 684.6,1145C685.9,1147.3 688.5,1148.6 691.1,1150C693.7,1151.4 697.6,1152.7 700.1,1153.5C702.6,1154.3 704.4,1154.8 706.1,1155C707.8,1155.2 708.4,1155.2 710.1,1155C711.8,1154.8 713.6,1154.3 716.1,1153.5C718.6,1152.7 722.5,1151.4 725.1,1150C727.7,1148.6 730.3,1147.3 731.6,1145C732.9,1142.7 733,1139.3 733.1,1136C733.2,1132.7 732.8,1129.8 732.1,1125C731.4,1120.2 730.1,1113 729.1,1107C728.1,1101 726.8,1094.2 726.1,1089C725.4,1083.8 725.2,1079.2 725.1,1076C725,1072.8 725.4,1072 725.6,1070C725.8,1068 726.3,1065.8 726.1,1064C725.9,1062.2 725.4,1061 724.6,1059C723.9,1057 722.6,1054.2 721.6,1052C720.6,1049.8 719.8,1048 718.6,1046C717.4,1044 717.4,1041 714.6,1040C711.8,1039 704.4,1039 701.6,1040Z" fill="url(#msbody)"/>
<g filter="url(#msb2)">
<ellipse cx="708.1" cy="1087" rx="5" ry="4" fill="#e2e2e2" opacity="0.8"/>
<ellipse cx="708.1" cy="1122" rx="12" ry="20" fill="#d6d6d6" opacity="0.5"/>
<ellipse cx="708.1" cy="1048" rx="6" ry="8" fill="#e4e4e4" opacity="0.8"/>
<ellipse cx="708.1" cy="1148" rx="12" ry="5" fill="#a8a8a8" opacity="0.6"/>
</g>
<ellipse cx="693.6" cy="1065" rx="4" ry="5" fill="#c2c2c2" stroke="#a0a0a0" stroke-width="0.8" opacity="0.8"/>
<ellipse cx="722.6" cy="1065" rx="4" ry="5" fill="#c2c2c2" stroke="#a0a0a0" stroke-width="0.8" opacity="0.8"/>
<path d="M751.4,1139 Q749.5,1148 740.5,1155" fill="none" stroke="#c9c9c9" stroke-width="4.2" stroke-linecap="round"/>
<path d="M785.4,1139 Q787.3,1148 796.3,1155" fill="none" stroke="#c9c9c9" stroke-width="4.2" stroke-linecap="round"/>
<path d="M765.4,1148.1 L766.1,1157.2 L766.9,1166.3 L767.7,1175.4 L768.6,1184.5 L769.5,1193.5 L770.5,1202.5 L771.5,1211.3 L772.5,1219.9 L773.6,1228.3 L774.7,1236.5 L775.8,1244.4 L776.9,1252 L778,1259.3 L779.1,1266.1 L780.5,1265.9 L779.5,1259 L778.6,1251.8 L777.6,1244.2 L776.7,1236.3 L775.8,1228.1 L774.9,1219.6 L774,1211 L773.1,1202.2 L772.3,1193.2 L771.6,1184.2 L770.8,1175.1 L770.2,1166 L769.5,1156.9 L769,1147.9 Z" fill="#dedede"/>
<path d="M761.9,1038C759.1,1039 759.1,1042 757.9,1044C756.7,1046 755.9,1047.8 754.9,1050C753.9,1052.2 752.6,1055 751.9,1057C751.1,1059 750.6,1060.2 750.4,1062C750.2,1063.8 750.7,1066 750.9,1068C751.1,1070 751.5,1070.8 751.4,1074C751.3,1077.2 751.1,1081.8 750.4,1087C749.7,1092.2 748.4,1099 747.4,1105C746.4,1111 745.1,1118.2 744.4,1123C743.7,1127.8 743.3,1130.7 743.4,1134C743.5,1137.3 743.6,1140.7 744.9,1143C746.2,1145.3 748.8,1146.6 751.4,1148C754,1149.4 757.9,1150.7 760.4,1151.5C762.9,1152.3 764.7,1152.8 766.4,1153C768.1,1153.2 768.7,1153.2 770.4,1153C772.1,1152.8 773.9,1152.3 776.4,1151.5C778.9,1150.7 782.8,1149.4 785.4,1148C788,1146.6 790.6,1145.3 791.9,1143C793.2,1140.7 793.3,1137.3 793.4,1134C793.5,1130.7 793.1,1127.8 792.4,1123C791.7,1118.2 790.4,1111 789.4,1105C788.4,1099 787.1,1092.2 786.4,1087C785.7,1081.8 785.5,1077.2 785.4,1074C785.3,1070.8 785.7,1070 785.9,1068C786.1,1066 786.6,1063.8 786.4,1062C786.2,1060.2 785.6,1059 784.9,1057C784.1,1055 782.9,1052.2 781.9,1050C780.9,1047.8 780.1,1046 778.9,1044C777.7,1042 777.7,1039 774.9,1038C772.1,1037 764.7,1037 761.9,1038Z" fill="url(#msbody)"/>
<g filter="url(#msb2)">
<ellipse cx="768.4" cy="1085" rx="5" ry="4" fill="#e2e2e2" opacity="0.8"/>
<ellipse cx="768.4" cy="1120" rx="12" ry="20" fill="#d6d6d6" opacity="0.5"/>
<ellipse cx="768.4" cy="1046" rx="6" ry="8" fill="#e4e4e4" opacity="0.8"/>
<ellipse cx="768.4" cy="1146" rx="12" ry="5" fill="#a8a8a8" opacity="0.6"/>
</g>
<ellipse cx="753.9" cy="1063" rx="4" ry="5" fill="#c2c2c2" stroke="#a0a0a0" stroke-width="0.8" opacity="0.8"/>
<ellipse cx="782.9" cy="1063" rx="4" ry="5" fill="#c2c2c2" stroke="#a0a0a0" stroke-width="0.8" opacity="0.8"/>
<path d="M819.5,1141 Q817.6,1150 808.6,1157" fill="none" stroke="#c9c9c9" stroke-width="4.2" stroke-linecap="round"/>
<path d="M853.5,1141 Q855.4,1150 864.4,1157" fill="none" stroke="#c9c9c9" stroke-width="4.2" stroke-linecap="round"/>
<path d="M833.2,1150.1 L834,1158.7 L834.9,1167 L836,1175.2 L837.2,1183.2 L838.5,1191.1 L839.9,1198.8 L841.4,1206.2 L843,1213.5 L844.6,1220.7 L846.3,1227.6 L848,1234.3 L849.8,1240.8 L851.5,1247.1 L853.3,1253.2 L854.7,1252.8 L853,1246.7 L851.4,1240.4 L849.8,1233.8 L848.2,1227.1 L846.7,1220.2 L845.3,1213.1 L843.9,1205.8 L842.5,1198.3 L841.3,1190.6 L840.1,1182.8 L839.1,1174.8 L838.2,1166.6 L837.4,1158.3 L836.8,1149.9 Z" fill="#dedede"/>
<path d="M825.5,1040C823,1041 823.1,1044 822.1,1046C821.1,1048 820.4,1049.8 819.6,1052C818.8,1054.2 817.8,1057 817.2,1059C816.6,1061 816.1,1062.2 816,1064C815.9,1065.8 816.5,1068 816.7,1070C817,1072 817.4,1072.8 817.5,1076C817.5,1079.2 817.5,1083.8 817.1,1089C816.7,1094.2 815.8,1101 815.1,1107C814.5,1113 813.6,1120.2 813.2,1125C812.8,1129.8 812.5,1132.7 812.7,1136C813,1139.3 813.2,1142.7 814.5,1145C815.9,1147.3 818.3,1148.6 820.7,1150C823.2,1151.4 826.8,1152.7 829.2,1153.5C831.5,1154.3 833.2,1154.8 834.7,1155C836.3,1155.2 836.9,1155.2 838.4,1155C840,1154.8 841.6,1154.3 843.9,1153.5C846.1,1152.7 849.7,1151.4 852,1150C854.3,1148.6 856.6,1147.3 857.8,1145C858.9,1142.7 858.8,1139.3 858.7,1136C858.7,1132.7 858.2,1129.8 857.3,1125C856.5,1120.2 855,1113 853.8,1107C852.6,1101 851.1,1094.2 850.2,1089C849.4,1083.8 848.9,1079.2 848.7,1076C848.5,1072.8 848.9,1072 848.9,1070C849,1068 849.4,1065.8 849.1,1064C848.9,1062.2 848.3,1061 847.5,1059C846.7,1057 845.5,1054.2 844.5,1052C843.4,1049.8 842.6,1048 841.4,1046C840.3,1044 840.1,1041 837.5,1040C834.8,1039 828.1,1039 825.5,1040Z" fill="url(#msbody)"/>
<g filter="url(#msb2)">
<ellipse cx="834" cy="1087" rx="5" ry="4" fill="#e2e2e2" opacity="0.8"/>
<ellipse cx="835.5" cy="1122" rx="12" ry="20" fill="#d6d6d6" opacity="0.5"/>
<ellipse cx="831.5" cy="1048" rx="6" ry="8" fill="#e4e4e4" opacity="0.8"/>
<ellipse cx="836.5" cy="1148" rx="12" ry="5" fill="#a8a8a8" opacity="0.6"/>
</g>
<ellipse cx="818.2" cy="1065" rx="4" ry="5" fill="#c2c2c2" stroke="#a0a0a0" stroke-width="0.8" opacity="0.8"/>
<ellipse cx="844.8" cy="1065" rx="4" ry="5" fill="#c2c2c2" stroke="#a0a0a0" stroke-width="0.8" opacity="0.8"/>
</g>
<path d="M677.5,1009 L679.6,1007 L680.8,1162 L678.2,1162 Z" fill="#303030"/>
<line x1="679.9" y1="1009" x2="681" y2="1160" stroke="#858585" stroke-width="0.7"/>
<path d="M737.7,1008 L739.8,1006 L741,1160 L738.4,1160 Z" fill="#303030"/>
<line x1="740.1" y1="1008" x2="741.2" y2="1158" stroke="#858585" stroke-width="0.7"/>
<path d="M798.2,1007 L800.3,1005 L801.5,1160 L798.9,1160 Z" fill="#303030"/>
<line x1="800.6" y1="1007" x2="801.7" y2="1158" stroke="#858585" stroke-width="0.7"/>
<path d="M859.3,1006 L861.4,1004 L862.6,1158 L860,1158 Z" fill="#303030"/>
<line x1="861.7" y1="1006" x2="862.8" y2="1156" stroke="#858585" stroke-width="0.7"/>
<g filter="url(#msb)">
<ellipse cx="699.8" cy="1080.6" rx="4.6" ry="8.6" fill="#6a28ff" transform="rotate(8 699.8 1080.6)"/>
<ellipse cx="715.8" cy="1079.6" rx="5.4" ry="7" fill="#6a28ff" transform="rotate(-15 715.8 1079.6)"/>
<ellipse cx="707" cy="1088.4" rx="6" ry="4.4" fill="#6a28ff" transform="rotate(0 707 1088.4)"/>
<ellipse cx="700" cy="1080.4" rx="3.2" ry="6.6" fill="#2222ff" transform="rotate(8 700 1080.4)"/>
<ellipse cx="716" cy="1079.6" rx="4" ry="5.2" fill="#2222ff" transform="rotate(-15 716 1079.6)"/>
<ellipse cx="706.8" cy="1088.6" rx="4.2" ry="3" fill="#2222ff" transform="rotate(0 706.8 1088.6)"/>
<ellipse cx="769.5" cy="1067.5" rx="7" ry="3.4" fill="#7020ff" transform="rotate(0 769.5 1067.5)"/>
<ellipse cx="783" cy="1064.5" rx="4" ry="3" fill="#7020ff" transform="rotate(20 783 1064.5)"/>
<ellipse cx="752.5" cy="1070" rx="3" ry="4" fill="#7020ff" transform="rotate(0 752.5 1070)"/>
<ellipse cx="787" cy="1075" rx="3" ry="6" fill="#7020ff" transform="rotate(0 787 1075)"/>
<ellipse cx="760" cy="1075.6" rx="9.4" ry="13" fill="#7020ff" transform="rotate(-3 760 1075.6)"/><ellipse cx="760" cy="1075.6" rx="8.3" ry="11.7" fill="#2030ff" transform="rotate(-3 760 1075.6)"/><ellipse cx="760" cy="1075.6" rx="7.1" ry="10.7" fill="#00b0ff" transform="rotate(-3 760 1075.6)"/><ellipse cx="760" cy="1075.6" rx="6.2" ry="9.8" fill="#00e060" transform="rotate(-3 760 1075.6)"/><ellipse cx="760" cy="1075.6" rx="5.3" ry="8.8" fill="#f0f000" transform="rotate(-3 760 1075.6)"/><ellipse cx="760" cy="1075.6" rx="4.1" ry="7.8" fill="#ff1a00" transform="rotate(-3 760 1075.6)"/>
<ellipse cx="779" cy="1077.2" rx="10" ry="14" fill="#7020ff" transform="rotate(-27 779 1077.2)"/><ellipse cx="779" cy="1077.2" rx="8.8" ry="12.6" fill="#2030ff" transform="rotate(-27 779 1077.2)"/><ellipse cx="779" cy="1077.2" rx="7.6" ry="11.5" fill="#00b0ff" transform="rotate(-27 779 1077.2)"/><ellipse cx="779" cy="1077.2" rx="6.6" ry="10.5" fill="#00e060" transform="rotate(-27 779 1077.2)"/><ellipse cx="779" cy="1077.2" rx="5.6" ry="9.5" fill="#f0f000" transform="rotate(-27 779 1077.2)"/><ellipse cx="779" cy="1077.2" rx="4.4" ry="8.4" fill="#ff1a00" transform="rotate(-27 779 1077.2)"/>
<ellipse cx="831.3" cy="1074.3" rx="2.7" ry="3" fill="#6a20f0" transform="rotate(0 831.3 1074.3)"/>
</g>
<rect x="573.8" y="978.1" width="348" height="348" filter="url(#msn)" opacity="0.1"/>
</g>
<defs><linearGradient id="mscb" x1="0" y1="0" x2="0" y2="1"><stop offset="0" stop-color="#ff0000"/><stop offset="0.04" stop-color="#ff1000"/><stop offset="0.11" stop-color="#ff7000"/><stop offset="0.175" stop-color="#ffc800"/><stop offset="0.24" stop-color="#fff800"/><stop offset="0.34" stop-color="#a0ec00"/><stop offset="0.45" stop-color="#20dc10"/><stop offset="0.57" stop-color="#00e070"/><stop offset="0.68" stop-color="#00f4f0"/><stop offset="0.77" stop-color="#00a0ff"/><stop offset="0.84" stop-color="#0030ff"/><stop offset="0.895" stop-color="#0000ff"/><stop offset="0.945" stop-color="#4000ff"/><stop offset="1" stop-color="#8a10f8"/></linearGradient></defs>
<rect x="1003.2" y="992.6" width="7" height="290.2" fill="url(#mscb)"/>
<line x1="1003.6" y1="992.6" x2="1003.6" y2="1282.8" stroke="#000" stroke-opacity="0.75" stroke-width="0.8"/>
<line x1="1010.5" y1="992.6" x2="1010.5" y2="1282.8" stroke="#bfe8ff" stroke-width="0.7"/>
<line x1="1003.2" y1="992.3" x2="1015.2" y2="992.3" stroke="#666" stroke-width="0.7"/>
<line x1="1010.2" y1="1007.9" x2="1013.2" y2="1007.9" stroke="#000" stroke-width="0.7"/>
<line x1="1010.2" y1="1023.1" x2="1013.2" y2="1023.1" stroke="#000" stroke-width="0.7"/>
<line x1="1010.2" y1="1038.4" x2="1013.2" y2="1038.4" stroke="#000" stroke-width="0.7"/>
<line x1="1010.2" y1="1053.7" x2="1013.2" y2="1053.7" stroke="#000" stroke-width="0.7"/>
<line x1="1010.2" y1="1069" x2="1013.2" y2="1069" stroke="#000" stroke-width="0.7"/>
<line x1="1010.2" y1="1084.2" x2="1013.2" y2="1084.2" stroke="#000" stroke-width="0.7"/>
<line x1="1010.2" y1="1099.5" x2="1013.2" y2="1099.5" stroke="#000" stroke-width="0.7"/>
<line x1="1010.2" y1="1114.8" x2="1013.2" y2="1114.8" stroke="#000" stroke-width="0.7"/>
<line x1="1010.2" y1="1130.1" x2="1013.2" y2="1130.1" stroke="#000" stroke-width="0.7"/>
<line x1="1010.2" y1="1145.3" x2="1013.2" y2="1145.3" stroke="#000" stroke-width="0.7"/>
<line x1="1010.2" y1="1160.6" x2="1013.2" y2="1160.6" stroke="#000" stroke-width="0.7"/>
<line x1="1010.2" y1="1175.9" x2="1013.2" y2="1175.9" stroke="#000" stroke-width="0.7"/>
<line x1="1010.2" y1="1191.2" x2="1013.2" y2="1191.2" stroke="#000" stroke-width="0.7"/>
<line x1="1010.2" y1="1206.4" x2="1013.2" y2="1206.4" stroke="#000" stroke-width="0.7"/>
<line x1="1010.2" y1="1221.7" x2="1013.2" y2="1221.7" stroke="#000" stroke-width="0.7"/>
<line x1="1010.2" y1="1237" x2="1013.2" y2="1237" stroke="#000" stroke-width="0.7"/>
<line x1="1010.2" y1="1252.3" x2="1013.2" y2="1252.3" stroke="#000" stroke-width="0.7"/>
<line x1="1010.2" y1="1267.5" x2="1013.2" y2="1267.5" stroke="#000" stroke-width="0.7"/>
<text x="1003.6" y="986.8" font-size="5" fill="#000">Luminescence</text>
<text x="1016.6" y="993" font-size="5" fill="#000">2000</text>
<text x="1016.6" y="1070.6" font-size="5" fill="#000">1500</text>
<text x="1016.6" y="1146.9" font-size="5" fill="#000">1000</text>
<text x="1016.6" y="1223.2" font-size="5" fill="#000">500</text>
<text x="1003.2" y="1296.3" font-size="5" fill="#000">Counts</text>
<rect x="1003" y="1300.3" width="29.8" height="20.6" rx="1.2" fill="#fff" stroke="#111" stroke-width="0.8"/>
<text x="1004.8" y="1306.4" font-size="5" fill="#000">Color Scale</text>
<text x="1004.8" y="1312.4" font-size="5" fill="#000">Min = 100</text>
<text x="1004.8" y="1318.4" font-size="5" fill="#000">Max = 2000</text>

<defs>
<filter id="tis" x="0" y="0" width="100%" height="100%" color-interpolation-filters="sRGB"><feTurbulence type="fractalNoise" baseFrequency="0.3" numOctaves="2" seed="8"/><feColorMatrix type="matrix" values="-0.1 -0.26 0 0 1.04  -0.8 -0.04 0 0 1.195  -0.42 0.06 0 0 1.0  0 0 0 0 1"/><feGaussianBlur stdDeviation="0.5"/></filter>
<filter id="tis2" x="0" y="0" width="100%" height="100%" color-interpolation-filters="sRGB"><feTurbulence type="fractalNoise" baseFrequency="0.2" numOctaves="2" seed="21"/><feColorMatrix type="matrix" values="-0.1 -0.28 0 0 1.075  -0.95 -0.04 0 0 1.26  -0.55 0.08 0 0 1.03  0 0 0 0 1"/><feGaussianBlur stdDeviation="0.6"/></filter>
<filter id="mot" x="0" y="0" width="100%" height="100%" color-interpolation-filters="sRGB"><feTurbulence type="fractalNoise" baseFrequency="0.035" numOctaves="3" seed="2"/><feColorMatrix type="matrix" values="0 0 0 0 0.82  0 0 0 0 0.42  0 0 0 0 0.60  2.6 0 0 0 -1.18"/></filter>
<filter id="motb" x="0" y="0" width="100%" height="100%" color-interpolation-filters="sRGB"><feTurbulence type="fractalNoise" baseFrequency="0.05" numOctaves="2" seed="9"/><feColorMatrix type="matrix" values="0 0 0 0 0.66  0 0 0 0 0.76  0 0 0 0 0.84  0 2.8 0 0 -1.3"/></filter>
<filter id="pur" x="-5%" y="-5%" width="110%" height="110%" color-interpolation-filters="sRGB"><feTurbulence type="fractalNoise" baseFrequency="0.22" numOctaves="2" seed="5" result="n"/><feColorMatrix in="n" type="matrix" values="0.9 0 0 0 0.2  0.85 0 0 0 0.07  0.42 0 0 0 0.5  0 0 0 0 0.92" result="c"/><feGaussianBlur in="SourceAlpha" stdDeviation="2.6" result="a"/><feComposite in="c" in2="a" operator="in"/></filter>
<filter id="hb1" x="-10%" y="-10%" width="120%" height="120%"><feGaussianBlur stdDeviation="0.9"/></filter>
<filter id="hb2" x="-10%" y="-10%" width="120%" height="120%"><feGaussianBlur stdDeviation="1.8"/></filter>
<filter id="hb3" x="-20%" y="-20%" width="140%" height="140%"><feGaussianBlur stdDeviation="4"/></filter>
</defs>
<defs><clipPath id="cE"><rect x="46.5" y="1479" width="388.7" height="308.4"/></clipPath></defs>
<g clip-path="url(#cE)">
<rect x="46.5" y="1479" width="388.7" height="308.4" filter="url(#tis)"/>
<rect x="46.5" y="1479" width="388.7" height="308.4" filter="url(#mot)" opacity="0.55"/>
<rect x="46.5" y="1479" width="388.7" height="308.4" filter="url(#motb)" opacity="0.5"/>
<g filter="url(#hb1)" fill="none" stroke-linecap="round">
<path d="M170,1766C170.5,1763.3 172,1754.7 173,1750C174,1745.3 175.5,1740 176,1738" stroke="#cf4f86" stroke-width="11" opacity="0.7"/>
<path d="M163,1790C163.7,1787.7 165.8,1780 167,1776C168.2,1772 169.5,1767.7 170,1766" stroke="#cf4f86" stroke-width="8" opacity="0.6"/>
<path d="M160,1612C161.3,1612.3 165.3,1614.2 168,1614C170.7,1613.8 174.7,1611.5 176,1611" stroke="#cf4f86" stroke-width="9" opacity="0.55"/>
<path d="M228,1722C228.8,1723 231.7,1725.7 233,1728C234.3,1730.3 235.5,1734.7 236,1736" stroke="#cf4f86" stroke-width="8" opacity="0.55"/>
<path d="M250,1770C252,1769 258,1764.3 262,1764C266,1763.7 272,1767.3 274,1768" stroke="#cf4f86" stroke-width="9" opacity="0.4"/>
<path d="M150,1690C152.5,1690.5 160.3,1693.3 165,1693C169.7,1692.7 173.8,1687.7 178,1688C182.2,1688.3 188,1693.8 190,1695" stroke="#cf4f86" stroke-width="7" opacity="0.45"/>
<path d="M225,1740C226.2,1738.7 231.5,1735 232,1732C232.5,1729 228.7,1723.7 228,1722" stroke="#cf4f86" stroke-width="7" opacity="0.5"/>
<path d="M50,1590C51.3,1591.7 56.3,1595.8 58,1600C59.7,1604.2 59.7,1612.5 60,1615" stroke="#cf4f86" stroke-width="7" opacity="0.45"/>
<path d="M128,1590C129.3,1591.7 134,1596.3 136,1600C138,1603.7 140,1608.3 140,1612C140,1615.7 136.7,1620.3 136,1622" stroke="#cf4f86" stroke-width="4" opacity="0.6"/>
<path d="M270,1752C272.5,1751.3 280,1747.5 285,1748C290,1748.5 297.5,1753.8 300,1755" stroke="#cf4f86" stroke-width="7" opacity="0.35"/>
<path d="M228,1505C229,1506.2 232.7,1509.2 234,1512C235.3,1514.8 235.7,1520.3 236,1522" stroke="#cf4f86" stroke-width="4" opacity="0.6"/>
<path d="M100,1528C101.3,1529.5 106.7,1535.5 108,1537" stroke="#cf4f86" stroke-width="4" opacity="0.55"/>
<path d="M160,1538C162.5,1537 172.5,1533 175,1532" stroke="#cf4f86" stroke-width="4" opacity="0.5"/>
<path d="M196,1520C198.7,1520.7 209.3,1523.3 212,1524" stroke="#cf4f86" stroke-width="3.5" opacity="0.5"/>
<path d="M280,1650C281.7,1648.3 286.7,1643 290,1640C293.3,1637 298.3,1633.3 300,1632" stroke="#cf4f86" stroke-width="3" opacity="0.5"/>
<path d="M60,1640C61.7,1641.7 67,1645.8 70,1650C73,1654.2 76.7,1662.5 78,1665" stroke="#cf4f86" stroke-width="3" opacity="0.5"/>
</g>
<g filter="url(#hb1)">
<path d="M69,1575C70.5,1577.5 74.2,1585.2 78,1590C81.8,1594.8 87,1599.3 92,1604C97,1608.7 103.2,1613.7 108,1618C112.8,1622.3 118.8,1628 121,1630" fill="none" stroke="#c06a98" stroke-opacity="0.7" stroke-width="12.2" stroke-linecap="round" stroke-linejoin="round"/>
<path d="M121,1630C121.8,1632.5 125,1639.7 126,1645C127,1650.3 126.8,1656.2 127,1662C127.2,1667.8 126.8,1674.7 127,1680C127.2,1685.3 127.8,1691.7 128,1694" fill="none" stroke="#c06a98" stroke-opacity="0.7" stroke-width="19.2" stroke-linecap="round" stroke-linejoin="round"/>
<path d="M133,1618C132.7,1619.7 131.8,1624.3 131,1628C130.2,1631.7 128.5,1638 128,1640" fill="none" stroke="#c06a98" stroke-opacity="0.7" stroke-width="12.2" stroke-linecap="round" stroke-linejoin="round"/>
<path d="M128,1694C126.7,1696 123.3,1702 120,1706C116.7,1710 111.8,1714.3 108,1718C104.2,1721.7 98.8,1726.3 97,1728" fill="none" stroke="#c06a98" stroke-opacity="0.7" stroke-width="17.2" stroke-linecap="round" stroke-linejoin="round"/>
<path d="M136,1699C134.7,1698.2 129.3,1694.8 128,1694" fill="none" stroke="#c06a98" stroke-opacity="0.7" stroke-width="13.2" stroke-linecap="round" stroke-linejoin="round"/>
<path d="M104,1690C106,1690.3 112.3,1692 116,1692C119.7,1692 124.3,1690.3 126,1690" fill="none" stroke="#c06a98" stroke-opacity="0.7" stroke-width="10.2" stroke-linecap="round" stroke-linejoin="round"/>
<path d="M181.3,1634C181.3,1637.5 181.6,1648.5 181.5,1655C181.4,1661.5 181.1,1670 181,1673" fill="none" stroke="#c06a98" stroke-opacity="0.7" stroke-width="12.5" stroke-linecap="round" stroke-linejoin="round"/>
<path d="M181,1673C181.2,1676.7 181.8,1688.5 182,1695C182.2,1701.5 182,1709.2 182,1712" fill="none" stroke="#c06a98" stroke-opacity="0.7" stroke-width="6.2" stroke-linecap="round" stroke-linejoin="round"/>
<path d="M262,1724C259.3,1726.7 251.7,1735 246,1740C240.3,1745 234.3,1749.5 228,1754C221.7,1758.5 215,1763 208,1767C201,1771 192,1774.8 186,1778C180,1781.2 174.3,1784.7 172,1786" fill="none" stroke="#c06a98" stroke-opacity="0.7" stroke-width="12.0" stroke-linecap="round" stroke-linejoin="round"/>
<path d="M192,1621C195.8,1618.8 206.2,1612.2 215,1608C223.8,1603.8 235.8,1599.8 245,1596C254.2,1592.2 262.5,1588.3 270,1585C277.5,1581.7 286.7,1577.5 290,1576" fill="none" stroke="#c06a98" stroke-opacity="0.7" stroke-width="5.7" stroke-linecap="round" stroke-linejoin="round"/>
<path d="M186,1528C188.7,1528.7 196.2,1530.2 202,1532C207.8,1533.8 217.8,1537.8 221,1539" fill="none" stroke="#c06a98" stroke-opacity="0.7" stroke-width="6.6" stroke-linecap="round" stroke-linejoin="round"/>
<path d="M300,1612C302.7,1612.3 311,1612.7 316,1614C321,1615.3 327.7,1619 330,1620" fill="none" stroke="#c06a98" stroke-opacity="0.7" stroke-width="6.1" stroke-linecap="round" stroke-linejoin="round"/>
<path d="M69,1575C70.5,1577.5 74.2,1585.2 78,1590C81.8,1594.8 87,1599.3 92,1604C97,1608.7 103.2,1613.7 108,1618C112.8,1622.3 118.8,1628 121,1630" fill="none" stroke="#9abace" stroke-width="9" stroke-linecap="round" stroke-linejoin="round"/>
<path d="M121,1630C121.8,1632.5 125,1639.7 126,1645C127,1650.3 126.8,1656.2 127,1662C127.2,1667.8 126.8,1674.7 127,1680C127.2,1685.3 127.8,1691.7 128,1694" fill="none" stroke="#9abace" stroke-width="16" stroke-linecap="round" stroke-linejoin="round"/>
<path d="M133,1618C132.7,1619.7 131.8,1624.3 131,1628C130.2,1631.7 128.5,1638 128,1640" fill="none" stroke="#9abace" stroke-width="9" stroke-linecap="round" stroke-linejoin="round"/>
<path d="M128,1694C126.7,1696 123.3,1702 120,1706C116.7,1710 111.8,1714.3 108,1718C104.2,1721.7 98.8,1726.3 97,1728" fill="none" stroke="#9abace" stroke-width="14" stroke-linecap="round" stroke-linejoin="round"/>
<path d="M136,1699C134.7,1698.2 129.3,1694.8 128,1694" fill="none" stroke="#9abace" stroke-width="10" stroke-linecap="round" stroke-linejoin="round"/>
<path d="M104,1690C106,1690.3 112.3,1692 116,1692C119.7,1692 124.3,1690.3 126,1690" fill="none" stroke="#9abace" stroke-width="7" stroke-linecap="round" stroke-linejoin="round"/>
<path d="M181.3,1634C181.3,1637.5 181.6,1648.5 181.5,1655C181.4,1661.5 181.1,1670 181,1673" fill="none" stroke="#9abace" stroke-width="10.5" stroke-linecap="round" stroke-linejoin="round"/>
<path d="M181,1673C181.2,1676.7 181.8,1688.5 182,1695C182.2,1701.5 182,1709.2 182,1712" fill="none" stroke="#9abace" stroke-width="5" stroke-linecap="round" stroke-linejoin="round"/>
<path d="M262,1724C259.3,1726.7 251.7,1735 246,1740C240.3,1745 234.3,1749.5 228,1754C221.7,1758.5 215,1763 208,1767C201,1771 192,1774.8 186,1778C180,1781.2 174.3,1784.7 172,1786" fill="none" stroke="#9abace" stroke-width="10" stroke-linecap="round" stroke-linejoin="round"/>
<path d="M192,1621C195.8,1618.8 206.2,1612.2 215,1608C223.8,1603.8 235.8,1599.8 245,1596C254.2,1592.2 262.5,1588.3 270,1585C277.5,1581.7 286.7,1577.5 290,1576" fill="none" stroke="#9abace" stroke-width="4.5" stroke-linecap="round" stroke-linejoin="round"/>
<path d="M186,1528C188.7,1528.7 196.2,1530.2 202,1532C207.8,1533.8 217.8,1537.8 221,1539" fill="none" stroke="#9abace" stroke-width="5" stroke-linecap="round" stroke-linejoin="round"/>
<path d="M300,1612C302.7,1612.3 311,1612.7 316,1614C321,1615.3 327.7,1619 330,1620" fill="none" stroke="#9abace" stroke-width="4.5" stroke-linecap="round" stroke-linejoin="round"/>
<ellipse cx="273" cy="1631.5" rx="9.5" ry="13" fill="#9abace" fill-opacity="0.8" stroke="#a868a0" stroke-opacity="0.7" stroke-width="1.9" transform="rotate(25 273 1631.5)"/>
<ellipse cx="256.3" cy="1648.5" rx="3.6" ry="4.6" fill="#9abace" fill-opacity="0.8" stroke="#b070a8" stroke-opacity="0.7" stroke-width="1.2" transform="rotate(0 256.3 1648.5)"/>
<ellipse cx="214" cy="1646" rx="5.5" ry="7" fill="#9abace" fill-opacity="0.8" stroke="#c878a0" stroke-opacity="0.7" stroke-width="1.3" transform="rotate(0 214 1646)"/>
<ellipse cx="94.5" cy="1684" rx="9" ry="6" fill="#9abace" fill-opacity="0.8" stroke="#c878a0" stroke-opacity="0.7" stroke-width="1.3" transform="rotate(10 94.5 1684)"/>
<ellipse cx="215" cy="1711" rx="6" ry="7" fill="#c4d4de" fill-opacity="0.8" stroke="#c878a0" stroke-opacity="0.7" stroke-width="1.3" transform="rotate(0 215 1711)"/>
<ellipse cx="141" cy="1724" rx="5" ry="5.5" fill="#b8ccd8" fill-opacity="0.8" stroke="#c880a8" stroke-opacity="0.7" stroke-width="1.1" transform="rotate(0 141 1724)"/>
<ellipse cx="180" cy="1571" rx="5" ry="6" fill="#9abace" fill-opacity="0.8" stroke="#c090b0" stroke-opacity="0.7" stroke-width="1.0" transform="rotate(0 180 1571)"/>
<ellipse cx="322" cy="1745" rx="5" ry="8" fill="#9abace" fill-opacity="0.8" stroke="#c8a0b8" stroke-opacity="0.7" stroke-width="0.8" transform="rotate(0 322 1745)"/>
<ellipse cx="148" cy="1505" rx="5" ry="3.5" fill="#9abace" fill-opacity="0.8" stroke="#c8a0b8" stroke-opacity="0.7" stroke-width="0.8" transform="rotate(0 148 1505)"/>
<ellipse cx="138.5" cy="1603" rx="5" ry="7" fill="#9a58a8" opacity="0.65"/>
</g>
<g filter="url(#hb1)"><ellipse cx="275" cy="1512" rx="5.5" ry="4.5" fill="#a05aa0" opacity="0.8"/><ellipse cx="287" cy="1505" rx="5" ry="7" fill="#9abace" opacity="0.8"/></g>
<path d="M322.4,1475.8 L324.5,1483.1 L327.8,1489.8 L329.8,1497.1 L333.6,1503.4 L339.3,1508.5 L342.9,1515.6 L339.5,1524.6 L339.9,1533.7 L346,1541.4 L350.1,1550.2 L352.9,1558 L353.9,1565.8 L351.9,1574.7 L348.7,1583.2 L347,1591.6 L351.9,1600.3 L357.4,1608.2 L360.8,1617 L363.3,1626 L363.5,1633.7 L366.1,1641.2 L364.6,1649.1 L367.5,1657.4 L371,1665.6 L371.9,1673.4 L368.6,1680.9 L369.5,1688.7 L373.4,1698.2 L378,1707.1 L378.7,1714.1 L378.7,1721.2 L381.2,1728 L381.7,1737.4 L384.6,1746.4 L381.8,1753.9 L380.8,1761.6 L381.7,1769.6 L381.2,1778.9 L378.7,1788 L440,1790 L440,1474 Z" fill="#9bb6cd" stroke="#c4a0b4" stroke-width="1.4" stroke-opacity="0.6" filter="url(#hb1)"/>
<circle cx="391.5" cy="1669" r="1.4" fill="#d8e8f4"/><circle cx="407.5" cy="1652" r="0.8" fill="#d8e8f4"/><circle cx="385" cy="1565" r="0.7" fill="#d8e8f4"/>
</g>
<rect x="46.5" y="1479" width="388.7" height="308.4" fill="none" stroke="#000" stroke-width="3"/>
<line x1="258" y1="1488.1" x2="301.5" y2="1488.1" stroke="#fb0a0a" stroke-width="3.7" stroke-dasharray="12.17 3.5"/>
<line x1="258" y1="1531.8" x2="301.5" y2="1531.8" stroke="#fb0a0a" stroke-width="3.7" stroke-dasharray="12.17 3.5"/>
<line x1="259.9" y1="1486.3" x2="259.9" y2="1533.6" stroke="#fb0a0a" stroke-width="3.7" stroke-dasharray="13.43 3.5"/>
<line x1="299.6" y1="1486.3" x2="299.6" y2="1533.6" stroke="#fb0a0a" stroke-width="3.7" stroke-dasharray="13.43 3.5"/>
<text x="309.8" y="1535.3" font-size="46" font-weight="bold" fill="#fb0a0a">1</text>
<text x="55.6" y="1770.8" font-size="46" font-weight="bold" fill="#000">4x</text>
<rect x="400" y="1771.3" width="31.8" height="10.2" fill="#000"/>
<defs><clipPath id="cF"><rect x="501.5" y="1485" width="377.3" height="305"/></clipPath></defs>
<g clip-path="url(#cF)">
<rect x="501.5" y="1485" width="377.3" height="305" filter="url(#tis)"/>
<rect x="501.5" y="1485" width="377.3" height="305" filter="url(#mot)" opacity="0.38"/>
<rect x="501.5" y="1485" width="377.3" height="305" filter="url(#motb)" opacity="0.5"/>
<g filter="url(#hb3)"><ellipse cx="850" cy="1510" rx="60" ry="40" fill="#d86090" opacity="0.28"/><ellipse cx="560" cy="1500" rx="70" ry="25" fill="#d86090" opacity="0.2"/></g>
<g filter="url(#hb1)">
<path d="M498,1621.2 L505.1,1620.9 L512.1,1620.2 L519.2,1619.8 L526.1,1617.9 L534.7,1616.6 L543.5,1613.1 L541.8,1622.5 L539.9,1632.2 L541.9,1639.4 L543,1647 L546.6,1654 L545.8,1661.3 L546.1,1668.7 L544.9,1676 L545.9,1684.9 L548.8,1693.5 L548.8,1702.3 L554.4,1708.9 L559.2,1716.6 L567.2,1719.7 L576,1720.8 L583.4,1725.1 L590.3,1728.2 L595.3,1733.9 L601.9,1737.7 L608.2,1744.8 L611.8,1753.5 L614.4,1762.1 L615,1770.9 L614.6,1778.3 L616.4,1785.2 L619,1792 L495,1792 Z" fill="#9bb6cd" stroke="#c4a0b4" stroke-width="1.2" stroke-opacity="0.6"/>
<path d="M540,1614C543,1611.8 554,1609.5 560,1607C566,1604.5 571,1602.2 576,1599C581,1595.8 585.3,1592.3 590,1588C594.7,1583.7 599,1578.3 604,1573C609,1567.7 614,1561.8 620,1556C626,1550.2 633.7,1543.7 640,1538C646.3,1532.3 652.7,1526.8 658,1522C663.3,1517.2 668.7,1511.3 672,1509C675.3,1506.7 677.2,1506.5 678,1508C678.8,1509.5 679.3,1513.5 677,1518C674.7,1522.5 668.5,1529.3 664,1535C659.5,1540.7 655,1546.5 650,1552C645,1557.5 639.3,1562.3 634,1568C628.7,1573.7 622.7,1580.7 618,1586C613.3,1591.3 609.7,1595.7 606,1600C602.3,1604.3 598.3,1609.2 596,1612C593.7,1614.8 594,1617.7 592,1617C590,1616.3 587.3,1609.2 584,1608C580.7,1606.8 576.7,1608.7 572,1610C567.3,1611.3 561,1614.3 556,1616C551,1617.7 544.7,1620.3 542,1620C539.3,1619.7 537,1616.2 540,1614Z" fill="#9bb6cd" stroke="#c4a0b4" stroke-width="1" stroke-opacity="0.6"/>
<path d="M836,1716 C838,1735 836,1755 838,1778 L844,1778 C843,1755 845,1735 843,1716 Z" fill="#9abace" opacity="0.85"/>
<ellipse cx="733" cy="1500" rx="5" ry="7" fill="#9abace" fill-opacity="0.8" stroke="#8a5aa8" stroke-opacity="0.7" stroke-width="1.8" transform="rotate(30 733 1500)"/>
<ellipse cx="748" cy="1508" rx="4" ry="6" fill="#9abace" fill-opacity="0.8" stroke="#8a5aa8" stroke-opacity="0.7" stroke-width="1.8" transform="rotate(-20 748 1508)"/>
<ellipse cx="728" cy="1518" rx="6" ry="4" fill="#9abace" fill-opacity="0.8" stroke="#9868a8" stroke-opacity="0.7" stroke-width="1.6" transform="rotate(0 728 1518)"/>
<ellipse cx="788.5" cy="1550" rx="9" ry="7" fill="#9abace" fill-opacity="0.8" stroke="#9a78b0" stroke-opacity="0.7" stroke-width="1.4" transform="rotate(10 788.5 1550)"/>
<ellipse cx="865" cy="1545" rx="8" ry="6" fill="#9abace" fill-opacity="0.8" stroke="#a888b8" stroke-opacity="0.7" stroke-width="1.3" transform="rotate(0 865 1545)"/>
<ellipse cx="791" cy="1612" rx="5" ry="7" fill="#9abace" fill-opacity="0.8" stroke="#9a78b0" stroke-opacity="0.7" stroke-width="1.4" transform="rotate(0 791 1612)"/>
<ellipse cx="806" cy="1776" rx="4" ry="9" fill="#9abace" fill-opacity="0.8" stroke="#8a5aa8" stroke-opacity="0.7" stroke-width="1.9" transform="rotate(10 806 1776)"/>
<ellipse cx="765" cy="1642" rx="5" ry="4" fill="#9abace" fill-opacity="0.8" stroke="#c890b0" stroke-opacity="0.7" stroke-width="1.1" transform="rotate(0 765 1642)"/>
<ellipse cx="700" cy="1742" rx="6" ry="3" fill="#9abace" fill-opacity="0.8" stroke="#a8b8d0" stroke-opacity="0.7" stroke-width="0.4" transform="rotate(0 700 1742)"/>
<ellipse cx="505" cy="1530" rx="4" ry="6" fill="#9abace" fill-opacity="0.8" stroke="#a070a8" stroke-opacity="0.7" stroke-width="1.4" transform="rotate(0 505 1530)"/>
</g>
<g filter="url(#hb1)">
<path d="M829,1655 C838,1648 850,1652 853,1662 C862,1668 862,1684 855,1692 C858,1702 852,1712 846,1716 C840,1720 832,1716 830,1708 C824,1700 826,1692 828,1686 C820,1678 822,1664 829,1655Z" fill="#a678bc" opacity="0.75"/>
<ellipse cx="842" cy="1643" rx="4" ry="6" fill="#a070b8" opacity="0.7"/>
<ellipse cx="846" cy="1690" rx="6" ry="8" fill="#8258a8" opacity="0.6"/><ellipse cx="836" cy="1705" rx="5" ry="7" fill="#8258a8" opacity="0.6"/><ellipse cx="838" cy="1670" rx="7" ry="6" fill="#8c5cac" opacity="0.5"/>
<ellipse cx="520.5" cy="1577" rx="3.2" ry="6.5" fill="#8a58a8" opacity="0.85"/>
<ellipse cx="698.6" cy="1582.5" rx="4.5" ry="4" fill="#8a58a8" opacity="0.85"/>
<ellipse cx="636.7" cy="1632" rx="4" ry="4" fill="#8a58a8" opacity="0.85"/>
<ellipse cx="721.7" cy="1755.6" rx="4" ry="4.5" fill="#8a58a8" opacity="0.85"/>
</g>
<circle cx="513" cy="1738" r="1.3" fill="#e0eef8"/>
</g>
<rect x="501.5" y="1485" width="377.3" height="305" fill="none" stroke="#000" stroke-width="3"/>
<line x1="508.5" y1="1556.9" x2="550.7" y2="1556.9" stroke="#fb0a0a" stroke-width="3.7" stroke-dasharray="11.73 3.5"/>
<line x1="508.5" y1="1595.8" x2="550.7" y2="1595.8" stroke="#fb0a0a" stroke-width="3.7" stroke-dasharray="11.73 3.5"/>
<line x1="510.4" y1="1555.1" x2="510.4" y2="1597.7" stroke="#fb0a0a" stroke-width="3.7" stroke-dasharray="11.87 3.5"/>
<line x1="548.9" y1="1555.1" x2="548.9" y2="1597.7" stroke="#fb0a0a" stroke-width="3.7" stroke-dasharray="11.87 3.5"/>
<text x="561.7" y="1597.7" font-size="46" font-weight="bold" fill="#fb0a0a">1</text>
<line x1="682.5" y1="1561" x2="725.3" y2="1561" stroke="#fb0a0a" stroke-width="3.7" stroke-dasharray="11.93 3.5"/>
<line x1="682.5" y1="1600" x2="725.3" y2="1600" stroke="#fb0a0a" stroke-width="3.7" stroke-dasharray="11.93 3.5"/>
<line x1="684.4" y1="1559.2" x2="684.4" y2="1601.8" stroke="#fb0a0a" stroke-width="3.7" stroke-dasharray="11.87 3.5"/>
<line x1="723.4" y1="1559.2" x2="723.4" y2="1601.8" stroke="#fb0a0a" stroke-width="3.7" stroke-dasharray="11.87 3.5"/>
<text x="733" y="1600.2" font-size="46" font-weight="bold" fill="#fb0a0a">2</text>
<line x1="617" y1="1614" x2="659.4" y2="1614" stroke="#fb0a0a" stroke-width="3.7" stroke-dasharray="11.80 3.5"/>
<line x1="617" y1="1653.1" x2="659.4" y2="1653.1" stroke="#fb0a0a" stroke-width="3.7" stroke-dasharray="11.80 3.5"/>
<line x1="618.9" y1="1612.2" x2="618.9" y2="1654.9" stroke="#fb0a0a" stroke-width="3.7" stroke-dasharray="11.90 3.5"/>
<line x1="657.5" y1="1612.2" x2="657.5" y2="1654.9" stroke="#fb0a0a" stroke-width="3.7" stroke-dasharray="11.90 3.5"/>
<text x="588.9" y="1658" font-size="46" font-weight="bold" fill="#fb0a0a">3</text>
<line x1="810.5" y1="1634.8" x2="870" y2="1634.8" stroke="#fb0a0a" stroke-width="3.7" stroke-dasharray="12.25 3.5"/>
<line x1="810.5" y1="1726.2" x2="870" y2="1726.2" stroke="#fb0a0a" stroke-width="3.7" stroke-dasharray="12.25 3.5"/>
<line x1="812.4" y1="1633" x2="812.4" y2="1728" stroke="#fb0a0a" stroke-width="3.7" stroke-dasharray="12.92 3.5"/>
<line x1="868.1" y1="1633" x2="868.1" y2="1728" stroke="#fb0a0a" stroke-width="3.7" stroke-dasharray="12.92 3.5"/>
<text x="823.3" y="1627.8" font-size="46" font-weight="bold" fill="#fb0a0a">4</text>
<line x1="697" y1="1730.8" x2="749.5" y2="1730.8" stroke="#fb0a0a" stroke-width="3.7" stroke-dasharray="10.50 3.5"/>
<line x1="697" y1="1779.2" x2="749.5" y2="1779.2" stroke="#fb0a0a" stroke-width="3.7" stroke-dasharray="10.50 3.5"/>
<line x1="698.9" y1="1729" x2="698.9" y2="1781" stroke="#fb0a0a" stroke-width="3.7" stroke-dasharray="10.38 3.5"/>
<line x1="747.6" y1="1729" x2="747.6" y2="1781" stroke="#fb0a0a" stroke-width="3.7" stroke-dasharray="10.38 3.5"/>
<text x="659" y="1775.8" font-size="46" font-weight="bold" fill="#fb0a0a">5</text>
<text x="533.6" y="1779.8" font-size="46" font-weight="bold" fill="#000">4x</text>
<rect x="836.6" y="1773.7" width="36.9" height="10.6" fill="#000"/>
<defs><clipPath id="cT"><rect x="892.5" y="1487.5" width="208.6" height="310"/></clipPath></defs>
<g clip-path="url(#cT)">
<rect x="892.5" y="1487.5" width="208.6" height="310" filter="url(#tis2)"/>
<rect x="892.5" y="1487.5" width="208.6" height="310" filter="url(#mot)" opacity="0.35"/>
<g filter="url(#hb1)">
<path d="M971.8,1564C971.7,1565.5 970.8,1567.3 969.7,1568.2C968.5,1569.1 966.8,1568.9 965.1,1569.4C963.3,1569.9 960.2,1572 959.1,1571.4C958.1,1570.8 959.2,1567.3 958.7,1565.7C958.3,1564.1 956.4,1563.1 956.5,1561.6C956.5,1560.1 957.6,1556.9 959,1556.5C960.5,1556 963.2,1558.4 965,1558.8C966.9,1559.3 969.2,1558.5 970.3,1559.4C971.5,1560.2 971.9,1562.5 971.8,1564Z" fill="#92b2ca" opacity="0.9"/>
<path d="M923.5,1566C923.5,1567.4 920.9,1568.8 919.9,1570.2C918.8,1571.6 918.4,1573.5 917.1,1574.2C915.8,1575 913.3,1575.6 912.1,1574.7C910.8,1573.9 910.2,1571 909.6,1569C909,1566.9 907.9,1564 908.5,1562.5C909.1,1561 911.8,1560.5 913.2,1559.8C914.6,1559.1 915.9,1558.2 917,1558.5C918.2,1558.8 919,1560.3 920.1,1561.6C921.2,1562.8 923.5,1564.6 923.5,1566Z" fill="#92b2ca" opacity="0.9"/>
<path d="M1049,1507C1049.3,1508.8 1050.2,1511.4 1048.5,1512.6C1046.9,1513.9 1042.3,1514 1039.2,1514.3C1036.1,1514.5 1032.1,1514.9 1030,1514.1C1027.9,1513.2 1027.5,1510.9 1026.5,1509.2C1025.5,1507.6 1023.1,1505.4 1024.1,1504.3C1025,1503.1 1030,1502.9 1032.4,1502.4C1034.9,1501.8 1036.4,1501 1038.8,1501C1041.3,1500.9 1045.4,1501 1047.2,1502C1048.9,1503 1048.8,1505.2 1049,1507Z" fill="#92b2ca" opacity="0.9"/>
<path d="M1089.1,1646C1088.8,1651.6 1087.2,1657.7 1085.8,1660.7C1084.5,1663.7 1082.6,1663.3 1081,1663.8C1079.5,1664.3 1077.8,1665.7 1076.6,1663.9C1075.4,1662 1074.3,1656.9 1073.8,1652.8C1073.3,1648.6 1073.2,1644.1 1073.5,1638.9C1073.7,1633.6 1074,1623.4 1075.3,1621.4C1076.5,1619.3 1079.1,1625.7 1081.1,1626.6C1083.2,1627.6 1086.2,1623.8 1087.5,1627C1088.9,1630.2 1089.4,1640.4 1089.1,1646Z" fill="#92b2ca" opacity="0.9"/>
<path d="M917,1646C916.7,1647.5 912.7,1648.6 911.1,1649.8C909.5,1651 909,1652.8 907.4,1653.3C905.9,1653.8 902.8,1653.8 901.5,1652.9C900.3,1652 900.6,1649.5 900,1648C899.4,1646.4 897.9,1645.1 897.9,1643.4C898,1641.6 898.9,1638 900.4,1637.4C901.9,1636.8 905.1,1639.4 907.2,1640C909.3,1640.5 911.7,1639.6 913.3,1640.6C914.9,1641.6 917.4,1644.5 917,1646Z" fill="#92b2ca" opacity="0.9"/>
<path d="M946.2,1700C946.5,1701.7 947.2,1704.2 946.4,1706.1C945.7,1707.9 943.3,1710.9 941.7,1711C940.1,1711 937.9,1707.9 936.7,1706.4C935.5,1704.9 935.1,1703.6 934.7,1702.2C934.3,1700.7 934.2,1699.4 934.4,1697.7C934.6,1696 934.8,1692.7 935.9,1692C937,1691.4 939.5,1693.1 941,1693.7C942.4,1694.3 943.7,1694.6 944.6,1695.7C945.5,1696.7 945.9,1698.3 946.2,1700Z" fill="#92b2ca" opacity="0.9"/>
<path d="M911,1683C911.1,1684.5 911.6,1686.9 910.8,1687.8C909.9,1688.8 907.4,1688.6 906,1688.6C904.6,1688.6 903.4,1688.4 902.2,1687.9C901,1687.3 899.1,1686.3 898.9,1685.2C898.7,1684.2 900.2,1682.7 900.7,1681.4C901.2,1680.2 901,1678.1 901.9,1677.6C902.7,1677 904.5,1678 905.8,1678.3C907.2,1678.5 909,1678.1 909.9,1678.9C910.8,1679.7 910.8,1681.5 911,1683Z" fill="#92b2ca" opacity="0.9"/>
<path d="M1085.5,1730C1085.4,1731.9 1080.7,1733.6 1079.1,1735.7C1077.4,1737.7 1077.3,1741.3 1075.6,1742.2C1074,1743.1 1070.6,1742.6 1069.2,1741.1C1067.8,1739.6 1067.7,1735.7 1067.3,1733.2C1066.9,1730.8 1066.6,1729.3 1066.7,1726.5C1066.9,1723.7 1066.6,1718.5 1068.2,1716.5C1069.7,1714.6 1074.2,1713.4 1076,1714.7C1077.9,1715.9 1077.8,1721.5 1079.3,1724C1080.9,1726.6 1085.5,1728.1 1085.5,1730Z" fill="#92b2ca" opacity="0.9"/>
<path d="M944,1525C944.1,1526.6 944.1,1529.1 942.8,1529.9C941.5,1530.7 938.2,1529.9 936.2,1530C934.2,1530.1 931.8,1531.1 930.7,1530.5C929.6,1530 930,1527.7 929.5,1526.5C929.1,1525.3 927.9,1524.3 928.1,1523.1C928.3,1521.9 929.2,1520 930.6,1519.3C932,1518.5 934.5,1518.6 936.5,1518.8C938.4,1519 940.9,1519.5 942.1,1520.5C943.4,1521.5 943.9,1523.4 944,1525Z" fill="#92b2ca" opacity="0.9"/>
<path d="M1022.5,1494C1022.8,1494.9 1022.9,1495.9 1022,1496.9C1021.1,1497.9 1019.2,1499.7 1017.1,1500C1015.1,1500.3 1011.6,1499.3 1009.7,1498.5C1007.9,1497.8 1006.5,1496.7 1005.9,1495.7C1005.3,1494.6 1005.7,1493.6 1006.2,1492.4C1006.6,1491.2 1006.8,1489 1008.5,1488.4C1010.3,1487.8 1014.8,1488.3 1016.8,1488.9C1018.8,1489.4 1019.5,1490.9 1020.4,1491.7C1021.4,1492.6 1022.3,1493.1 1022.5,1494Z" fill="#92b2ca" opacity="0.9"/>
<path d="M1090.3,1560C1090.4,1561.2 1088,1562.9 1086.8,1564C1085.6,1565.1 1084.5,1566.5 1083.2,1566.6C1081.9,1566.8 1080.4,1565.7 1079.1,1565C1077.8,1564.3 1076.1,1563.5 1075.6,1562.3C1075.1,1561.1 1075.5,1559 1076.1,1557.9C1076.7,1556.7 1078.2,1556.3 1079.4,1555.4C1080.6,1554.6 1082.2,1552.4 1083.3,1552.6C1084.4,1552.8 1084.9,1555.3 1086.1,1556.6C1087.2,1557.8 1090.1,1558.8 1090.3,1560Z" fill="#92b2ca" opacity="0.9"/>
<path d="M1068.2,1690C1068,1691.6 1065,1692.4 1063.8,1694.1C1062.7,1695.9 1062.8,1699.5 1061.4,1700.4C1060.1,1701.2 1057.2,1700.4 1055.9,1699.2C1054.5,1698 1054,1695.2 1053.4,1693.1C1052.9,1691 1052,1688.2 1052.6,1686.5C1053.2,1684.9 1055.6,1684.5 1057,1683.4C1058.5,1682.3 1060,1679.7 1061.4,1679.9C1062.7,1680.1 1064,1682.8 1065.1,1684.5C1066.3,1686.2 1068.4,1688.4 1068.2,1690Z" fill="#92b2ca" opacity="0.9"/>
<path d="M917.9,1740C917.9,1742.4 919.6,1746 918.9,1747.4C918.1,1748.8 914.8,1748.4 913.1,1748.3C911.5,1748.3 910.3,1748 908.8,1747.2C907.2,1746.4 904.5,1745.4 904,1743.7C903.5,1742.1 905.2,1739.2 905.9,1737.2C906.6,1735.1 907,1732.1 908.1,1731.4C909.3,1730.7 911.3,1732.6 913,1732.9C914.7,1733.2 917.7,1731.8 918.5,1733C919.3,1734.2 917.8,1737.6 917.9,1740Z" fill="#92b2ca" opacity="0.9"/>
<path d="M1092.7,1775C1092.7,1776.6 1091,1777.6 1090,1779.7C1089.1,1781.8 1088.5,1787.3 1087,1787.7C1085.6,1788 1083.5,1783.3 1081.4,1782C1079.3,1780.6 1075.5,1781.2 1074.3,1779.3C1073.1,1777.4 1073.1,1772.8 1074.1,1770.6C1075.1,1768.3 1078.2,1766.2 1080.2,1765.8C1082.2,1765.4 1084.5,1767.3 1086.1,1768C1087.7,1768.8 1089,1769.1 1090.1,1770.3C1091.2,1771.4 1092.7,1773.4 1092.7,1775Z" fill="#92b2ca" opacity="0.9"/>
<path d="M960,1752C960.1,1754.5 959.9,1757.9 959.3,1760.4C958.6,1762.9 957.5,1765.5 956.1,1766.7C954.8,1767.9 952.2,1769.2 951.2,1767.5C950.1,1765.8 950,1759.6 949.9,1756.4C949.8,1753.2 950.2,1751.1 950.6,1748.2C950.9,1745.4 951,1740.6 951.9,1739.4C952.8,1738.3 954.7,1740.2 955.8,1741.2C956.9,1742.2 957.8,1743.4 958.5,1745.2C959.1,1747 959.8,1749.5 960,1752Z" fill="#92b2ca" opacity="0.9"/>
<path d="M1096.2,1600C1096.4,1601.6 1096,1604.8 1095.1,1605.7C1094.2,1606.7 1092.1,1605.7 1090.8,1605.8C1089.4,1606 1088.3,1607.2 1087.1,1606.7C1085.9,1606.3 1084.3,1604.7 1083.7,1603.1C1083.1,1601.4 1082.9,1598.4 1083.5,1596.8C1084.1,1595.2 1085.9,1594.6 1087.2,1593.6C1088.5,1592.5 1090.2,1589.9 1091.3,1590.3C1092.4,1590.7 1092.9,1594.3 1093.7,1595.9C1094.5,1597.5 1096,1598.4 1096.2,1600Z" fill="#92b2ca" opacity="0.9"/>
<path d="M990.6,1512C990.7,1513 990.2,1514.2 989.5,1515C988.7,1515.8 987.2,1516.8 986.1,1516.8C984.9,1516.9 983.3,1516.1 982.5,1515.5C981.7,1514.8 981.6,1513.8 981.4,1513C981.3,1512.3 981.4,1511.8 981.6,1511C981.7,1510.2 981.8,1508.8 982.5,1508.5C983.1,1508.1 984.6,1508.7 985.7,1508.8C986.8,1509 988.3,1508.7 989.1,1509.2C990,1509.8 990.6,1511 990.6,1512Z" fill="#92b2ca" opacity="0.9"/>
<path d="M1069.5,1530C1069.8,1531.1 1071,1533.1 1070.4,1533.8C1069.8,1534.4 1067.1,1534.2 1065.9,1534.1C1064.6,1534 1063.8,1533.5 1062.9,1533.1C1062,1532.6 1061,1532.2 1060.5,1531.4C1059.9,1530.6 1059.3,1529.3 1059.5,1528.3C1059.7,1527.4 1060.8,1526 1061.9,1525.5C1063,1525 1064.8,1525.1 1066,1525.4C1067.1,1525.7 1068.1,1526.7 1068.7,1527.4C1069.3,1528.2 1069.2,1528.9 1069.5,1530Z" fill="#92b2ca" opacity="0.9"/>
<path d="M929.9,1610C930.1,1611.5 930.5,1613.9 929.9,1614.9C929.2,1615.9 927.2,1615.8 925.9,1616C924.6,1616.3 922.5,1617.3 921.8,1616.6C921.1,1615.8 922.1,1613 921.6,1611.5C921.1,1609.9 918.9,1608.7 918.9,1607.3C919,1606 920.8,1604.2 921.9,1603.6C923.1,1603 924.7,1603.5 925.9,1603.9C927.1,1604.4 928.2,1605.1 928.9,1606.1C929.6,1607.1 929.8,1608.5 929.9,1610Z" fill="#92b2ca" opacity="0.9"/>
<path d="M1056.1,1760C1056.5,1761.7 1056.6,1765.4 1055.7,1766.4C1054.8,1767.4 1052.3,1765.6 1050.8,1765.8C1049.3,1766 1047.8,1768 1046.7,1767.5C1045.7,1767 1044.5,1764.5 1044.2,1762.8C1043.9,1761.2 1044.6,1759.4 1045,1757.6C1045.4,1755.8 1045.6,1753.2 1046.6,1752.1C1047.6,1751.1 1050,1750.4 1051.2,1751.1C1052.3,1751.7 1052.7,1754.6 1053.5,1756.1C1054.3,1757.6 1055.8,1758.3 1056.1,1760Z" fill="#92b2ca" opacity="0.9"/>
<path d="M1098.7,1500C1098.8,1501.6 1097.4,1503.7 1096.5,1505C1095.5,1506.3 1094.3,1507.4 1093,1507.8C1091.8,1508.2 1089.6,1508.5 1088.8,1507.5C1087.9,1506.5 1088.3,1503.7 1087.9,1502C1087.4,1500.3 1085.8,1498.5 1086,1497.1C1086.2,1495.7 1088,1494.7 1089.2,1493.6C1090.4,1492.5 1092.2,1490 1093.3,1490.3C1094.4,1490.7 1094.9,1494.1 1095.9,1495.7C1096.8,1497.3 1098.6,1498.4 1098.7,1500Z" fill="#92b2ca" opacity="0.9"/>
<path d="M906,1500C906.1,1501.3 905.2,1503.3 904.4,1504.4C903.5,1505.4 902.2,1506 900.9,1506.4C899.7,1506.7 897.7,1507.2 896.9,1506.4C896.2,1505.6 896.9,1502.9 896.6,1501.5C896.3,1500.1 894.9,1499 895,1497.8C895.1,1496.7 896.3,1495.2 897.3,1494.5C898.3,1493.7 899.9,1493.1 901,1493.5C902,1493.8 902.8,1495.3 903.6,1496.4C904.5,1497.4 905.8,1498.7 906,1500Z" fill="#92b2ca" opacity="0.9"/>
<path d="M1049.7,1722C1049.8,1723.1 1049.6,1724.4 1049.1,1725.7C1048.7,1726.9 1047.8,1729.1 1046.9,1729.3C1046.1,1729.5 1044.7,1727.8 1044,1726.9C1043.2,1726 1042.9,1725 1042.5,1723.8C1042.2,1722.6 1041.5,1721.1 1041.7,1719.8C1041.9,1718.5 1042.7,1716.9 1043.5,1716C1044.4,1715.2 1046,1714.5 1046.9,1715C1047.8,1715.4 1048.3,1717.6 1048.7,1718.8C1049.2,1720 1049.6,1720.9 1049.7,1722Z" fill="#92b2ca" opacity="0.9"/>
<path d="M990,1724 C996,1720 1006,1722 1010,1728 C1012,1745 1008,1765 1010,1795 L988,1795 C990,1770 986,1745 990,1724Z" fill="#8fb0c8"/>
</g>
<g filter="url(#pur)">
<ellipse cx="1010" cy="1549" rx="30" ry="26" fill="#000"/>
<ellipse cx="1003" cy="1582" rx="24" ry="18" fill="#000"/>
<ellipse cx="1048" cy="1600" rx="24" ry="38" fill="#000"/>
<ellipse cx="1022" cy="1624" rx="26" ry="20" fill="#000"/>
<ellipse cx="1016" cy="1658" rx="22" ry="20" fill="#000"/>
<ellipse cx="985" cy="1692" rx="26" ry="24" fill="#000"/>
<ellipse cx="978" cy="1724" rx="20" ry="32" fill="#000"/>
<ellipse cx="986" cy="1752" rx="12" ry="18" fill="#000"/>
<ellipse cx="940" cy="1636" rx="18" ry="19" fill="#000"/>
<ellipse cx="960" cy="1610" rx="18" ry="16" fill="#000"/>
<ellipse cx="1028" cy="1740" rx="13" ry="26" fill="#000"/>
<ellipse cx="1000" cy="1520" rx="18" ry="14" fill="#000"/>
<ellipse cx="1060" cy="1642" rx="12" ry="16" fill="#000"/>
<ellipse cx="990" cy="1640" rx="20" ry="16" fill="#000"/>
</g>
<g filter="url(#hb3)">
<ellipse cx="990" cy="1612" rx="14" ry="16" fill="#e08098" opacity="0.55"/>
<ellipse cx="1000" cy="1655" rx="9" ry="10" fill="#e08098" opacity="0.35"/>
<ellipse cx="907" cy="1704" rx="11" ry="10" fill="#e0557c" opacity="0.6"/>
<ellipse cx="1030" cy="1700" rx="12" ry="10" fill="#e07090" opacity="0.4"/>
<ellipse cx="945" cy="1590" rx="10" ry="8" fill="#e08098" opacity="0.35"/>
</g>
<ellipse cx="990.5" cy="1658" rx="3.4" ry="3.8" fill="#b8cfe0" filter="url(#hb1)"/>
</g>
<rect x="889.5" y="1484.5" width="214.6" height="320" fill="none" stroke="#fff" stroke-width="6.2"/>
<path d="M886.4,1484.5 H1107.2 M1104.1,1481.4 V1800 M889.5,1481.4 V1800 M886.4,1791 H1107.2" fill="none" stroke="#f80000" stroke-width="6.2" stroke-dasharray="17 5.4"/>
<text x="904.6" y="1528" font-size="46" font-weight="bold" fill="#fb0a0a">4</text>
<text x="895.4" y="1776.7" font-size="44.5" font-weight="bold" fill="#000">10x</text>
<rect x="1044.3" y="1772.8" width="44.3" height="10.2" fill="#000"/>

<text x="1.9" y="38.9" font-size="54" text-anchor="start" font-weight="bold" fill="#000">A</text>
<text x="-2.2" y="455.7" font-size="54" text-anchor="start" font-weight="bold" fill="#000">B</text>
<text x="531.4" y="457.2" font-size="54" text-anchor="start" font-weight="bold" fill="#000">C</text>
<text x="-3" y="944.5" font-size="54" text-anchor="start" font-weight="bold" fill="#000">D</text>
<text x="-1.7" y="1449" font-size="54" text-anchor="start" font-weight="bold" fill="#000">E</text>
<text x="464.4" y="1451.2" font-size="54" text-anchor="start" font-weight="bold" fill="#000">F</text>
<text x="1075.8" y="40.3" font-size="54" text-anchor="start" font-weight="bold" fill="#000">G</text>
<text x="1578.9" y="39.1" font-size="54" text-anchor="start" font-weight="bold" fill="#000">H</text>
<text x="1085.7" y="637.8" font-size="54" text-anchor="start" font-weight="bold" fill="#000">I</text>
<text x="1579.2" y="635.7" font-size="54" text-anchor="start" font-weight="bold" fill="#000">L</text>
<text x="1204.8" y="1244.9" font-size="54" text-anchor="start" font-weight="bold" fill="#000">M</text>
<text x="272.4" y="51.7" font-size="37" text-anchor="middle" font-weight="bold" fill="#000">CTRL</text>
<text x="779.9" y="53.2" font-size="37" text-anchor="middle" font-weight="bold" fill="#000">SQZD</text>
<text x="275" y="967.4" font-size="37" text-anchor="middle" font-weight="bold" fill="#000">CTRL</text>
<text x="763.4" y="970.5" font-size="37" text-anchor="middle" font-weight="bold" fill="#000">SQZD</text>
<text x="243.3" y="1462.4" font-size="37" text-anchor="middle" font-weight="bold" fill="#000">CTRL</text>
<text x="803" y="1461.8" font-size="37" text-anchor="middle" font-weight="bold" fill="#000">SQZD</text>
<line x1="177.4" y1="473.9" x2="177.4" y2="827.6" stroke="#000" stroke-width="1.2" stroke-linecap="butt"/>
<line x1="169.4" y1="827" x2="491" y2="827" stroke="#000" stroke-width="1.2" stroke-linecap="butt"/>
<line x1="169.4" y1="738.9" x2="177.4" y2="738.9" stroke="#000" stroke-width="1.2" stroke-linecap="butt"/>
<line x1="169.4" y1="650.8" x2="177.4" y2="650.8" stroke="#000" stroke-width="1.2" stroke-linecap="butt"/>
<line x1="169.4" y1="562.7" x2="177.4" y2="562.7" stroke="#000" stroke-width="1.2" stroke-linecap="butt"/>
<line x1="169.4" y1="474.6" x2="177.4" y2="474.6" stroke="#000" stroke-width="1.2" stroke-linecap="butt"/>
<line x1="177.4" y1="827" x2="177.4" y2="835" stroke="#000" stroke-width="1.2" stroke-linecap="butt"/>
<text x="177.4" y="859.5" font-size="23" text-anchor="middle" fill="#000">3</text>
<line x1="240" y1="827" x2="240" y2="835" stroke="#000" stroke-width="1.2" stroke-linecap="butt"/>
<text x="240" y="859.5" font-size="23" text-anchor="middle" fill="#000">4</text>
<line x1="302.6" y1="827" x2="302.6" y2="835" stroke="#000" stroke-width="1.2" stroke-linecap="butt"/>
<text x="302.6" y="859.5" font-size="23" text-anchor="middle" fill="#000">5</text>
<line x1="365.2" y1="827" x2="365.2" y2="835" stroke="#000" stroke-width="1.2" stroke-linecap="butt"/>
<text x="365.2" y="859.5" font-size="23" text-anchor="middle" fill="#000">6</text>
<line x1="427.8" y1="827" x2="427.8" y2="835" stroke="#000" stroke-width="1.2" stroke-linecap="butt"/>
<text x="427.8" y="859.5" font-size="23" text-anchor="middle" fill="#000">7</text>
<line x1="490.4" y1="827" x2="490.4" y2="835" stroke="#000" stroke-width="1.2" stroke-linecap="butt"/>
<text x="490.4" y="859.5" font-size="23" text-anchor="middle" fill="#000">8</text>
<text x="165.7" y="835" font-size="23" text-anchor="end" fill="#000">0</text>
<text x="167.4" y="746.9" font-size="23" text-anchor="end" fill="#000">2×10<tspan font-size="14.72" dy="-7.36" dx="2.2">3</tspan></text>
<text x="167.4" y="658.8" font-size="23" text-anchor="end" fill="#000">4×10<tspan font-size="14.72" dy="-7.36" dx="2.2">3</tspan></text>
<text x="167.4" y="570.7" font-size="23" text-anchor="end" fill="#000">6×10<tspan font-size="14.72" dy="-7.36" dx="2.2">3</tspan></text>
<text x="167.4" y="482.6" font-size="23" text-anchor="end" fill="#000">8×10<tspan font-size="14.72" dy="-7.36" dx="2.2">3</tspan></text>
<text x="334.8" y="893.5" font-size="29" text-anchor="middle" fill="#000">Days</text>
<text transform="translate(89 647.8) rotate(-90)" font-size="30" text-anchor="middle" font-weight="bold" fill="#000">Area tumorspheres ( px<tspan font-size="20" dy="-10">2</tspan><tspan dy="10">)</tspan></text>
<polyline fill="none" stroke="#666" stroke-width="2.6" stroke-linejoin="round" points="240,773.3 302.6,758.8 365.2,723.5 427.8,681.4"/>
<circle cx="240" cy="773.3" r="4.2" fill="#666"/>
<circle cx="302.6" cy="758.8" r="4.2" fill="#666"/>
<circle cx="365.2" cy="723.5" r="4.2" fill="#666"/>
<circle cx="427.8" cy="681.4" r="4.2" fill="#666"/>
<polyline fill="none" stroke="#0ba8a8" stroke-width="2.6" stroke-linejoin="round" points="240,723.5 302.6,708.4 365.2,624.6 427.8,504.3"/>
<rect x="236" y="719.5" width="8" height="8" fill="#0ba8a8"/>
<rect x="298.6" y="704.4" width="8" height="8" fill="#0ba8a8"/>
<rect x="361.2" y="620.6" width="8" height="8" fill="#0ba8a8"/>
<rect x="423.8" y="500.3" width="8" height="8" fill="#0ba8a8"/>
<line x1="198.3" y1="509" x2="220.3" y2="509" stroke="#666" stroke-width="2.6" stroke-linecap="butt"/>
<circle cx="209.3" cy="509" r="4.2" fill="#666"/>
<text x="233.3" y="516" font-size="20" text-anchor="start" fill="#000">WT-CTRL</text>
<line x1="198.3" y1="535" x2="220.3" y2="535" stroke="#0ba8a8" stroke-width="2.6" stroke-linecap="butt"/>
<rect x="205.3" y="531" width="8" height="8" fill="#0ba8a8"/>
<text x="233.3" y="542" font-size="20" text-anchor="start" fill="#000">WT-SQZD</text>
<rect x="735.7" y="721.8" width="86.9" height="112.6" fill="#a2a2a7" stroke="#333" stroke-width="0.8"/>
<rect x="866.8" y="584.3" width="86.9" height="250.1" fill="#00a9a9" stroke="#0a4a4a" stroke-width="0.8"/>
<line x1="691.8" y1="492.2" x2="691.8" y2="835" stroke="#000" stroke-width="1.2" stroke-linecap="butt"/>
<line x1="683.8" y1="834.4" x2="998.1" y2="834.4" stroke="#000" stroke-width="1.2" stroke-linecap="butt"/>
<line x1="683.8" y1="766.08" x2="691.8" y2="766.08" stroke="#000" stroke-width="1.2" stroke-linecap="butt"/>
<line x1="683.8" y1="697.76" x2="691.8" y2="697.76" stroke="#000" stroke-width="1.2" stroke-linecap="butt"/>
<line x1="683.8" y1="629.44" x2="691.8" y2="629.44" stroke="#000" stroke-width="1.2" stroke-linecap="butt"/>
<line x1="683.8" y1="561.12" x2="691.8" y2="561.12" stroke="#000" stroke-width="1.2" stroke-linecap="butt"/>
<line x1="683.8" y1="492.8" x2="691.8" y2="492.8" stroke="#000" stroke-width="1.2" stroke-linecap="butt"/>
<text x="680.8" y="841.2" font-size="19.5" text-anchor="end" fill="#000">0</text>
<text x="682.8" y="772.88" font-size="19.5" text-anchor="end" fill="#000">2×10<tspan font-size="13.26" dy="-5.5" dx="2.8">3</tspan></text>
<text x="682.8" y="704.56" font-size="19.5" text-anchor="end" fill="#000">4×10<tspan font-size="13.26" dy="-5.5" dx="2.8">3</tspan></text>
<text x="682.8" y="636.24" font-size="19.5" text-anchor="end" fill="#000">6×10<tspan font-size="13.26" dy="-5.5" dx="2.8">3</tspan></text>
<text x="682.8" y="567.92" font-size="19.5" text-anchor="end" fill="#000">8×10<tspan font-size="13.26" dy="-5.5" dx="2.8">3</tspan></text>
<text x="682.8" y="499.6" font-size="19.5" text-anchor="end" fill="#000">1×10<tspan font-size="13.26" dy="-5.5" dx="2.8">4</tspan></text>
<line x1="779" y1="834.4" x2="779" y2="842.4" stroke="#000" stroke-width="1.2" stroke-linecap="butt"/>
<text x="779.5" y="866.4" font-size="24.7" text-anchor="middle" fill="#000">CTRL</text>
<line x1="910.1" y1="834.4" x2="910.1" y2="842.4" stroke="#000" stroke-width="1.2" stroke-linecap="butt"/>
<text x="907" y="866.4" font-size="24.7" text-anchor="middle" fill="#000">SQZD</text>
<line x1="779" y1="677.1" x2="779" y2="766.2" stroke="#000" stroke-width="1.2" stroke-linecap="butt"/>
<line x1="757.3" y1="677.1" x2="800.7" y2="677.1" stroke="#000" stroke-width="1.2" stroke-linecap="butt"/>
<line x1="757.3" y1="766.2" x2="800.7" y2="766.2" stroke="#000" stroke-width="1.2" stroke-linecap="butt"/>
<line x1="910.1" y1="524.1" x2="910.1" y2="645" stroke="#000" stroke-width="1.2" stroke-linecap="butt"/>
<line x1="888.4" y1="524.1" x2="931.8" y2="524.1" stroke="#000" stroke-width="1.2" stroke-linecap="butt"/>
<line x1="888.4" y1="645" x2="931.8" y2="645" stroke="#000" stroke-width="1.2" stroke-linecap="butt"/>
<circle cx="779" cy="682" r="4.5" fill="#000"/>
<circle cx="771" cy="708.2" r="4.5" fill="#000"/>
<circle cx="787.6" cy="711.9" r="4.5" fill="#000"/>
<circle cx="779" cy="785.5" r="4.5" fill="#000"/>
<circle cx="910.1" cy="516.9" r="4.5" fill="#000"/>
<circle cx="910.1" cy="603.5" r="4.5" fill="#000"/>
<circle cx="910.1" cy="633.5" r="4.5" fill="#000"/>
<polyline fill="none" stroke="#000" stroke-width="1.2" points="779,664.8 779,492.8 910.1,492.8 910.1,505.1"/>
<text x="844.8" y="494" font-size="24" text-anchor="middle" font-weight="bold" fill="#000">*</text>
<text transform="translate(578.7 662.8) rotate(-90)" font-size="28" text-anchor="middle" font-weight="bold" fill="#000">Area tumorspheres</text>
<text transform="translate(616.3 662.2) rotate(-90)" font-size="28" text-anchor="middle" font-weight="bold" fill="#000">day 7 (px<tspan font-size="19" dy="-9.5">2</tspan><tspan dy="9.5">)</tspan></text>
<line x1="1154.5" y1="127.65" x2="1154.5" y2="182.5" stroke="#000" stroke-width="2.3" stroke-linecap="butt"/>
<line x1="1154.5" y1="190.5" x2="1154.5" y2="474.65" stroke="#000" stroke-width="2.3" stroke-linecap="butt"/>
<line x1="1150.9" y1="179.6" x2="1158.1" y2="185.4" stroke="#000" stroke-width="2.3" stroke-linecap="butt"/>
<line x1="1150.9" y1="187.6" x2="1158.1" y2="193.4" stroke="#000" stroke-width="2.3" stroke-linecap="butt"/>
<line x1="1148" y1="473.5" x2="1500.4" y2="473.5" stroke="#000" stroke-width="2.3" stroke-linecap="butt"/>
<line x1="1148.2" y1="473.5" x2="1154.5" y2="473.5" stroke="#000" stroke-width="1.9" stroke-linecap="butt"/>
<text x="1146.5" y="481.8" font-size="21" text-anchor="end" font-weight="bold" fill="#000">0</text>
<line x1="1148.2" y1="397.9" x2="1154.5" y2="397.9" stroke="#000" stroke-width="1.9" stroke-linecap="butt"/>
<text x="1147" y="406.2" font-size="21" text-anchor="end" font-weight="bold" fill="#000">2×10<tspan font-size="12.6" dy="-6.8" dx="2">9</tspan></text>
<line x1="1148.2" y1="322.4" x2="1154.5" y2="322.4" stroke="#000" stroke-width="1.9" stroke-linecap="butt"/>
<text x="1147" y="330.7" font-size="21" text-anchor="end" font-weight="bold" fill="#000">4×10<tspan font-size="12.6" dy="-6.8" dx="2">9</tspan></text>
<line x1="1148.2" y1="246.8" x2="1154.5" y2="246.8" stroke="#000" stroke-width="1.9" stroke-linecap="butt"/>
<text x="1147" y="255.1" font-size="21" text-anchor="end" font-weight="bold" fill="#000">6×10<tspan font-size="12.6" dy="-6.8" dx="2">9</tspan></text>
<line x1="1148.2" y1="179.7" x2="1154.5" y2="179.7" stroke="#000" stroke-width="1.9" stroke-linecap="butt"/>
<text x="1147" y="188" font-size="21" text-anchor="end" font-weight="bold" fill="#000">1×10<tspan font-size="12.6" dy="-6.8" dx="2">10</tspan></text>
<line x1="1148.2" y1="128.8" x2="1154.5" y2="128.8" stroke="#000" stroke-width="1.9" stroke-linecap="butt"/>
<text x="1147" y="137.1" font-size="21" text-anchor="end" font-weight="bold" fill="#000">15×10<tspan font-size="12.6" dy="-6.8" dx="2">10</tspan></text>
<line x1="1150.5" y1="465.1" x2="1154.5" y2="465.1" stroke="#000" stroke-width="1.5" stroke-linecap="butt"/>
<line x1="1150.5" y1="456.7" x2="1154.5" y2="456.7" stroke="#000" stroke-width="1.5" stroke-linecap="butt"/>
<line x1="1150.5" y1="448.3" x2="1154.5" y2="448.3" stroke="#000" stroke-width="1.5" stroke-linecap="butt"/>
<line x1="1150.5" y1="439.9" x2="1154.5" y2="439.9" stroke="#000" stroke-width="1.5" stroke-linecap="butt"/>
<line x1="1150.5" y1="431.5" x2="1154.5" y2="431.5" stroke="#000" stroke-width="1.5" stroke-linecap="butt"/>
<line x1="1150.5" y1="423.1" x2="1154.5" y2="423.1" stroke="#000" stroke-width="1.5" stroke-linecap="butt"/>
<line x1="1150.5" y1="414.7" x2="1154.5" y2="414.7" stroke="#000" stroke-width="1.5" stroke-linecap="butt"/>
<line x1="1150.5" y1="406.3" x2="1154.5" y2="406.3" stroke="#000" stroke-width="1.5" stroke-linecap="butt"/>
<line x1="1150.5" y1="389.51" x2="1154.5" y2="389.51" stroke="#000" stroke-width="1.5" stroke-linecap="butt"/>
<line x1="1150.5" y1="381.12" x2="1154.5" y2="381.12" stroke="#000" stroke-width="1.5" stroke-linecap="butt"/>
<line x1="1150.5" y1="372.73" x2="1154.5" y2="372.73" stroke="#000" stroke-width="1.5" stroke-linecap="butt"/>
<line x1="1150.5" y1="364.34" x2="1154.5" y2="364.34" stroke="#000" stroke-width="1.5" stroke-linecap="butt"/>
<line x1="1150.5" y1="355.96" x2="1154.5" y2="355.96" stroke="#000" stroke-width="1.5" stroke-linecap="butt"/>
<line x1="1150.5" y1="347.57" x2="1154.5" y2="347.57" stroke="#000" stroke-width="1.5" stroke-linecap="butt"/>
<line x1="1150.5" y1="339.18" x2="1154.5" y2="339.18" stroke="#000" stroke-width="1.5" stroke-linecap="butt"/>
<line x1="1150.5" y1="330.79" x2="1154.5" y2="330.79" stroke="#000" stroke-width="1.5" stroke-linecap="butt"/>
<line x1="1150.5" y1="314" x2="1154.5" y2="314" stroke="#000" stroke-width="1.5" stroke-linecap="butt"/>
<line x1="1150.5" y1="305.6" x2="1154.5" y2="305.6" stroke="#000" stroke-width="1.5" stroke-linecap="butt"/>
<line x1="1150.5" y1="297.2" x2="1154.5" y2="297.2" stroke="#000" stroke-width="1.5" stroke-linecap="butt"/>
<line x1="1150.5" y1="288.8" x2="1154.5" y2="288.8" stroke="#000" stroke-width="1.5" stroke-linecap="butt"/>
<line x1="1150.5" y1="280.4" x2="1154.5" y2="280.4" stroke="#000" stroke-width="1.5" stroke-linecap="butt"/>
<line x1="1150.5" y1="272" x2="1154.5" y2="272" stroke="#000" stroke-width="1.5" stroke-linecap="butt"/>
<line x1="1150.5" y1="263.6" x2="1154.5" y2="263.6" stroke="#000" stroke-width="1.5" stroke-linecap="butt"/>
<line x1="1150.5" y1="255.2" x2="1154.5" y2="255.2" stroke="#000" stroke-width="1.5" stroke-linecap="butt"/>
<line x1="1150.5" y1="238.41" x2="1154.5" y2="238.41" stroke="#000" stroke-width="1.5" stroke-linecap="butt"/>
<line x1="1150.5" y1="230.02" x2="1154.5" y2="230.02" stroke="#000" stroke-width="1.5" stroke-linecap="butt"/>
<line x1="1150.5" y1="221.63" x2="1154.5" y2="221.63" stroke="#000" stroke-width="1.5" stroke-linecap="butt"/>
<line x1="1150.5" y1="213.24" x2="1154.5" y2="213.24" stroke="#000" stroke-width="1.5" stroke-linecap="butt"/>
<line x1="1150.5" y1="204.85" x2="1154.5" y2="204.85" stroke="#000" stroke-width="1.5" stroke-linecap="butt"/>
<line x1="1150.5" y1="196.46" x2="1154.5" y2="196.46" stroke="#000" stroke-width="1.5" stroke-linecap="butt"/>
<line x1="1150.5" y1="169.52" x2="1154.5" y2="169.52" stroke="#000" stroke-width="1.5" stroke-linecap="butt"/>
<line x1="1150.5" y1="159.34" x2="1154.5" y2="159.34" stroke="#000" stroke-width="1.5" stroke-linecap="butt"/>
<line x1="1150.5" y1="149.16" x2="1154.5" y2="149.16" stroke="#000" stroke-width="1.5" stroke-linecap="butt"/>
<line x1="1150.5" y1="138.98" x2="1154.5" y2="138.98" stroke="#000" stroke-width="1.5" stroke-linecap="butt"/>
<line x1="1260.5" y1="473.5" x2="1260.5" y2="480" stroke="#000" stroke-width="2.3" stroke-linecap="butt"/>
<text x="1265.3" y="501.8" font-size="21" text-anchor="middle" fill="#000">CTRL</text>
<line x1="1393.2" y1="473.5" x2="1393.2" y2="480" stroke="#000" stroke-width="2.3" stroke-linecap="butt"/>
<text x="1398" y="501.8" font-size="21" text-anchor="middle" fill="#000">SQZD</text>
<line x1="1234" y1="431.6" x2="1287.6" y2="431.6" stroke="#000" stroke-width="1.4" stroke-linecap="butt"/>
<line x1="1366.8" y1="375.4" x2="1419.7" y2="375.4" stroke="#000" stroke-width="1.4" stroke-linecap="butt"/>
<circle cx="1260.5" cy="345" r="5.3" fill="#000"/>
<circle cx="1243" cy="423.5" r="5.3" fill="#000"/>
<circle cx="1260.5" cy="416" r="5.3" fill="#000"/>
<circle cx="1278.3" cy="421.4" r="5.3" fill="#000"/>
<circle cx="1260.5" cy="440.7" r="5.3" fill="#000"/>
<circle cx="1243" cy="473.2" r="5.3" fill="#000"/>
<circle cx="1260.5" cy="469" r="5.3" fill="#000"/>
<circle cx="1278.3" cy="471.7" r="5.3" fill="#000"/>
<circle cx="1393.2" cy="145.4" r="5.3" fill="#0ba8a8"/>
<circle cx="1384.5" cy="230.9" r="5.3" fill="#0ba8a8"/>
<circle cx="1402.3" cy="227.3" r="5.3" fill="#0ba8a8"/>
<circle cx="1393.2" cy="314" r="5.3" fill="#0ba8a8"/>
<circle cx="1393.2" cy="348.3" r="5.3" fill="#0ba8a8"/>
<circle cx="1393.2" cy="403" r="5.3" fill="#0ba8a8"/>
<circle cx="1393.2" cy="433.7" r="5.3" fill="#0ba8a8"/>
<circle cx="1384.5" cy="447.6" r="5.3" fill="#0ba8a8"/>
<circle cx="1402.3" cy="449.4" r="5.3" fill="#0ba8a8"/>
<circle cx="1393.2" cy="466" r="5.3" fill="#0ba8a8"/>
<line x1="1266.5" y1="129.1" x2="1387.2" y2="129.1" stroke="#000" stroke-width="2.6" stroke-linecap="butt"/>
<text x="1326.7" y="132.7" font-size="24" text-anchor="middle" font-weight="bold" fill="#000">*</text>
<text transform="translate(1059 283) rotate(-90)" font-size="26" text-anchor="middle" font-weight="bold" fill="#000">Photon Flux ( p/s)</text>
<line x1="1631.2" y1="127.05" x2="1631.2" y2="474.05" stroke="#000" stroke-width="2.3" stroke-linecap="butt"/>
<line x1="1624.7" y1="472.9" x2="1976" y2="472.9" stroke="#000" stroke-width="2.3" stroke-linecap="butt"/>
<line x1="1624.9" y1="472.9" x2="1631.2" y2="472.9" stroke="#000" stroke-width="1.9" stroke-linecap="butt"/>
<text x="1623.2" y="481.2" font-size="21" text-anchor="end" font-weight="bold" fill="#000">0</text>
<line x1="1624.9" y1="404" x2="1631.2" y2="404" stroke="#000" stroke-width="1.9" stroke-linecap="butt"/>
<text x="1623.7" y="412.3" font-size="21" text-anchor="end" font-weight="bold" fill="#000">1×10<tspan font-size="12.6" dy="-6.8" dx="2">9</tspan></text>
<line x1="1624.9" y1="335" x2="1631.2" y2="335" stroke="#000" stroke-width="1.9" stroke-linecap="butt"/>
<text x="1623.7" y="343.3" font-size="21" text-anchor="end" font-weight="bold" fill="#000">2×10<tspan font-size="12.6" dy="-6.8" dx="2">9</tspan></text>
<line x1="1624.9" y1="266.1" x2="1631.2" y2="266.1" stroke="#000" stroke-width="1.9" stroke-linecap="butt"/>
<text x="1623.7" y="274.4" font-size="21" text-anchor="end" font-weight="bold" fill="#000">3×10<tspan font-size="12.6" dy="-6.8" dx="2">9</tspan></text>
<line x1="1624.9" y1="197.2" x2="1631.2" y2="197.2" stroke="#000" stroke-width="1.9" stroke-linecap="butt"/>
<text x="1623.7" y="205.5" font-size="21" text-anchor="end" font-weight="bold" fill="#000">4×10<tspan font-size="12.6" dy="-6.8" dx="2">9</tspan></text>
<line x1="1624.9" y1="128.2" x2="1631.2" y2="128.2" stroke="#000" stroke-width="1.9" stroke-linecap="butt"/>
<text x="1623.7" y="136.5" font-size="21" text-anchor="end" font-weight="bold" fill="#000">5×10<tspan font-size="12.6" dy="-6.8" dx="2">9</tspan></text>
<line x1="1627.2" y1="465.24" x2="1631.2" y2="465.24" stroke="#000" stroke-width="1.5" stroke-linecap="butt"/>
<line x1="1627.2" y1="457.58" x2="1631.2" y2="457.58" stroke="#000" stroke-width="1.5" stroke-linecap="butt"/>
<line x1="1627.2" y1="449.92" x2="1631.2" y2="449.92" stroke="#000" stroke-width="1.5" stroke-linecap="butt"/>
<line x1="1627.2" y1="442.26" x2="1631.2" y2="442.26" stroke="#000" stroke-width="1.5" stroke-linecap="butt"/>
<line x1="1627.2" y1="434.6" x2="1631.2" y2="434.6" stroke="#000" stroke-width="1.5" stroke-linecap="butt"/>
<line x1="1627.2" y1="426.94" x2="1631.2" y2="426.94" stroke="#000" stroke-width="1.5" stroke-linecap="butt"/>
<line x1="1627.2" y1="419.28" x2="1631.2" y2="419.28" stroke="#000" stroke-width="1.5" stroke-linecap="butt"/>
<line x1="1627.2" y1="411.62" x2="1631.2" y2="411.62" stroke="#000" stroke-width="1.5" stroke-linecap="butt"/>
<line x1="1627.2" y1="396.3" x2="1631.2" y2="396.3" stroke="#000" stroke-width="1.5" stroke-linecap="butt"/>
<line x1="1627.2" y1="388.64" x2="1631.2" y2="388.64" stroke="#000" stroke-width="1.5" stroke-linecap="butt"/>
<line x1="1627.2" y1="380.98" x2="1631.2" y2="380.98" stroke="#000" stroke-width="1.5" stroke-linecap="butt"/>
<line x1="1627.2" y1="373.32" x2="1631.2" y2="373.32" stroke="#000" stroke-width="1.5" stroke-linecap="butt"/>
<line x1="1627.2" y1="365.66" x2="1631.2" y2="365.66" stroke="#000" stroke-width="1.5" stroke-linecap="butt"/>
<line x1="1627.2" y1="358" x2="1631.2" y2="358" stroke="#000" stroke-width="1.5" stroke-linecap="butt"/>
<line x1="1627.2" y1="350.34" x2="1631.2" y2="350.34" stroke="#000" stroke-width="1.5" stroke-linecap="butt"/>
<line x1="1627.2" y1="342.68" x2="1631.2" y2="342.68" stroke="#000" stroke-width="1.5" stroke-linecap="butt"/>
<line x1="1627.2" y1="327.36" x2="1631.2" y2="327.36" stroke="#000" stroke-width="1.5" stroke-linecap="butt"/>
<line x1="1627.2" y1="319.7" x2="1631.2" y2="319.7" stroke="#000" stroke-width="1.5" stroke-linecap="butt"/>
<line x1="1627.2" y1="312.04" x2="1631.2" y2="312.04" stroke="#000" stroke-width="1.5" stroke-linecap="butt"/>
<line x1="1627.2" y1="304.38" x2="1631.2" y2="304.38" stroke="#000" stroke-width="1.5" stroke-linecap="butt"/>
<line x1="1627.2" y1="296.72" x2="1631.2" y2="296.72" stroke="#000" stroke-width="1.5" stroke-linecap="butt"/>
<line x1="1627.2" y1="289.06" x2="1631.2" y2="289.06" stroke="#000" stroke-width="1.5" stroke-linecap="butt"/>
<line x1="1627.2" y1="281.4" x2="1631.2" y2="281.4" stroke="#000" stroke-width="1.5" stroke-linecap="butt"/>
<line x1="1627.2" y1="273.74" x2="1631.2" y2="273.74" stroke="#000" stroke-width="1.5" stroke-linecap="butt"/>
<line x1="1627.2" y1="258.42" x2="1631.2" y2="258.42" stroke="#000" stroke-width="1.5" stroke-linecap="butt"/>
<line x1="1627.2" y1="250.76" x2="1631.2" y2="250.76" stroke="#000" stroke-width="1.5" stroke-linecap="butt"/>
<line x1="1627.2" y1="243.1" x2="1631.2" y2="243.1" stroke="#000" stroke-width="1.5" stroke-linecap="butt"/>
<line x1="1627.2" y1="235.44" x2="1631.2" y2="235.44" stroke="#000" stroke-width="1.5" stroke-linecap="butt"/>
<line x1="1627.2" y1="227.78" x2="1631.2" y2="227.78" stroke="#000" stroke-width="1.5" stroke-linecap="butt"/>
<line x1="1627.2" y1="220.12" x2="1631.2" y2="220.12" stroke="#000" stroke-width="1.5" stroke-linecap="butt"/>
<line x1="1627.2" y1="212.46" x2="1631.2" y2="212.46" stroke="#000" stroke-width="1.5" stroke-linecap="butt"/>
<line x1="1627.2" y1="204.8" x2="1631.2" y2="204.8" stroke="#000" stroke-width="1.5" stroke-linecap="butt"/>
<line x1="1627.2" y1="189.48" x2="1631.2" y2="189.48" stroke="#000" stroke-width="1.5" stroke-linecap="butt"/>
<line x1="1627.2" y1="181.82" x2="1631.2" y2="181.82" stroke="#000" stroke-width="1.5" stroke-linecap="butt"/>
<line x1="1627.2" y1="174.16" x2="1631.2" y2="174.16" stroke="#000" stroke-width="1.5" stroke-linecap="butt"/>
<line x1="1627.2" y1="166.5" x2="1631.2" y2="166.5" stroke="#000" stroke-width="1.5" stroke-linecap="butt"/>
<line x1="1627.2" y1="158.84" x2="1631.2" y2="158.84" stroke="#000" stroke-width="1.5" stroke-linecap="butt"/>
<line x1="1627.2" y1="151.18" x2="1631.2" y2="151.18" stroke="#000" stroke-width="1.5" stroke-linecap="butt"/>
<line x1="1627.2" y1="143.52" x2="1631.2" y2="143.52" stroke="#000" stroke-width="1.5" stroke-linecap="butt"/>
<line x1="1627.2" y1="135.86" x2="1631.2" y2="135.86" stroke="#000" stroke-width="1.5" stroke-linecap="butt"/>
<line x1="1736.4" y1="472.9" x2="1736.4" y2="479.4" stroke="#000" stroke-width="2.3" stroke-linecap="butt"/>
<text x="1741" y="501.2" font-size="21" text-anchor="middle" fill="#000">CTRL</text>
<line x1="1869.2" y1="472.9" x2="1869.2" y2="479.4" stroke="#000" stroke-width="2.3" stroke-linecap="butt"/>
<text x="1873.7" y="501.2" font-size="21" text-anchor="middle" fill="#000">SQZD</text>
<line x1="1709.9" y1="417.2" x2="1763.2" y2="417.2" stroke="#000" stroke-width="1.4" stroke-linecap="butt"/>
<line x1="1842.4" y1="417.2" x2="1895.6" y2="417.2" stroke="#000" stroke-width="1.4" stroke-linecap="butt"/>
<circle cx="1736.4" cy="263.7" r="5.3" fill="#000"/>
<circle cx="1756.6" cy="377.2" r="5.3" fill="#000"/>
<circle cx="1736.4" cy="385" r="5.3" fill="#000"/>
<circle cx="1726.8" cy="416.3" r="5.3" fill="#000"/>
<circle cx="1746.6" cy="419" r="5.3" fill="#000"/>
<circle cx="1716.5" cy="472.3" r="5.3" fill="#000"/>
<circle cx="1736.4" cy="469.3" r="5.3" fill="#000"/>
<circle cx="1756.6" cy="470.8" r="5.3" fill="#000"/>
<circle cx="1869.2" cy="193.8" r="5.3" fill="#0ba8a8"/>
<circle cx="1869.2" cy="253.7" r="5.3" fill="#0ba8a8"/>
<circle cx="1859.2" cy="297.4" r="5.3" fill="#0ba8a8"/>
<circle cx="1879.1" cy="295.3" r="5.3" fill="#0ba8a8"/>
<circle cx="1869.2" cy="387.4" r="5.3" fill="#0ba8a8"/>
<circle cx="1869.2" cy="447.3" r="5.3" fill="#0ba8a8"/>
<circle cx="1849" cy="461.7" r="5.3" fill="#0ba8a8"/>
<circle cx="1849" cy="472" r="5.3" fill="#0ba8a8"/>
<circle cx="1869.2" cy="468.4" r="5.3" fill="#0ba8a8"/>
<circle cx="1889.3" cy="471.7" r="5.3" fill="#0ba8a8"/>
<text transform="translate(1547 283) rotate(-90)" font-size="26" text-anchor="middle" font-weight="bold" fill="#000">Photon Flux ( p/s)</text>
<line x1="1175" y1="703.15" x2="1175" y2="796" stroke="#000" stroke-width="2.3" stroke-linecap="butt"/>
<line x1="1175" y1="804.4" x2="1175" y2="1060.95" stroke="#000" stroke-width="2.3" stroke-linecap="butt"/>
<line x1="1171.4" y1="793.1" x2="1178.6" y2="798.9" stroke="#000" stroke-width="2.3" stroke-linecap="butt"/>
<line x1="1171.4" y1="801.5" x2="1178.6" y2="807.3" stroke="#000" stroke-width="2.3" stroke-linecap="butt"/>
<line x1="1168.5" y1="1059.8" x2="1526.1" y2="1059.8" stroke="#000" stroke-width="2.3" stroke-linecap="butt"/>
<line x1="1168.7" y1="1059.8" x2="1175" y2="1059.8" stroke="#000" stroke-width="1.9" stroke-linecap="butt"/>
<text x="1167" y="1068.1" font-size="21" text-anchor="end" font-weight="bold" fill="#000">0</text>
<line x1="1168.7" y1="974.3" x2="1175" y2="974.3" stroke="#000" stroke-width="1.9" stroke-linecap="butt"/>
<text x="1167.5" y="982.6" font-size="21" text-anchor="end" font-weight="bold" fill="#000">2×10<tspan font-size="12.6" dy="-6.8" dx="2">8</tspan></text>
<line x1="1168.7" y1="889.1" x2="1175" y2="889.1" stroke="#000" stroke-width="1.9" stroke-linecap="butt"/>
<text x="1167.5" y="897.4" font-size="21" text-anchor="end" font-weight="bold" fill="#000">4×10<tspan font-size="12.6" dy="-6.8" dx="2">8</tspan></text>
<line x1="1168.7" y1="803.6" x2="1175" y2="803.6" stroke="#000" stroke-width="1.9" stroke-linecap="butt"/>
<text x="1167.5" y="811.9" font-size="21" text-anchor="end" font-weight="bold" fill="#000">6×10<tspan font-size="12.6" dy="-6.8" dx="2">8</tspan></text>
<line x1="1168.7" y1="775.7" x2="1175" y2="775.7" stroke="#000" stroke-width="1.9" stroke-linecap="butt"/>
<text x="1167.5" y="784" font-size="21" text-anchor="end" font-weight="bold" fill="#000">2×10<tspan font-size="12.6" dy="-6.8" dx="2">9</tspan></text>
<line x1="1168.7" y1="740.1" x2="1175" y2="740.1" stroke="#000" stroke-width="1.9" stroke-linecap="butt"/>
<text x="1167.5" y="748.4" font-size="21" text-anchor="end" font-weight="bold" fill="#000">4×10<tspan font-size="12.6" dy="-6.8" dx="2">9</tspan></text>
<line x1="1168.7" y1="704.3" x2="1175" y2="704.3" stroke="#000" stroke-width="1.9" stroke-linecap="butt"/>
<text x="1167.5" y="712.6" font-size="21" text-anchor="end" font-weight="bold" fill="#000">6×10<tspan font-size="12.6" dy="-6.8" dx="2">9</tspan></text>
<line x1="1171" y1="1050.3" x2="1175" y2="1050.3" stroke="#000" stroke-width="1.5" stroke-linecap="butt"/>
<line x1="1171" y1="1040.8" x2="1175" y2="1040.8" stroke="#000" stroke-width="1.5" stroke-linecap="butt"/>
<line x1="1171" y1="1031.3" x2="1175" y2="1031.3" stroke="#000" stroke-width="1.5" stroke-linecap="butt"/>
<line x1="1171" y1="1021.8" x2="1175" y2="1021.8" stroke="#000" stroke-width="1.5" stroke-linecap="butt"/>
<line x1="1171" y1="1012.3" x2="1175" y2="1012.3" stroke="#000" stroke-width="1.5" stroke-linecap="butt"/>
<line x1="1171" y1="1002.8" x2="1175" y2="1002.8" stroke="#000" stroke-width="1.5" stroke-linecap="butt"/>
<line x1="1171" y1="993.3" x2="1175" y2="993.3" stroke="#000" stroke-width="1.5" stroke-linecap="butt"/>
<line x1="1171" y1="983.8" x2="1175" y2="983.8" stroke="#000" stroke-width="1.5" stroke-linecap="butt"/>
<line x1="1171" y1="964.83" x2="1175" y2="964.83" stroke="#000" stroke-width="1.5" stroke-linecap="butt"/>
<line x1="1171" y1="955.37" x2="1175" y2="955.37" stroke="#000" stroke-width="1.5" stroke-linecap="butt"/>
<line x1="1171" y1="945.9" x2="1175" y2="945.9" stroke="#000" stroke-width="1.5" stroke-linecap="butt"/>
<line x1="1171" y1="936.43" x2="1175" y2="936.43" stroke="#000" stroke-width="1.5" stroke-linecap="butt"/>
<line x1="1171" y1="926.97" x2="1175" y2="926.97" stroke="#000" stroke-width="1.5" stroke-linecap="butt"/>
<line x1="1171" y1="917.5" x2="1175" y2="917.5" stroke="#000" stroke-width="1.5" stroke-linecap="butt"/>
<line x1="1171" y1="908.03" x2="1175" y2="908.03" stroke="#000" stroke-width="1.5" stroke-linecap="butt"/>
<line x1="1171" y1="898.57" x2="1175" y2="898.57" stroke="#000" stroke-width="1.5" stroke-linecap="butt"/>
<line x1="1171" y1="879.6" x2="1175" y2="879.6" stroke="#000" stroke-width="1.5" stroke-linecap="butt"/>
<line x1="1171" y1="870.1" x2="1175" y2="870.1" stroke="#000" stroke-width="1.5" stroke-linecap="butt"/>
<line x1="1171" y1="860.6" x2="1175" y2="860.6" stroke="#000" stroke-width="1.5" stroke-linecap="butt"/>
<line x1="1171" y1="851.1" x2="1175" y2="851.1" stroke="#000" stroke-width="1.5" stroke-linecap="butt"/>
<line x1="1171" y1="841.6" x2="1175" y2="841.6" stroke="#000" stroke-width="1.5" stroke-linecap="butt"/>
<line x1="1171" y1="832.1" x2="1175" y2="832.1" stroke="#000" stroke-width="1.5" stroke-linecap="butt"/>
<line x1="1171" y1="822.6" x2="1175" y2="822.6" stroke="#000" stroke-width="1.5" stroke-linecap="butt"/>
<line x1="1171" y1="813.1" x2="1175" y2="813.1" stroke="#000" stroke-width="1.5" stroke-linecap="butt"/>
<line x1="1171" y1="768.58" x2="1175" y2="768.58" stroke="#000" stroke-width="1.5" stroke-linecap="butt"/>
<line x1="1171" y1="761.46" x2="1175" y2="761.46" stroke="#000" stroke-width="1.5" stroke-linecap="butt"/>
<line x1="1171" y1="754.34" x2="1175" y2="754.34" stroke="#000" stroke-width="1.5" stroke-linecap="butt"/>
<line x1="1171" y1="747.22" x2="1175" y2="747.22" stroke="#000" stroke-width="1.5" stroke-linecap="butt"/>
<line x1="1171" y1="732.94" x2="1175" y2="732.94" stroke="#000" stroke-width="1.5" stroke-linecap="butt"/>
<line x1="1171" y1="725.78" x2="1175" y2="725.78" stroke="#000" stroke-width="1.5" stroke-linecap="butt"/>
<line x1="1171" y1="718.62" x2="1175" y2="718.62" stroke="#000" stroke-width="1.5" stroke-linecap="butt"/>
<line x1="1171" y1="711.46" x2="1175" y2="711.46" stroke="#000" stroke-width="1.5" stroke-linecap="butt"/>
<line x1="1171" y1="782.8" x2="1175" y2="782.8" stroke="#000" stroke-width="1.5" stroke-linecap="butt"/>
<line x1="1171" y1="789.9" x2="1175" y2="789.9" stroke="#000" stroke-width="1.5" stroke-linecap="butt"/>
<line x1="1282.9" y1="1059.8" x2="1282.9" y2="1066.3" stroke="#000" stroke-width="2.3" stroke-linecap="butt"/>
<text x="1287.4" y="1088.7" font-size="21" text-anchor="middle" fill="#000">CTRL</text>
<line x1="1417.5" y1="1059.8" x2="1417.5" y2="1066.3" stroke="#000" stroke-width="2.3" stroke-linecap="butt"/>
<text x="1422.3" y="1088.7" font-size="21" text-anchor="middle" fill="#000">SQZD</text>
<line x1="1256.1" y1="1056.2" x2="1309.7" y2="1056.2" stroke="#000" stroke-width="1.4" stroke-linecap="butt"/>
<line x1="1390.7" y1="958.1" x2="1444.3" y2="958.1" stroke="#000" stroke-width="1.4" stroke-linecap="butt"/>
<circle cx="1282.9" cy="954.8" r="5.3" fill="#000"/>
<circle cx="1282.9" cy="1041.1" r="5.3" fill="#000"/>
<circle cx="1253.7" cy="1054.1" r="5.3" fill="#000"/>
<circle cx="1292.5" cy="1055.9" r="5.3" fill="#000"/>
<circle cx="1331.4" cy="1055.9" r="5.3" fill="#000"/>
<circle cx="1234.1" cy="1059.8" r="5.3" fill="#000"/>
<circle cx="1273" cy="1059.8" r="5.3" fill="#000"/>
<circle cx="1312.1" cy="1060.1" r="5.3" fill="#000"/>
<circle cx="1417.5" cy="747.4" r="5.3" fill="#0ba8a8"/>
<circle cx="1417.5" cy="793.1" r="5.3" fill="#0ba8a8"/>
<circle cx="1417.5" cy="814.2" r="5.3" fill="#0ba8a8"/>
<circle cx="1417.5" cy="922.8" r="5.3" fill="#0ba8a8"/>
<circle cx="1427.4" cy="955.4" r="5.3" fill="#0ba8a8"/>
<circle cx="1407.2" cy="961.1" r="5.3" fill="#0ba8a8"/>
<circle cx="1417.5" cy="984" r="5.3" fill="#0ba8a8"/>
<circle cx="1407.2" cy="1027.6" r="5.3" fill="#0ba8a8"/>
<circle cx="1427.4" cy="1037.2" r="5.3" fill="#0ba8a8"/>
<circle cx="1417.5" cy="1057.1" r="5.3" fill="#0ba8a8"/>
<line x1="1282.9" y1="732.3" x2="1417.5" y2="732.3" stroke="#000" stroke-width="2.6" stroke-linecap="butt"/>
<text x="1350.75" y="735.9" font-size="24" text-anchor="middle" font-weight="bold" fill="#000" letter-spacing="1.5">**</text>
<text transform="translate(1089 868) rotate(-90)" font-size="26" text-anchor="middle" font-weight="bold" fill="#000">Photon Flux ( p/s)</text>
<line x1="1635.3" y1="704.05" x2="1635.3" y2="793" stroke="#000" stroke-width="2.3" stroke-linecap="butt"/>
<line x1="1635.3" y1="801.4" x2="1635.3" y2="1062.15" stroke="#000" stroke-width="2.3" stroke-linecap="butt"/>
<line x1="1631.7" y1="790.1" x2="1638.9" y2="795.9" stroke="#000" stroke-width="2.3" stroke-linecap="butt"/>
<line x1="1631.7" y1="798.5" x2="1638.9" y2="804.3" stroke="#000" stroke-width="2.3" stroke-linecap="butt"/>
<line x1="1628.8" y1="1061" x2="1992" y2="1061" stroke="#000" stroke-width="2.3" stroke-linecap="butt"/>
<line x1="1629" y1="1061" x2="1635.3" y2="1061" stroke="#000" stroke-width="1.9" stroke-linecap="butt"/>
<text x="1627.3" y="1069.3" font-size="21" text-anchor="end" font-weight="bold" fill="#000">0</text>
<line x1="1629" y1="995.7" x2="1635.3" y2="995.7" stroke="#000" stroke-width="1.9" stroke-linecap="butt"/>
<text x="1627.8" y="1004" font-size="21" text-anchor="end" font-weight="bold" fill="#000">5×10<tspan font-size="12.6" dy="-6.8" dx="2">7</tspan></text>
<line x1="1629" y1="930.7" x2="1635.3" y2="930.7" stroke="#000" stroke-width="1.9" stroke-linecap="butt"/>
<text x="1627.8" y="939" font-size="21" text-anchor="end" font-weight="bold" fill="#000">1×10<tspan font-size="12.6" dy="-6.8" dx="2">8</tspan></text>
<line x1="1629" y1="865.4" x2="1635.3" y2="865.4" stroke="#000" stroke-width="1.9" stroke-linecap="butt"/>
<text x="1627.8" y="873.7" font-size="21" text-anchor="end" font-weight="bold" fill="#000">1.5×10<tspan font-size="12.6" dy="-6.8" dx="2">8</tspan></text>
<line x1="1629" y1="800.3" x2="1635.3" y2="800.3" stroke="#000" stroke-width="1.9" stroke-linecap="butt"/>
<text x="1627.8" y="808.6" font-size="21" text-anchor="end" font-weight="bold" fill="#000">2×10<tspan font-size="12.6" dy="-6.8" dx="2">8</tspan></text>
<line x1="1629" y1="748.9" x2="1635.3" y2="748.9" stroke="#000" stroke-width="1.9" stroke-linecap="butt"/>
<text x="1627.8" y="757.2" font-size="21" text-anchor="end" font-weight="bold" fill="#000">5×10<tspan font-size="12.6" dy="-6.8" dx="2">9</tspan></text>
<line x1="1629" y1="705.2" x2="1635.3" y2="705.2" stroke="#000" stroke-width="1.9" stroke-linecap="butt"/>
<text x="1627.8" y="713.5" font-size="21" text-anchor="end" font-weight="bold" fill="#000">6×10<tspan font-size="12.6" dy="-6.8" dx="2">9</tspan></text>
<line x1="1631.3" y1="1047.94" x2="1635.3" y2="1047.94" stroke="#000" stroke-width="1.5" stroke-linecap="butt"/>
<line x1="1631.3" y1="1034.88" x2="1635.3" y2="1034.88" stroke="#000" stroke-width="1.5" stroke-linecap="butt"/>
<line x1="1631.3" y1="1021.82" x2="1635.3" y2="1021.82" stroke="#000" stroke-width="1.5" stroke-linecap="butt"/>
<line x1="1631.3" y1="1008.76" x2="1635.3" y2="1008.76" stroke="#000" stroke-width="1.5" stroke-linecap="butt"/>
<line x1="1631.3" y1="982.7" x2="1635.3" y2="982.7" stroke="#000" stroke-width="1.5" stroke-linecap="butt"/>
<line x1="1631.3" y1="969.7" x2="1635.3" y2="969.7" stroke="#000" stroke-width="1.5" stroke-linecap="butt"/>
<line x1="1631.3" y1="956.7" x2="1635.3" y2="956.7" stroke="#000" stroke-width="1.5" stroke-linecap="butt"/>
<line x1="1631.3" y1="943.7" x2="1635.3" y2="943.7" stroke="#000" stroke-width="1.5" stroke-linecap="butt"/>
<line x1="1631.3" y1="917.64" x2="1635.3" y2="917.64" stroke="#000" stroke-width="1.5" stroke-linecap="butt"/>
<line x1="1631.3" y1="904.58" x2="1635.3" y2="904.58" stroke="#000" stroke-width="1.5" stroke-linecap="butt"/>
<line x1="1631.3" y1="891.52" x2="1635.3" y2="891.52" stroke="#000" stroke-width="1.5" stroke-linecap="butt"/>
<line x1="1631.3" y1="878.46" x2="1635.3" y2="878.46" stroke="#000" stroke-width="1.5" stroke-linecap="butt"/>
<line x1="1631.3" y1="852.38" x2="1635.3" y2="852.38" stroke="#000" stroke-width="1.5" stroke-linecap="butt"/>
<line x1="1631.3" y1="839.36" x2="1635.3" y2="839.36" stroke="#000" stroke-width="1.5" stroke-linecap="butt"/>
<line x1="1631.3" y1="826.34" x2="1635.3" y2="826.34" stroke="#000" stroke-width="1.5" stroke-linecap="butt"/>
<line x1="1631.3" y1="813.32" x2="1635.3" y2="813.32" stroke="#000" stroke-width="1.5" stroke-linecap="butt"/>
<line x1="1631.3" y1="740.16" x2="1635.3" y2="740.16" stroke="#000" stroke-width="1.5" stroke-linecap="butt"/>
<line x1="1631.3" y1="731.42" x2="1635.3" y2="731.42" stroke="#000" stroke-width="1.5" stroke-linecap="butt"/>
<line x1="1631.3" y1="722.68" x2="1635.3" y2="722.68" stroke="#000" stroke-width="1.5" stroke-linecap="butt"/>
<line x1="1631.3" y1="713.94" x2="1635.3" y2="713.94" stroke="#000" stroke-width="1.5" stroke-linecap="butt"/>
<line x1="1631.3" y1="757.64" x2="1635.3" y2="757.64" stroke="#000" stroke-width="1.5" stroke-linecap="butt"/>
<line x1="1631.3" y1="766.38" x2="1635.3" y2="766.38" stroke="#000" stroke-width="1.5" stroke-linecap="butt"/>
<line x1="1631.3" y1="775.12" x2="1635.3" y2="775.12" stroke="#000" stroke-width="1.5" stroke-linecap="butt"/>
<line x1="1631.3" y1="783.86" x2="1635.3" y2="783.86" stroke="#000" stroke-width="1.5" stroke-linecap="butt"/>
<line x1="1744.8" y1="1061" x2="1744.8" y2="1067.5" stroke="#000" stroke-width="2.3" stroke-linecap="butt"/>
<text x="1748.8" y="1088.7" font-size="21" text-anchor="middle" fill="#000">CTRL</text>
<line x1="1880.9" y1="1061" x2="1880.9" y2="1067.5" stroke="#000" stroke-width="2.3" stroke-linecap="butt"/>
<text x="1885.4" y="1088.7" font-size="21" text-anchor="middle" fill="#000">SQZD</text>
<line x1="1854.1" y1="982.1" x2="1908.3" y2="982.1" stroke="#000" stroke-width="1.4" stroke-linecap="butt"/>
<circle cx="1744.8" cy="1042.9" r="5.3" fill="#000"/>
<circle cx="1711.7" cy="1056.2" r="5.3" fill="#000"/>
<circle cx="1744.8" cy="1056.5" r="5.3" fill="#000"/>
<circle cx="1695.2" cy="1060.7" r="5.3" fill="#000"/>
<circle cx="1728.3" cy="1060.4" r="5.3" fill="#000"/>
<circle cx="1761.4" cy="1061" r="5.3" fill="#000"/>
<circle cx="1778" cy="1059.8" r="5.3" fill="#000"/>
<circle cx="1794.5" cy="1060.7" r="5.3" fill="#000"/>
<circle cx="1880.9" cy="719.1" r="5.3" fill="#0ba8a8"/>
<circle cx="1880.9" cy="811.2" r="5.3" fill="#0ba8a8"/>
<circle cx="1880.9" cy="852.7" r="5.3" fill="#0ba8a8"/>
<circle cx="1880.9" cy="918.6" r="5.3" fill="#0ba8a8"/>
<circle cx="1880.9" cy="973.7" r="5.3" fill="#0ba8a8"/>
<circle cx="1880.9" cy="991.5" r="5.3" fill="#0ba8a8"/>
<circle cx="1880.9" cy="1043.8" r="5.3" fill="#0ba8a8"/>
<circle cx="1880.9" cy="1055.9" r="5.3" fill="#0ba8a8"/>
<circle cx="1860.7" cy="1059.8" r="5.3" fill="#0ba8a8"/>
<circle cx="1901.4" cy="1058.9" r="5.3" fill="#0ba8a8"/>
<line x1="1744.8" y1="703.4" x2="1880.9" y2="703.4" stroke="#000" stroke-width="2.6" stroke-linecap="butt"/>
<text x="1813.35" y="707" font-size="24" text-anchor="middle" font-weight="bold" fill="#000" letter-spacing="1.5">**</text>
<text transform="translate(1547 875) rotate(-90)" font-size="26" text-anchor="middle" font-weight="bold" fill="#000">Photon Flux ( p/s)</text>
<line x1="1319.4" y1="1258.4" x2="1319.4" y2="1675.4" stroke="#000" stroke-width="1.3" stroke-linecap="butt"/>
<line x1="1310.4" y1="1674.8" x2="1868.1" y2="1674.8" stroke="#000" stroke-width="1.3" stroke-linecap="butt"/>
<line x1="1310.4" y1="1674.8" x2="1319.4" y2="1674.8" stroke="#000" stroke-width="1.3" stroke-linecap="butt"/>
<text x="1309.7" y="1685.2" font-size="27.5" text-anchor="end" font-weight="bold" fill="#000">0</text>
<line x1="1310.4" y1="1596.62" x2="1319.4" y2="1596.62" stroke="#000" stroke-width="1.3" stroke-linecap="butt"/>
<text x="1309.7" y="1607.02" font-size="27.5" text-anchor="end" font-weight="bold" fill="#000">20</text>
<line x1="1310.4" y1="1518.44" x2="1319.4" y2="1518.44" stroke="#000" stroke-width="1.3" stroke-linecap="butt"/>
<text x="1309.7" y="1528.84" font-size="27.5" text-anchor="end" font-weight="bold" fill="#000">40</text>
<line x1="1310.4" y1="1440.26" x2="1319.4" y2="1440.26" stroke="#000" stroke-width="1.3" stroke-linecap="butt"/>
<text x="1309.7" y="1450.66" font-size="27.5" text-anchor="end" font-weight="bold" fill="#000">60</text>
<line x1="1310.4" y1="1362.08" x2="1319.4" y2="1362.08" stroke="#000" stroke-width="1.3" stroke-linecap="butt"/>
<text x="1309.7" y="1372.48" font-size="27.5" text-anchor="end" font-weight="bold" fill="#000">80</text>
<line x1="1310.4" y1="1283.9" x2="1319.4" y2="1283.9" stroke="#000" stroke-width="1.3" stroke-linecap="butt"/>
<text x="1309.7" y="1294.3" font-size="27.5" text-anchor="end" font-weight="bold" fill="#000">100</text>
<line x1="1315.4" y1="1659.16" x2="1319.4" y2="1659.16" stroke="#000" stroke-width="1" stroke-linecap="butt"/>
<line x1="1315.4" y1="1643.53" x2="1319.4" y2="1643.53" stroke="#000" stroke-width="1" stroke-linecap="butt"/>
<line x1="1315.4" y1="1627.89" x2="1319.4" y2="1627.89" stroke="#000" stroke-width="1" stroke-linecap="butt"/>
<line x1="1315.4" y1="1612.26" x2="1319.4" y2="1612.26" stroke="#000" stroke-width="1" stroke-linecap="butt"/>
<line x1="1315.4" y1="1580.98" x2="1319.4" y2="1580.98" stroke="#000" stroke-width="1" stroke-linecap="butt"/>
<line x1="1315.4" y1="1565.35" x2="1319.4" y2="1565.35" stroke="#000" stroke-width="1" stroke-linecap="butt"/>
<line x1="1315.4" y1="1549.71" x2="1319.4" y2="1549.71" stroke="#000" stroke-width="1" stroke-linecap="butt"/>
<line x1="1315.4" y1="1534.08" x2="1319.4" y2="1534.08" stroke="#000" stroke-width="1" stroke-linecap="butt"/>
<line x1="1315.4" y1="1502.8" x2="1319.4" y2="1502.8" stroke="#000" stroke-width="1" stroke-linecap="butt"/>
<line x1="1315.4" y1="1487.17" x2="1319.4" y2="1487.17" stroke="#000" stroke-width="1" stroke-linecap="butt"/>
<line x1="1315.4" y1="1471.53" x2="1319.4" y2="1471.53" stroke="#000" stroke-width="1" stroke-linecap="butt"/>
<line x1="1315.4" y1="1455.9" x2="1319.4" y2="1455.9" stroke="#000" stroke-width="1" stroke-linecap="butt"/>
<line x1="1315.4" y1="1424.62" x2="1319.4" y2="1424.62" stroke="#000" stroke-width="1" stroke-linecap="butt"/>
<line x1="1315.4" y1="1408.99" x2="1319.4" y2="1408.99" stroke="#000" stroke-width="1" stroke-linecap="butt"/>
<line x1="1315.4" y1="1393.35" x2="1319.4" y2="1393.35" stroke="#000" stroke-width="1" stroke-linecap="butt"/>
<line x1="1315.4" y1="1377.72" x2="1319.4" y2="1377.72" stroke="#000" stroke-width="1" stroke-linecap="butt"/>
<line x1="1315.4" y1="1346.44" x2="1319.4" y2="1346.44" stroke="#000" stroke-width="1" stroke-linecap="butt"/>
<line x1="1315.4" y1="1330.81" x2="1319.4" y2="1330.81" stroke="#000" stroke-width="1" stroke-linecap="butt"/>
<line x1="1315.4" y1="1315.17" x2="1319.4" y2="1315.17" stroke="#000" stroke-width="1" stroke-linecap="butt"/>
<line x1="1315.4" y1="1299.54" x2="1319.4" y2="1299.54" stroke="#000" stroke-width="1" stroke-linecap="butt"/>
<line x1="1315.4" y1="1268.26" x2="1319.4" y2="1268.26" stroke="#000" stroke-width="1" stroke-linecap="butt"/>
<line x1="1319.4" y1="1674.8" x2="1319.4" y2="1683.8" stroke="#000" stroke-width="1.3" stroke-linecap="butt"/>
<text x="1319.4" y="1707.3" font-size="26" text-anchor="middle" fill="#000">0</text>
<line x1="1410.75" y1="1674.8" x2="1410.75" y2="1683.8" stroke="#000" stroke-width="1.3" stroke-linecap="butt"/>
<text x="1410.75" y="1707.3" font-size="26" text-anchor="middle" fill="#000">10</text>
<line x1="1502.1" y1="1674.8" x2="1502.1" y2="1683.8" stroke="#000" stroke-width="1.3" stroke-linecap="butt"/>
<text x="1502.1" y="1707.3" font-size="26" text-anchor="middle" fill="#000">20</text>
<line x1="1593.45" y1="1674.8" x2="1593.45" y2="1683.8" stroke="#000" stroke-width="1.3" stroke-linecap="butt"/>
<text x="1593.45" y="1707.3" font-size="26" text-anchor="middle" fill="#000">30</text>
<line x1="1684.8" y1="1674.8" x2="1684.8" y2="1683.8" stroke="#000" stroke-width="1.3" stroke-linecap="butt"/>
<text x="1684.8" y="1707.3" font-size="26" text-anchor="middle" fill="#000">40</text>
<line x1="1776.15" y1="1674.8" x2="1776.15" y2="1683.8" stroke="#000" stroke-width="1.3" stroke-linecap="butt"/>
<text x="1776.15" y="1707.3" font-size="26" text-anchor="middle" fill="#000">50</text>
<line x1="1867.5" y1="1674.8" x2="1867.5" y2="1683.8" stroke="#000" stroke-width="1.3" stroke-linecap="butt"/>
<text x="1867.5" y="1707.3" font-size="26" text-anchor="middle" fill="#000">60</text>
<line x1="1337.67" y1="1674.8" x2="1337.67" y2="1678.8" stroke="#000" stroke-width="1" stroke-linecap="butt"/>
<line x1="1355.94" y1="1674.8" x2="1355.94" y2="1678.8" stroke="#000" stroke-width="1" stroke-linecap="butt"/>
<line x1="1374.21" y1="1674.8" x2="1374.21" y2="1678.8" stroke="#000" stroke-width="1" stroke-linecap="butt"/>
<line x1="1392.48" y1="1674.8" x2="1392.48" y2="1678.8" stroke="#000" stroke-width="1" stroke-linecap="butt"/>
<line x1="1429.02" y1="1674.8" x2="1429.02" y2="1678.8" stroke="#000" stroke-width="1" stroke-linecap="butt"/>
<line x1="1447.29" y1="1674.8" x2="1447.29" y2="1678.8" stroke="#000" stroke-width="1" stroke-linecap="butt"/>
<line x1="1465.56" y1="1674.8" x2="1465.56" y2="1678.8" stroke="#000" stroke-width="1" stroke-linecap="butt"/>
<line x1="1483.83" y1="1674.8" x2="1483.83" y2="1678.8" stroke="#000" stroke-width="1" stroke-linecap="butt"/>
<line x1="1520.37" y1="1674.8" x2="1520.37" y2="1678.8" stroke="#000" stroke-width="1" stroke-linecap="butt"/>
<line x1="1538.64" y1="1674.8" x2="1538.64" y2="1678.8" stroke="#000" stroke-width="1" stroke-linecap="butt"/>
<line x1="1556.91" y1="1674.8" x2="1556.91" y2="1678.8" stroke="#000" stroke-width="1" stroke-linecap="butt"/>
<line x1="1575.18" y1="1674.8" x2="1575.18" y2="1678.8" stroke="#000" stroke-width="1" stroke-linecap="butt"/>
<line x1="1611.72" y1="1674.8" x2="1611.72" y2="1678.8" stroke="#000" stroke-width="1" stroke-linecap="butt"/>
<line x1="1629.99" y1="1674.8" x2="1629.99" y2="1678.8" stroke="#000" stroke-width="1" stroke-linecap="butt"/>
<line x1="1648.26" y1="1674.8" x2="1648.26" y2="1678.8" stroke="#000" stroke-width="1" stroke-linecap="butt"/>
<line x1="1666.53" y1="1674.8" x2="1666.53" y2="1678.8" stroke="#000" stroke-width="1" stroke-linecap="butt"/>
<line x1="1703.07" y1="1674.8" x2="1703.07" y2="1678.8" stroke="#000" stroke-width="1" stroke-linecap="butt"/>
<line x1="1721.34" y1="1674.8" x2="1721.34" y2="1678.8" stroke="#000" stroke-width="1" stroke-linecap="butt"/>
<line x1="1739.61" y1="1674.8" x2="1739.61" y2="1678.8" stroke="#000" stroke-width="1" stroke-linecap="butt"/>
<line x1="1757.88" y1="1674.8" x2="1757.88" y2="1678.8" stroke="#000" stroke-width="1" stroke-linecap="butt"/>
<line x1="1794.42" y1="1674.8" x2="1794.42" y2="1678.8" stroke="#000" stroke-width="1" stroke-linecap="butt"/>
<line x1="1812.69" y1="1674.8" x2="1812.69" y2="1678.8" stroke="#000" stroke-width="1" stroke-linecap="butt"/>
<line x1="1830.96" y1="1674.8" x2="1830.96" y2="1678.8" stroke="#000" stroke-width="1" stroke-linecap="butt"/>
<line x1="1849.23" y1="1674.8" x2="1849.23" y2="1678.8" stroke="#000" stroke-width="1" stroke-linecap="butt"/>
<text x="1591.7" y="1738.8" font-size="26.5" text-anchor="middle" fill="#000">Days</text>
<text transform="translate(1254.3 1450.5) rotate(-90)" font-size="26.5" text-anchor="middle" font-weight="bold" fill="#000">Overall Survival (%)</text>
<polyline fill="none" stroke="#0ba8a8" stroke-width="2.4" points="1319.4,1284.4 1593.45,1284.4 1593.45,1322.99 1620.86,1322.99 1620.86,1362.08 1648.26,1362.08 1648.26,1401.17 1657.39,1401.17 1657.39,1440.26 1684.8,1440.26 1684.8,1479.35 1693.93,1479.35 1693.93,1518.44 1712.21,1518.44 1712.21,1557.53 1739.61,1557.53 1739.61,1596.62 1757.88,1596.62 1757.88,1635.71 1776.15,1635.71"/>
<line x1="1776.15" y1="1636.91" x2="1776.15" y2="1627.71" stroke="#0ba8a8" stroke-width="2.4" stroke-linecap="butt"/>
<polyline fill="none" stroke="#000" stroke-width="2.4" points="1319.4,1283.9 1721.34,1283.9 1721.34,1332.76 1776.15,1332.76"/>
<line x1="1776.15" y1="1333.96" x2="1776.15" y2="1324.76" stroke="#000" stroke-width="2.4" stroke-linecap="butt"/>
<line x1="1844" y1="1334.5" x2="1861" y2="1334.5" stroke="#000" stroke-width="2.4" stroke-linecap="butt"/>
<line x1="1852.5" y1="1334.5" x2="1852.5" y2="1327.5" stroke="#000" stroke-width="2.4" stroke-linecap="butt"/>
<text x="1871" y="1343.5" font-size="24.5" text-anchor="start" fill="#000">CTRL</text>
<line x1="1844" y1="1374.8" x2="1861" y2="1374.8" stroke="#0ba8a8" stroke-width="2.4" stroke-linecap="butt"/>
<line x1="1852.5" y1="1374.8" x2="1852.5" y2="1367.8" stroke="#0ba8a8" stroke-width="2.4" stroke-linecap="butt"/>
<text x="1871" y="1383.8" font-size="24.5" text-anchor="start" fill="#000">SQZD</text>
<line x1="1805.7" y1="1383.7" x2="1805.7" y2="1631.4" stroke="#000" stroke-width="1.2" stroke-linecap="butt"/>
<text transform="translate(1852 1512.5) rotate(90)" font-size="24" text-anchor="middle" fill="#000">** <tspan font-style="italic">P</tspan> = 0.002</text>
<text transform="translate(1820 1512) rotate(90)" font-size="24" text-anchor="middle" fill="#000">(log rank test)</text>
</svg>
</body></html>
